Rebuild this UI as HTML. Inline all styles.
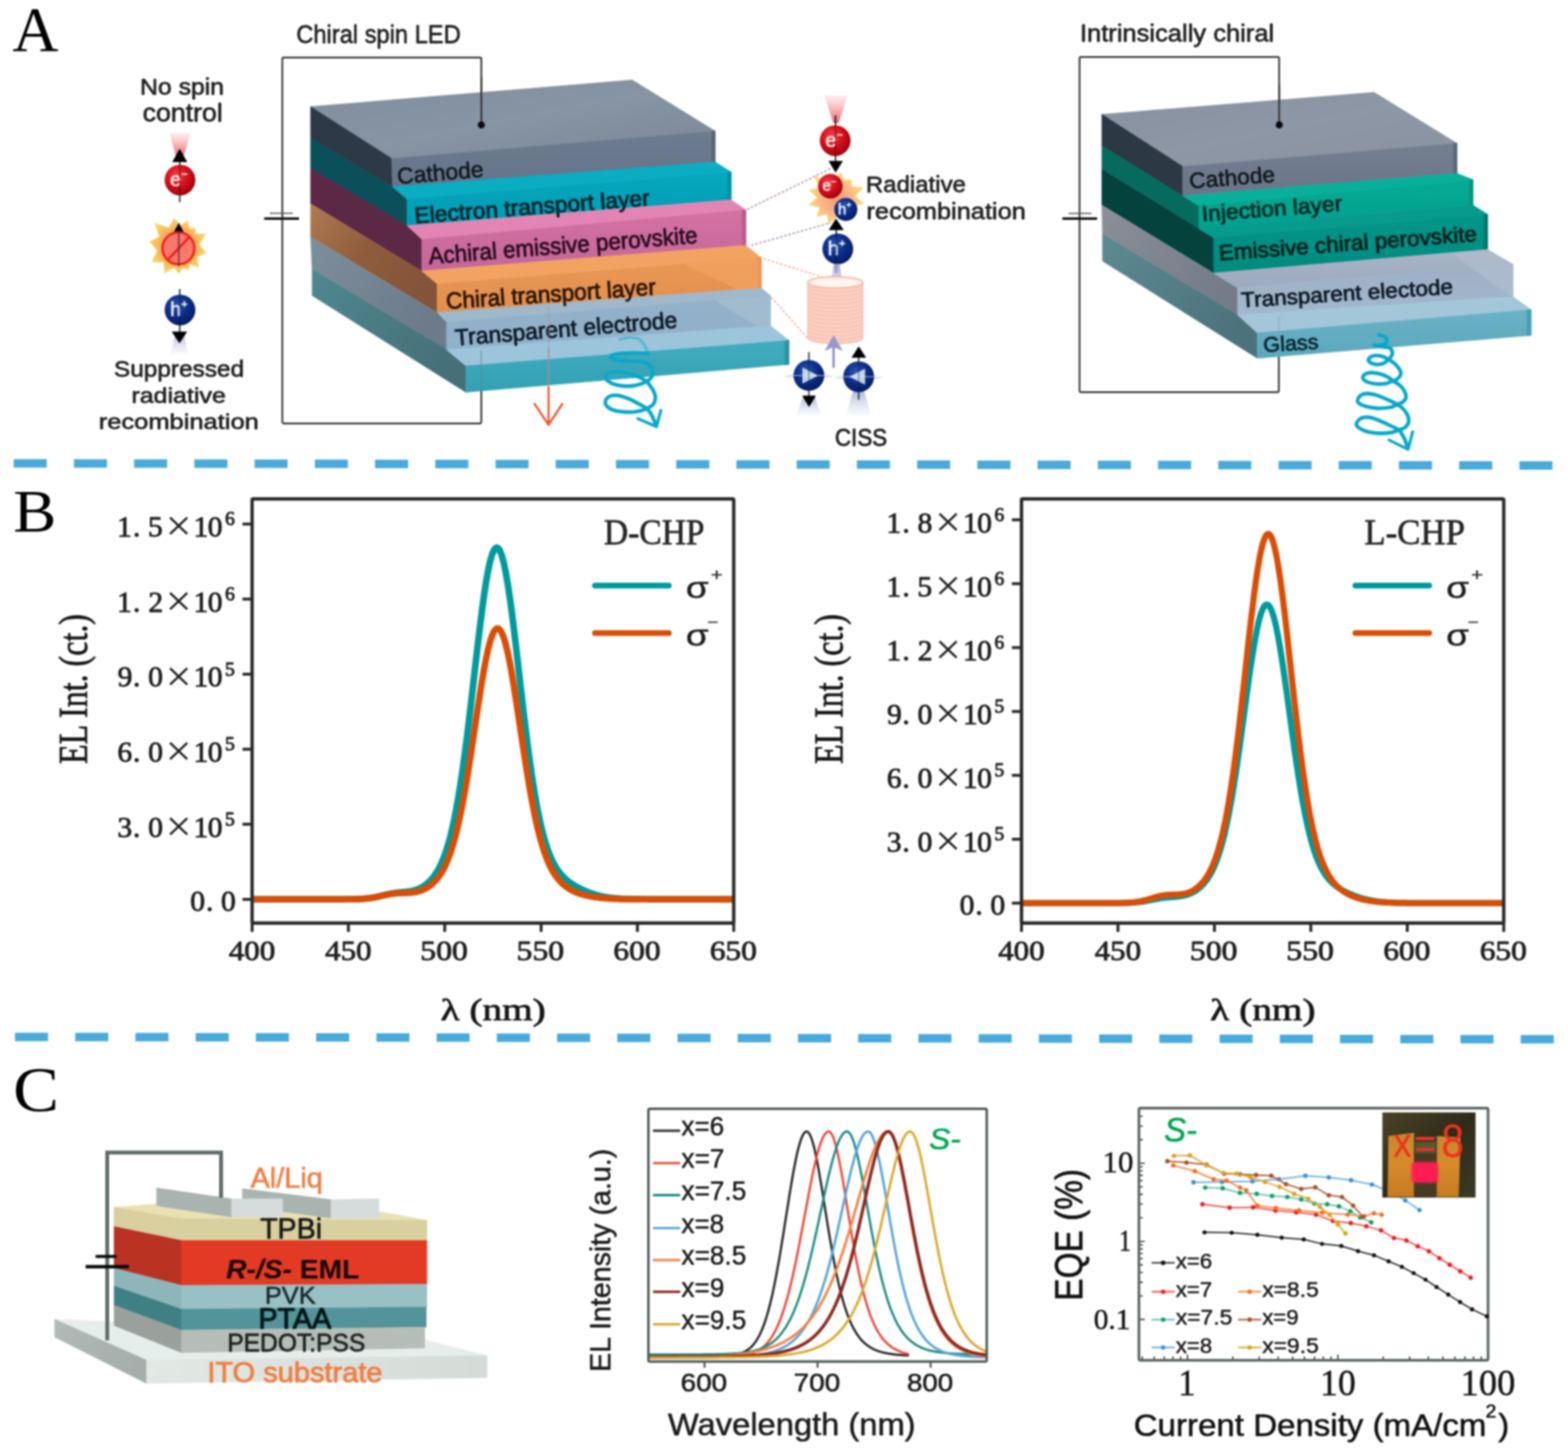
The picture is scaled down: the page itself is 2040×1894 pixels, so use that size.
<!DOCTYPE html>
<html lang="en"><head><meta charset="utf-8"><title>Chiral spin LED figure</title>
<style>
html,body{margin:0;padding:0;background:#fff;}
html,body{width:2040px;height:1894px;}
body{font-family:"Liberation Sans",sans-serif;}
svg{display:block;filter:blur(0.9px);}
text{white-space:pre;}
</style></head><body>
<svg width="2040" height="1894" viewBox="0 0 2040 1894">
<rect width="2040" height="1894" fill="#ffffff"/>
<defs>
<linearGradient id="gRedUp" x1="0" y1="0" x2="0" y2="1"><stop offset="0" stop-color="#ffd0d4" stop-opacity="0.4"/><stop offset="0.6" stop-color="#f59aa2" stop-opacity="0.9"/><stop offset="1" stop-color="#ee6a76" stop-opacity="1"/></linearGradient>
<linearGradient id="gBlueDn" x1="0" y1="0" x2="0" y2="1"><stop offset="0" stop-color="#b9b6de" stop-opacity="0.9"/><stop offset="1" stop-color="#e4e3f3" stop-opacity="0.2"/></linearGradient>
<linearGradient id="gBlueDn2" x1="0" y1="0" x2="0" y2="1"><stop offset="0" stop-color="#9fb3d8" stop-opacity="0.95"/><stop offset="1" stop-color="#e1e8f4" stop-opacity="0.25"/></linearGradient>
<linearGradient id="gBlueUp" x1="0" y1="1" x2="0" y2="0"><stop offset="0" stop-color="#c9c6e6" stop-opacity="0.5"/><stop offset="1" stop-color="#9a98cc" stop-opacity="0.95"/></linearGradient>
<radialGradient id="gBallR" cx="0.4" cy="0.35" r="0.75"><stop offset="0" stop-color="#f5434a"/><stop offset="0.45" stop-color="#d8101c"/><stop offset="1" stop-color="#8a0008"/></radialGradient>
<radialGradient id="gBallB" cx="0.4" cy="0.35" r="0.75"><stop offset="0" stop-color="#2b55b4"/><stop offset="0.45" stop-color="#0c2f8a"/><stop offset="1" stop-color="#031658"/></radialGradient>
<radialGradient id="gBurst" cx="0.5" cy="0.5" r="0.5"><stop offset="0" stop-color="#f58a5a"/><stop offset="0.62" stop-color="#f8ae5c"/><stop offset="1" stop-color="#fbd665"/></radialGradient>
<radialGradient id="gBurst2" cx="0.5" cy="0.5" r="0.5"><stop offset="0" stop-color="#f79a7c"/><stop offset="0.6" stop-color="#fab985"/><stop offset="1" stop-color="#fcdc80"/></radialGradient>
<linearGradient id="gCathTop" x1="0" y1="0" x2="1" y2="1"><stop offset="0" stop-color="#7f8e9d"/><stop offset="0.5" stop-color="#8794a3"/><stop offset="1" stop-color="#7b8797"/></linearGradient>
<linearGradient id="gCathFront" x1="0" y1="0" x2="0" y2="1"><stop offset="0" stop-color="#6d7c8e"/><stop offset="1" stop-color="#65748a"/></linearGradient>
<linearGradient id="gEtl" x1="0" y1="0" x2="0" y2="1"><stop offset="0" stop-color="#06a9bf"/><stop offset="1" stop-color="#019bb3"/></linearGradient>
<linearGradient id="gPink" x1="0" y1="0" x2="0" y2="1"><stop offset="0" stop-color="#d472a3"/><stop offset="1" stop-color="#c4669a"/></linearGradient>
<linearGradient id="gOrange" x1="0" y1="0" x2="0" y2="1"><stop offset="0" stop-color="#eb9855"/><stop offset="1" stop-color="#e28f4e"/></linearGradient>
<linearGradient id="gOrSide" x1="0" y1="0" x2="1" y2="0.6"><stop offset="0" stop-color="#b07a52"/><stop offset="0.5" stop-color="#8f5d3c"/><stop offset="1" stop-color="#84543a"/></linearGradient>
<linearGradient id="gTe" x1="0" y1="0" x2="0" y2="1"><stop offset="0" stop-color="#94b1c8"/><stop offset="1" stop-color="#8fb2cb"/></linearGradient>
<linearGradient id="gTeSide" x1="0" y1="0" x2="1" y2="0.6"><stop offset="0" stop-color="#7d8e9c"/><stop offset="1" stop-color="#6c7a8a"/></linearGradient>
<linearGradient id="gGlass" x1="0" y1="0" x2="0" y2="1"><stop offset="0" stop-color="#41acbe"/><stop offset="1" stop-color="#33a1b4"/></linearGradient>
<linearGradient id="gGlSide" x1="0" y1="0" x2="1" y2="0.6"><stop offset="0" stop-color="#4f8890"/><stop offset="1" stop-color="#466f78"/></linearGradient>
<linearGradient id="gCath2Top" x1="0" y1="0" x2="1" y2="1"><stop offset="0" stop-color="#87919f"/><stop offset="0.5" stop-color="#8e97a5"/><stop offset="1" stop-color="#8a92a0"/></linearGradient>
<linearGradient id="gCath2Front" x1="0" y1="0" x2="0" y2="1"><stop offset="0" stop-color="#747f90"/><stop offset="1" stop-color="#6a7688"/></linearGradient>
<linearGradient id="gInj" x1="0" y1="0" x2="0" y2="1"><stop offset="0" stop-color="#05ab96"/><stop offset="1" stop-color="#02a08c"/></linearGradient>
<linearGradient id="gEmi" x1="0" y1="0" x2="0" y2="1"><stop offset="0" stop-color="#03968a"/><stop offset="1" stop-color="#028a7e"/></linearGradient>
<linearGradient id="gTe2" x1="0" y1="0" x2="0" y2="1"><stop offset="0" stop-color="#9fb0c6"/><stop offset="1" stop-color="#a0b8cd"/></linearGradient>
<linearGradient id="gTe2Top" x1="0" y1="0" x2="0" y2="1"><stop offset="0" stop-color="#a9b4c6"/><stop offset="1" stop-color="#9caabf"/></linearGradient>
<linearGradient id="gTe2Side" x1="0" y1="0" x2="1" y2="0.6"><stop offset="0" stop-color="#8b8f98"/><stop offset="1" stop-color="#747c8a"/></linearGradient>
<linearGradient id="gGlass2" x1="0" y1="0" x2="0" y2="1"><stop offset="0" stop-color="#6cb2c6"/><stop offset="1" stop-color="#5aa8bd"/></linearGradient>
<linearGradient id="gGl2Side" x1="0" y1="0" x2="1" y2="0.6"><stop offset="0" stop-color="#5d8a92"/><stop offset="1" stop-color="#4c727c"/></linearGradient>

<linearGradient id="cItoSide" x1="0" y1="0" x2="1" y2="0.5"><stop offset="0" stop-color="#b0bab6"/><stop offset="1" stop-color="#a4aeaa"/></linearGradient>
<linearGradient id="cItoFront" x1="0" y1="0" x2="1" y2="0"><stop offset="0" stop-color="#e2e9e5"/><stop offset="1" stop-color="#d5dbd7"/></linearGradient>
<linearGradient id="cPhoto" x1="0" y1="0" x2="1" y2="1"><stop offset="0" stop-color="#4b4328"/><stop offset="0.5" stop-color="#2f2b18"/><stop offset="1" stop-color="#3a3a24"/></linearGradient>
<linearGradient id="cStripe" x1="0" y1="0" x2="0" y2="1"><stop offset="0" stop-color="#c98830"/><stop offset="0.5" stop-color="#d88a2c"/><stop offset="1" stop-color="#c67a22"/></linearGradient>
<filter id="fGlow" x="-30%" y="-30%" width="160%" height="160%"><feGaussianBlur stdDeviation="1.6"/></filter>
</defs>
<text transform="translate(17.00,66.30) scale(1.0085,1)" x="-0.82" y="0" font-family='"Liberation Serif", serif' font-size="82.14" fill="#000">A</text>
<text transform="translate(185.00,123.00) scale(1.1171,1)" x="-2.38" y="0" font-family='"Liberation Sans", sans-serif' font-size="28.80" fill="#222" stroke="#222" stroke-width="0.8" stroke-linejoin="round">No spin</text>
<text transform="translate(187.00,157.80) scale(1.0584,1)" x="-1.39" y="0" font-family='"Liberation Sans", sans-serif' font-size="32.80" fill="#222" stroke="#222" stroke-width="0.8" stroke-linejoin="round">control</text>
<polygon points="220.0,173.0 248.0,173.0 239.0,203.0 229.0,203.0" fill="url(#gRedUp)" />
<line x1="233.8" y1="205.0" x2="233.8" y2="263.0" stroke="#111" stroke-width="1.6" />
<circle cx="234.2" cy="234.2" r="20" fill="url(#gBallR)"/><text x="232.7" y="242.0" text-anchor="middle" font-family='"Liberation Sans", sans-serif' font-size="26" fill="#fff" fill-opacity="0.93" stroke="#fff" stroke-width="0.5">e<tspan font-size="14.3" dy="-10.9">−</tspan></text>
<line x1="233.8" y1="214.0" x2="233.8" y2="254.0" stroke="#300" stroke-width="1.4" opacity="0.55"/>
<polygon points="233.8,194.0 243.0,210.5 224.6,210.5" fill="#000" stroke="#000" stroke-width="0.7" stroke-linejoin="round"/>
<polygon points="226.8,284.2 234.9,293.7 244.2,287.5 246.2,297.4 253.7,296.8 254.1,304.6 267.1,304.6 259.3,318.1 267.7,329.2 256.1,334.3 258.4,347.4 247.4,343.8 244.7,350.9 238.0,347.8 233.2,355.6 226.0,347.8 214.7,355.0 213.1,340.9 197.8,340.8 204.9,325.8 194.7,314.4 207.6,308.3 201.6,290.6 219.7,296.4" fill="url(#gBurst)" stroke="#f9d46a" stroke-width="1.0" stroke-linejoin="round"/>
<polygon points="232.6,290.5 239.2,303.0 226.0,303.0" fill="#000" stroke="#000" stroke-width="0.7" stroke-linejoin="round"/>
<circle cx="232.2" cy="323" r="20.8" fill="#fb6f6f" fill-opacity="0.8" stroke="#f01d1d" stroke-width="3"/>
<line x1="218.5" y1="338.0" x2="246.5" y2="308.0" stroke="#f01d1d" stroke-width="3" />
<line x1="232.6" y1="301.0" x2="232.6" y2="346.5" stroke="#5e2a2a" stroke-width="2.3" opacity="0.75"/>
<polygon points="227.0,438.0 240.0,438.0 244.5,461.0 222.0,461.0" fill="url(#gBlueDn)" />
<line x1="233.8" y1="376.0" x2="233.8" y2="434.0" stroke="#111" stroke-width="1.6" />
<circle cx="234.2" cy="403.2" r="20" fill="url(#gBallB)"/><text x="232.7" y="411.0" text-anchor="middle" font-family='"Liberation Sans", sans-serif' font-size="26" fill="#fff" fill-opacity="0.93" stroke="#fff" stroke-width="0.5">h<tspan font-size="14.3" dy="-10.9">+</tspan></text>
<line x1="233.8" y1="386.0" x2="233.8" y2="424.0" stroke="#001" stroke-width="1.4" opacity="0.45"/>
<polygon points="224.0,431.7 243.0,431.7 233.5,446.0" fill="#000" stroke="#000" stroke-width="0.7" stroke-linejoin="round"/>
<text transform="translate(149.70,490.00) scale(1.0958,1)" x="-1.30" y="0" font-family='"Liberation Sans", sans-serif' font-size="28.96" fill="#222" stroke="#222" stroke-width="0.8" stroke-linejoin="round">Suppressed</text>
<text transform="translate(173.00,524.00) scale(1.1679,1)" x="-1.81" y="0" font-family='"Liberation Sans", sans-serif' font-size="27.86" fill="#222" stroke="#222" stroke-width="0.8" stroke-linejoin="round">radiative</text>
<text transform="translate(130.60,558.30) scale(1.1906,1)" x="-1.81" y="0" font-family='"Liberation Sans", sans-serif' font-size="27.86" fill="#222" stroke="#222" stroke-width="0.8" stroke-linejoin="round">recombination</text>
<text transform="translate(387.00,56.00) scale(0.9143,1)" x="-1.68" y="0" font-family='"Liberation Sans", sans-serif' font-size="33.69" fill="#222" stroke="#222" stroke-width="0.8" stroke-linejoin="round">Chiral spin LED</text>
<path d="M626.2,162.4 V76.5 Q626.2,74.8 624.5,74.8 H369 Q367.3,74.8 367.3,76.5 V548.5 Q367.3,550.8 369.6,550.8 H624 Q626.2,550.8 626.2,548.5 V505" stroke="#2e2e2e" stroke-width="2.2" fill="none" />
<line x1="351.0" y1="277.4" x2="381.0" y2="277.4" stroke="#555" stroke-width="1.6" />
<line x1="343.7" y1="284.4" x2="389.0" y2="284.4" stroke="#111" stroke-width="3.4" />
<polygon points="404.1,138.7 822.5,104.1 930.5,170.5 509.6,206.2" fill="url(#gCathTop)" stroke="url(#gCathTop)" stroke-width="0.7" stroke-linejoin="round"/>
<polygon points="404.1,138.7 509.6,206.2 510.7,243.2 404.1,179.5" fill="#2d3946" stroke="#2d3946" stroke-width="0.7" stroke-linejoin="round"/>
<polygon points="509.6,206.2 930.5,170.5 930.5,211.0 510.7,243.2" fill="url(#gCathFront)" stroke="url(#gCathFront)" stroke-width="0.7" stroke-linejoin="round"/>
<polygon points="926.0,171.0 930.5,170.5 930.5,211.0 926.0,211.4" fill="#566574" stroke="#566574" stroke-width="0.7" stroke-linejoin="round"/>
<polygon points="404.1,179.5 510.7,243.2 529.7,259.2 529.7,294.0 404.1,218.7" fill="#0a4f59" stroke="#0a4f59" stroke-width="0.7" stroke-linejoin="round"/>
<polygon points="510.7,242.8 930.5,210.7 951.2,223.7 529.7,258.9" fill="#0aadc2" stroke="#0aadc2" stroke-width="0.7" stroke-linejoin="round"/>
<polygon points="529.7,258.9 951.2,223.7 951.2,259.9 529.7,293.8" fill="url(#gEtl)" stroke="url(#gEtl)" stroke-width="0.7" stroke-linejoin="round"/>
<polygon points="946.5,224.1 951.2,223.7 951.2,259.9 946.5,260.3" fill="#0690a4" stroke="#0690a4" stroke-width="0.7" stroke-linejoin="round"/>
<polygon points="404.1,218.7 529.7,293.8 548.8,311.2 548.8,352.8 404.1,264.9" fill="#5b2946" stroke="#5b2946" stroke-width="0.7" stroke-linejoin="round"/>
<polygon points="529.7,293.5 951.2,259.9 970.3,273.0 548.8,311.2" fill="#e385b4" stroke="#e385b4" stroke-width="0.7" stroke-linejoin="round"/>
<polygon points="548.8,311.2 970.3,273.0 970.3,319.2 548.8,352.6" fill="url(#gPink)" stroke="url(#gPink)" stroke-width="0.7" stroke-linejoin="round"/>
<polygon points="965.5,273.4 970.3,273.0 970.3,319.2 965.5,319.6" fill="#b95d8b" stroke="#b95d8b" stroke-width="0.7" stroke-linejoin="round"/>
<polygon points="404.1,264.9 548.8,352.6 568.9,369.4 568.9,406.8 404.1,308.1" fill="url(#gOrSide)" stroke="url(#gOrSide)" stroke-width="0.7" stroke-linejoin="round"/>
<polygon points="548.8,352.4 970.3,319.2 990.4,335.3 568.9,369.4" fill="#f2a362" stroke="#f2a362" stroke-width="0.7" stroke-linejoin="round"/>
<polygon points="568.9,369.4 990.4,335.3 990.4,374.5 568.9,406.6" fill="url(#gOrange)" stroke="url(#gOrange)" stroke-width="0.7" stroke-linejoin="round"/>
<polygon points="985.5,335.7 990.4,335.3 990.4,374.5 985.5,374.9" fill="#d98845" stroke="#d98845" stroke-width="0.7" stroke-linejoin="round"/>
<polygon points="404.1,308.1 568.9,406.6 581.0,418.7 581.0,455.0 406.1,350.4" fill="url(#gTeSide)" stroke="url(#gTeSide)" stroke-width="0.7" stroke-linejoin="round"/>
<polygon points="568.9,406.6 990.4,374.5 1002.4,384.5 581.0,418.7" fill="#9fb8cb" stroke="#9fb8cb" stroke-width="0.7" stroke-linejoin="round"/>
<polygon points="581.0,418.7 1002.4,384.5 1002.4,423.7 581.0,454.9" fill="url(#gTe)" stroke="url(#gTe)" stroke-width="0.7" stroke-linejoin="round"/>
<polygon points="406.1,350.4 581.0,454.9 606.1,476.0 606.1,510.2 406.1,384.5" fill="url(#gGlSide)" stroke="url(#gGlSide)" stroke-width="0.7" stroke-linejoin="round"/>
<polygon points="581.0,454.9 1002.4,423.7 1026.5,442.8 606.1,476.0" fill="#9cc5db" stroke="#9cc5db" stroke-width="0.7" stroke-linejoin="round"/>
<polygon points="606.1,476.0 1026.5,442.8 1026.5,474.0 606.1,510.2" fill="url(#gGlass)" stroke="url(#gGlass)" stroke-width="0.7" stroke-linejoin="round"/>
<polygon points="1021.0,443.2 1026.5,442.8 1026.5,474.0 1021.0,474.5" fill="#2f93a3" stroke="#2f93a3" stroke-width="0.7" stroke-linejoin="round"/>
<polygon points="890.0,343.5 990.4,335.3 990.4,374.5 960.0,377.0" fill="#f6a865" opacity="0.55"/>
<polygon points="930.0,390.5 1002.4,384.5 1002.4,423.7 985.0,425.0" fill="#a8bfd2" opacity="0.7"/>
<line x1="626.2" y1="456.0" x2="626.2" y2="508.0" stroke="#5c7f90" stroke-width="1.6" opacity="0.6"/>
<line x1="626.2" y1="100.0" x2="626.2" y2="162.4" stroke="#2e2e2e" stroke-width="2.2" />
<circle cx="626.2" cy="162.6" r="4.6" fill="#0a0a0a"/>
<text transform="translate(519.00,239.30) rotate(-4.90) scale(1.0150,1)" x="-1.47" y="0" font-family='"Liberation Sans", sans-serif' font-size="29.39" fill="#10161c" stroke="#10161c" stroke-width="0.7" stroke-linejoin="round">Cathode</text>
<text transform="translate(542.50,290.30) rotate(-4.40) scale(1.0205,1)" x="-2.40" y="0" font-family='"Liberation Sans", sans-serif' font-size="29.09" fill="#04232b" stroke="#04232b" stroke-width="1.0" stroke-linejoin="round">Electron transport layer</text>
<text transform="translate(558.50,343.40) rotate(-4.50) scale(0.9525,1)" x="-0.08" y="0" font-family='"Liberation Sans", sans-serif' font-size="30.55" fill="#2a0d20" stroke="#2a0d20" stroke-width="1.0" stroke-linejoin="round">Achiral emissive perovskite</text>
<text transform="translate(582.50,401.80) rotate(-3.90) scale(0.9786,1)" x="-1.51" y="0" font-family='"Liberation Sans", sans-serif' font-size="30.11" fill="#2b1605" stroke="#2b1605" stroke-width="1.0" stroke-linejoin="round">Chiral transport layer</text>
<text transform="translate(593.50,449.40) rotate(-4.60) scale(0.9978,1)" x="-0.67" y="0" font-family='"Liberation Sans", sans-serif' font-size="29.82" fill="#0e1a26" stroke="#0e1a26" stroke-width="1.0" stroke-linejoin="round">Transparent electrode</text>
<line x1="713.7" y1="399.0" x2="713.7" y2="452.0" stroke="#b08a96" stroke-width="2.0" opacity="0.4"/>
<line x1="713.7" y1="452.0" x2="713.7" y2="503.0" stroke="#b08a96" stroke-width="2.2" opacity="0.75"/>
<line x1="713.7" y1="503.0" x2="713.7" y2="551.0" stroke="#f0532c" stroke-width="2.6" />
<path d="M694.8,524.5 L713.7,552.5 L732.2,524.5" stroke="#f0532c" stroke-width="2.8" fill="none" stroke-linejoin="miter"/>
<path d="M806.4,441.4 C808.4,441.0 814.4,439.2 818.5,439.1 C822.5,439.0 827.6,439.3 830.6,440.6 C833.6,441.9 835.0,444.6 836.7,446.7 C838.3,448.7 839.4,450.6 840.5,452.7 C841.5,454.8 842.7,458.1 843.1,459.2" stroke="#0aa7ca" stroke-width="3.84" fill="none" stroke-linecap="round" stroke-linejoin="round" opacity="0.45"/><path d="M843.1,459.9 C841.0,459.8 834.6,459.3 830.6,459.2 C826.6,459.0 823.3,459.0 819.2,459.2 C815.2,459.3 810.0,459.5 806.4,459.9 C802.7,460.4 799.3,461.1 797.3,461.8 C795.3,462.6 794.0,463.5 794.2,464.5 C794.5,465.4 796.5,466.7 798.8,467.5 C801.1,468.3 804.5,468.6 807.9,469.0 C811.3,469.4 815.5,469.6 819.2,469.8 C823.0,470.0 827.4,469.9 830.6,470.2 C833.8,470.4 835.8,470.5 838.2,471.3 C840.6,472.1 843.2,473.4 845.0,475.1 C846.8,476.8 848.2,479.3 848.8,481.5 C849.4,483.7 849.3,486.4 848.8,488.3 C848.3,490.2 847.1,491.6 845.8,492.9 C844.4,494.2 842.7,495.0 840.8,496.1 C838.9,497.1 837.4,498.3 834.4,499.3 C831.4,500.3 827.2,501.5 823.0,502.0 C818.9,502.4 813.8,502.5 809.4,502.0 C805.0,501.5 799.8,500.2 796.5,498.9 C793.2,497.7 791.1,495.8 789.7,494.4 C788.3,493.0 788.1,492.0 788.2,490.6 C788.3,489.2 788.9,487.2 790.5,486.1 C792.0,484.9 794.4,484.2 797.3,483.8 C800.2,483.4 804.2,483.4 807.9,483.8 C811.5,484.2 815.5,485.0 819.2,486.1 C823.0,487.1 827.0,488.6 830.6,490.2 C834.2,491.9 838.2,494.0 840.8,496.1 C843.5,498.1 844.7,500.2 846.5,502.7 C848.3,505.2 850.4,508.4 851.4,511.1 C852.4,513.7 852.8,516.2 852.6,518.6 C852.4,521.0 851.4,523.7 850.3,525.5 C849.2,527.2 847.3,528.3 845.8,529.2 C844.2,530.2 843.1,530.5 841.2,531.4 C839.3,532.2 837.4,533.4 834.4,534.2 C831.4,534.9 827.2,535.8 823.0,536.1 C818.9,536.3 813.8,536.2 809.4,535.7 C805.0,535.2 799.8,534.2 796.5,533.0 C793.2,531.8 791.2,530.0 789.7,528.5 C788.2,527.0 787.4,525.7 787.4,523.9 C787.4,522.2 788.2,519.5 789.7,517.9 C791.2,516.3 793.7,515.0 796.5,514.5 C799.3,514.0 803.0,514.2 806.4,514.8 C809.8,515.5 813.2,516.7 817.0,518.3 C820.8,519.8 825.1,522.1 829.1,524.3 C833.1,526.5 838.3,529.2 841.2,531.4 C844.1,533.6 845.0,535.3 846.5,537.6 C848.0,539.9 849.1,542.5 850.3,545.2 C851.5,547.8 853.1,552.1 853.7,553.5" stroke="#0aa7ca" stroke-width="4.8" fill="none" stroke-linecap="round" stroke-linejoin="round"/><path d="M829.8,544.4 L854.1,555.0 L859.8,533.8" stroke="#0aa7ca" stroke-width="3.84" fill="none" stroke-linecap="round" stroke-linejoin="round"/>
<line x1="972.0" y1="272.5" x2="1081.8" y2="218.7" stroke="#b294b4" stroke-width="1.8" stroke-dasharray="3.2 2.4"/>
<line x1="977.3" y1="319.2" x2="1079.8" y2="290.0" stroke="#b294b4" stroke-width="1.8" stroke-dasharray="3.2 2.4"/>
<line x1="993.4" y1="336.3" x2="1069.7" y2="360.4" stroke="#f0a58f" stroke-width="1.6" stroke-dasharray="3.2 2.4"/>
<line x1="1003.4" y1="387.0" x2="1051.7" y2="440.8" stroke="#f0a58f" stroke-width="1.6" stroke-dasharray="3.2 2.4"/>
<polygon points="1072.5,124.0 1102.8,124.0 1091.2,160.0 1084.0,160.0" fill="url(#gRedUp)" />
<line x1="1087.0" y1="150.0" x2="1087.0" y2="215.0" stroke="#111" stroke-width="1.7" />
<circle cx="1086.6" cy="182.9" r="20" fill="url(#gBallR)"/><text x="1085.1" y="190.7" text-anchor="middle" font-family='"Liberation Sans", sans-serif' font-size="26" fill="#fff" fill-opacity="0.93" stroke="#fff" stroke-width="0.5">e<tspan font-size="14.3" dy="-10.9">−</tspan></text>
<line x1="1087.0" y1="163.0" x2="1087.0" y2="203.0" stroke="#300" stroke-width="1.4" opacity="0.5"/>
<polygon points="1078.5,209.7 1096.0,209.7 1087.2,224.0" fill="#000" stroke="#000" stroke-width="0.7" stroke-linejoin="round"/>
<polygon points="1093.7,224.5 1098.4,234.8 1107.3,234.0 1108.1,242.9 1122.8,244.3 1112.4,255.3 1123.2,264.5 1110.0,267.7 1111.7,276.9 1102.1,277.1 1098.3,285.2 1089.1,281.5 1078.7,291.8 1075.8,278.2 1063.3,281.7 1066.8,269.2 1052.3,266.6 1063.5,257.0 1053.2,247.7 1066.8,244.8 1059.7,228.7 1075.8,235.8 1080.2,228.0 1086.9,232.5" fill="url(#gBurst2)" stroke="#f9d46a" stroke-width="1.0" stroke-linejoin="round"/>
<circle cx="1080.3" cy="242.3" r="16" fill="url(#gBallR)"/><text x="1078.8" y="248.3" text-anchor="middle" font-family='"Liberation Sans", sans-serif' font-size="20" fill="#fff" fill-opacity="0.93" stroke="#fff" stroke-width="0.5">e<tspan font-size="11.0" dy="-8.4">−</tspan></text>
<circle cx="1100.4" cy="272.5" r="15" fill="url(#gBallB)"/><text x="1098.9" y="278.5" text-anchor="middle" font-family='"Liberation Sans", sans-serif' font-size="20" fill="#fff" fill-opacity="0.93" stroke="#fff" stroke-width="0.5">h<tspan font-size="11.0" dy="-8.4">+</tspan></text>
<polygon points="1087.7,284.8 1097.2,299.0 1078.8,299.0" fill="#000" stroke="#000" stroke-width="0.7" stroke-linejoin="round"/>
<line x1="1088.0" y1="298.0" x2="1088.0" y2="355.0" stroke="#111" stroke-width="1.7" />
<circle cx="1090" cy="323.8" r="20" fill="url(#gBallB)"/><text x="1088.5" y="331.6" text-anchor="middle" font-family='"Liberation Sans", sans-serif' font-size="26" fill="#fff" fill-opacity="0.93" stroke="#fff" stroke-width="0.5">h<tspan font-size="14.3" dy="-10.9">+</tspan></text>
<line x1="1088.0" y1="304.0" x2="1088.0" y2="343.0" stroke="#001" stroke-width="1.4" opacity="0.45"/>
<polygon points="1081.0,366.0 1096.0,366.0 1092.0,343.0 1085.0,343.0" fill="url(#gBlueUp)" />
<path d="M1050.7,367.4 V439.6 A36.10000000000002,7.5 0 0 0 1122.9,439.6 V367.4 A36.10000000000002,7.5 0 0 0 1050.7,367.4 Z" fill="#fbcfc2" stroke="#f6b3a2" stroke-width="0.8"/><path d="M1050.7,372.6 A36.10000000000002,7.5 0 0 0 1122.9,372.6" fill="none" stroke="#f4a994" stroke-width="1" opacity="0.6"/><path d="M1050.7,377.7 A36.10000000000002,7.5 0 0 0 1122.9,377.7" fill="none" stroke="#f4a994" stroke-width="1" opacity="0.6"/><path d="M1050.7,382.9 A36.10000000000002,7.5 0 0 0 1122.9,382.9" fill="none" stroke="#f4a994" stroke-width="1" opacity="0.6"/><path d="M1050.7,388.0 A36.10000000000002,7.5 0 0 0 1122.9,388.0" fill="none" stroke="#f4a994" stroke-width="1" opacity="0.6"/><path d="M1050.7,393.2 A36.10000000000002,7.5 0 0 0 1122.9,393.2" fill="none" stroke="#f4a994" stroke-width="1" opacity="0.6"/><path d="M1050.7,398.3 A36.10000000000002,7.5 0 0 0 1122.9,398.3" fill="none" stroke="#f4a994" stroke-width="1" opacity="0.6"/><path d="M1050.7,403.5 A36.10000000000002,7.5 0 0 0 1122.9,403.5" fill="none" stroke="#f4a994" stroke-width="1" opacity="0.6"/><path d="M1050.7,408.7 A36.10000000000002,7.5 0 0 0 1122.9,408.7" fill="none" stroke="#f4a994" stroke-width="1" opacity="0.6"/><path d="M1050.7,413.8 A36.10000000000002,7.5 0 0 0 1122.9,413.8" fill="none" stroke="#f4a994" stroke-width="1" opacity="0.6"/><path d="M1050.7,419.0 A36.10000000000002,7.5 0 0 0 1122.9,419.0" fill="none" stroke="#f4a994" stroke-width="1" opacity="0.6"/><path d="M1050.7,424.1 A36.10000000000002,7.5 0 0 0 1122.9,424.1" fill="none" stroke="#f4a994" stroke-width="1" opacity="0.6"/><path d="M1050.7,429.3 A36.10000000000002,7.5 0 0 0 1122.9,429.3" fill="none" stroke="#f4a994" stroke-width="1" opacity="0.6"/><path d="M1050.7,434.4 A36.10000000000002,7.5 0 0 0 1122.9,434.4" fill="none" stroke="#f4a994" stroke-width="1" opacity="0.6"/><path d="M1050.7,439.6 A36.10000000000002,7.5 0 0 0 1122.9,439.6" fill="none" stroke="#f4a994" stroke-width="1" opacity="0.6"/><ellipse cx="1086.8000000000002" cy="367.4" rx="36.10000000000002" ry="7.5" fill="#fde9e1" stroke="#f3a893" stroke-width="1.2"/><ellipse cx="1086.8000000000002" cy="367.9" rx="30.100000000000023" ry="5.0" fill="#fff" opacity="0.55"/>
<line x1="1084.5" y1="446.0" x2="1084.5" y2="478.5" stroke="#8f95c9" stroke-width="3.2" />
<polygon points="1084.5,436.5 1096.0,456.0 1084.5,451.0 1073.5,456.0" fill="#9a98c8" stroke="#9a98c8" stroke-width="0.7" stroke-linejoin="round"/>
<ellipse cx="1052.4" cy="489.3" rx="31" ry="3" fill="#c9d6ea" opacity="0.6"/>
<ellipse cx="1117.2" cy="491" rx="31" ry="3" fill="#c9d6ea" opacity="0.6"/>
<polygon points="1036.0,540.0 1068.0,540.0 1060.0,516.0 1045.0,516.0" fill="url(#gBlueDn2)" />
<polygon points="1101.0,540.0 1133.0,540.0 1124.0,508.0 1110.0,508.0" fill="url(#gBlueDn2)" />
<line x1="1052.4" y1="458.0" x2="1052.4" y2="518.0" stroke="#222" stroke-width="1.7" />
<line x1="1117.2" y1="462.0" x2="1117.2" y2="520.0" stroke="#222" stroke-width="1.7" />
<circle cx="1052.4" cy="488.3" r="20" fill="url(#gBallB)"/>
<circle cx="1117.2" cy="490" r="20" fill="url(#gBallB)"/>
<polygon points="1044.0,478.0 1064.5,488.5 1044.0,499.0" fill="#d5e6f2" opacity="0.9"/>
<line x1="1033.0" y1="488.5" x2="1072.0" y2="488.5" stroke="#e8f0f8" stroke-width="1.2" opacity="0.8"/>
<polygon points="1125.5,479.5 1105.0,490.0 1125.5,500.5" fill="#d5e6f2" opacity="0.9"/>
<line x1="1098.0" y1="490.0" x2="1137.0" y2="490.0" stroke="#e8f0f8" stroke-width="1.2" opacity="0.8"/>
<line x1="1052.4" y1="470.0" x2="1052.4" y2="506.0" stroke="#122" stroke-width="1.4" opacity="0.5"/>
<line x1="1117.2" y1="472.0" x2="1117.2" y2="508.0" stroke="#122" stroke-width="1.4" opacity="0.5"/>
<polygon points="1044.2,515.0 1061.0,515.0 1052.6,529.0" fill="#000" stroke="#000" stroke-width="0.7" stroke-linejoin="round"/>
<polygon points="1117.2,451.0 1126.4,465.0 1108.4,465.0" fill="#000" stroke="#000" stroke-width="0.7" stroke-linejoin="round"/>
<text transform="translate(1087.70,580.00) scale(0.9546,1)" x="-1.53" y="0" font-family='"Liberation Sans", sans-serif' font-size="30.54" fill="#222" stroke="#222" stroke-width="0.9" stroke-linejoin="round">CISS</text>
<text transform="translate(1129.00,250.00) scale(1.0335,1)" x="-2.50" y="0" font-family='"Liberation Sans", sans-serif' font-size="30.25" fill="#222" stroke="#222" stroke-width="0.8" stroke-linejoin="round">Radiative</text>
<text transform="translate(1129.50,284.60) scale(1.1506,1)" x="-1.86" y="0" font-family='"Liberation Sans", sans-serif' font-size="28.69" fill="#222" stroke="#222" stroke-width="0.8" stroke-linejoin="round">recombination</text>
<text transform="translate(1408.00,54.00) scale(1.0620,1)" x="-2.89" y="0" font-family='"Liberation Sans", sans-serif' font-size="31.27" fill="#222" stroke="#222" stroke-width="0.8" stroke-linejoin="round">Intrinsically chiral</text>
<path d="M1664.2,162.3 V76 Q1664.2,74.2 1662.4,74.2 H1406.3 Q1404.5,74.2 1404.5,76 V508 Q1404.5,510.2 1406.7,510.2 H1661.6 Q1663.8,510.2 1663.8,508 V464" stroke="#2e2e2e" stroke-width="2.2" fill="none" />
<line x1="1390.5" y1="277.6" x2="1420.0" y2="277.6" stroke="#555" stroke-width="1.6" />
<line x1="1382.2" y1="284.4" x2="1427.3" y2="284.4" stroke="#111" stroke-width="3.4" />
<polygon points="1433.6,148.8 1787.7,120.1 1895.6,186.4 1538.8,216.6" fill="url(#gCath2Top)" stroke="url(#gCath2Top)" stroke-width="0.7" stroke-linejoin="round"/>
<polygon points="1433.6,148.8 1538.8,216.6 1538.8,255.0 1433.6,189.4" fill="#2c3844" stroke="#2c3844" stroke-width="0.7" stroke-linejoin="round"/>
<polygon points="1538.8,216.6 1895.6,186.4 1895.6,225.6 1538.8,254.8" fill="url(#gCath2Front)" stroke="url(#gCath2Front)" stroke-width="0.7" stroke-linejoin="round"/>
<polygon points="1891.0,186.8 1895.6,186.4 1895.6,225.6 1891.0,226.0" fill="#5c6878" stroke="#5c6878" stroke-width="0.7" stroke-linejoin="round"/>
<polygon points="1433.6,189.4 1538.8,254.8 1559.9,267.8 1559.9,298.2 1433.6,220.6" fill="#076a5e" stroke="#076a5e" stroke-width="0.7" stroke-linejoin="round"/>
<polygon points="1538.8,254.8 1895.6,225.6 1916.4,233.7 1559.9,267.8" fill="#08b099" stroke="#08b099" stroke-width="0.7" stroke-linejoin="round"/>
<polygon points="1559.9,267.8 1916.4,233.7 1916.4,266.8 1559.9,298.0" fill="url(#gInj)" stroke="url(#gInj)" stroke-width="0.7" stroke-linejoin="round"/>
<polygon points="1911.5,234.2 1916.4,233.7 1916.4,266.8 1911.5,267.2" fill="#089680" stroke="#089680" stroke-width="0.7" stroke-linejoin="round"/>
<polygon points="1433.6,220.6 1559.9,298.0 1579.0,309.0 1579.0,355.5 1433.6,266.8" fill="#03423d" stroke="#03423d" stroke-width="0.7" stroke-linejoin="round"/>
<polygon points="1559.9,298.0 1916.4,266.8 1935.5,278.9 1579.0,309.0" fill="#079b8d" stroke="#079b8d" stroke-width="0.7" stroke-linejoin="round"/>
<polygon points="1579.0,309.0 1935.5,278.9 1935.5,324.6 1579.0,355.3" fill="url(#gEmi)" stroke="url(#gEmi)" stroke-width="0.7" stroke-linejoin="round"/>
<polygon points="1930.5,279.3 1935.5,278.9 1935.5,324.6 1930.5,325.0" fill="#047a6e" stroke="#047a6e" stroke-width="0.7" stroke-linejoin="round"/>
<polygon points="1433.6,266.8 1579.0,355.3 1610.2,374.6 1610.2,409.8 1434.3,304.5" fill="url(#gTe2Side)" stroke="url(#gTe2Side)" stroke-width="0.7" stroke-linejoin="round"/>
<polygon points="1579.0,355.3 1935.5,324.6 1968.6,344.0 1610.2,374.6" fill="url(#gTe2Top)" stroke="url(#gTe2Top)" stroke-width="0.7" stroke-linejoin="round"/>
<polygon points="1610.2,374.6 1968.6,344.0 1968.6,386.0 1610.2,409.8" fill="url(#gTe2)" stroke="url(#gTe2)" stroke-width="0.7" stroke-linejoin="round"/>
<polygon points="1890.0,330.0 1935.5,325.0 1968.6,344.0 1968.6,386.0 1950.0,375.0" fill="#b5c1d2" opacity="0.55"/>
<polygon points="1434.3,304.5 1610.2,409.8 1635.8,433.0 1635.8,466.0 1434.3,339.6" fill="url(#gGl2Side)" stroke="url(#gGl2Side)" stroke-width="0.7" stroke-linejoin="round"/>
<polygon points="1610.2,409.8 1968.6,386.0 1992.0,402.8 1635.8,433.0" fill="#a3c7d9" stroke="#a3c7d9" stroke-width="0.7" stroke-linejoin="round"/>
<polygon points="1635.8,433.0 1992.0,402.8 1992.0,436.3 1635.8,466.0" fill="url(#gGlass2)" stroke="url(#gGlass2)" stroke-width="0.7" stroke-linejoin="round"/>
<polygon points="1986.5,403.3 1992.0,402.8 1992.0,436.3 1986.5,436.8" fill="#4a9fb4" stroke="#4a9fb4" stroke-width="0.7" stroke-linejoin="round"/>
<line x1="1663.8" y1="411.0" x2="1663.8" y2="464.0" stroke="#7e9fb5" stroke-width="1.6" opacity="0.6"/>
<line x1="1664.2" y1="110.0" x2="1664.2" y2="162.4" stroke="#2e2e2e" stroke-width="2.2" />
<circle cx="1664.3" cy="162.4" r="4.6" fill="#0a0a0a"/>
<text transform="translate(1549.50,245.20) rotate(-4.60) scale(1.0309,1)" x="-1.43" y="0" font-family='"Liberation Sans", sans-serif' font-size="28.67" fill="#10161c" stroke="#10161c" stroke-width="0.7" stroke-linejoin="round">Cathode</text>
<text transform="translate(1567.00,287.80) rotate(-4.40) scale(1.0468,1)" x="-2.62" y="0" font-family='"Liberation Sans", sans-serif' font-size="28.36" fill="#032a25" stroke="#032a25" stroke-width="1.0" stroke-linejoin="round">Injection layer</text>
<text transform="translate(1589.00,338.60) rotate(-4.30) scale(1.0319,1)" x="-2.34" y="0" font-family='"Liberation Sans", sans-serif' font-size="28.36" fill="#02201c" stroke="#02201c" stroke-width="1.0" stroke-linejoin="round">Emissive chiral perovskite</text>
<text transform="translate(1616.00,399.80) rotate(-3.70) scale(1.0607,1)" x="-0.62" y="0" font-family='"Liberation Sans", sans-serif' font-size="27.64" fill="#101a26" stroke="#101a26" stroke-width="1.0" stroke-linejoin="round">Transparent electode</text>
<text transform="translate(1645.50,458.00) rotate(-3.50) scale(1.0329,1)" x="-1.36" y="0" font-family='"Liberation Sans", sans-serif' font-size="27.24" fill="#0b2a34" stroke="#0b2a34" stroke-width="1.0" stroke-linejoin="round">Glass</text>
<path d="M1794.0,435.6 C1795.5,436.1 1801.3,437.2 1802.8,439.0 C1804.3,440.8 1804.7,444.6 1803.3,446.3 C1801.9,448.0 1797.1,448.7 1794.5,449.2 C1791.9,449.7 1787.1,448.9 1787.7,449.2 C1788.4,449.5 1795.0,450.6 1798.4,451.2 C1801.8,451.7 1806.0,451.3 1808.2,452.6 C1810.4,453.9 1811.3,457.0 1811.6,458.9 C1811.8,460.9 1810.5,462.8 1809.6,464.3 C1808.7,465.8 1807.8,466.3 1806.2,467.7 C1804.7,469.1 1803.0,471.5 1800.4,472.6 C1797.8,473.6 1793.6,474.2 1790.6,474.0 C1787.7,473.9 1784.5,472.6 1782.8,471.6 C1781.1,470.6 1780.2,469.5 1780.4,468.2 C1780.6,466.9 1782.0,464.8 1783.8,463.8 C1785.7,462.8 1788.8,462.3 1791.6,462.4 C1794.4,462.4 1797.9,463.4 1800.4,464.3 C1802.8,465.2 1803.9,466.3 1806.2,467.7 C1808.5,469.1 1811.6,470.5 1814.0,472.6 C1816.4,474.7 1819.4,477.9 1820.8,480.4 C1822.2,482.8 1822.8,485.1 1822.3,487.2 C1821.8,489.3 1819.6,491.6 1817.9,493.0 C1816.2,494.4 1814.5,494.5 1812.1,495.5 C1809.6,496.4 1806.9,498.2 1803.3,498.9 C1799.7,499.5 1794.7,499.7 1790.6,499.4 C1786.6,499.0 1781.9,498.2 1778.9,496.9 C1776.0,495.6 1773.4,493.4 1773.1,491.6 C1772.8,489.8 1774.7,487.3 1777.0,486.2 C1779.3,485.1 1783.2,484.6 1786.7,484.8 C1790.3,484.9 1794.9,486.0 1798.4,487.2 C1802.0,488.4 1805.9,490.7 1808.2,492.1 C1810.4,493.4 1809.9,494.0 1812.1,495.5 C1814.2,496.9 1818.2,498.5 1820.8,500.8 C1823.4,503.2 1826.3,506.8 1827.6,509.6 C1829.0,512.3 1829.6,515.1 1829.1,517.4 C1828.6,519.6 1826.6,521.8 1824.7,523.2 C1822.8,524.7 1820.7,525.0 1817.9,526.1 C1815.1,527.3 1812.7,529.2 1808.2,530.0 C1803.6,530.8 1796.2,531.3 1790.6,531.0 C1785.1,530.7 1779.1,529.5 1775.1,528.1 C1771.0,526.6 1767.1,524.5 1766.3,522.2 C1765.5,520.0 1768.1,516.2 1770.2,514.4 C1772.3,512.7 1775.5,512.1 1778.9,512.0 C1782.4,511.9 1786.1,512.6 1790.6,514.0 C1795.2,515.3 1801.7,518.3 1806.2,520.3 C1810.8,522.3 1814.7,524.2 1817.9,526.1 C1821.1,528.1 1823.4,529.5 1825.7,532.0 C1828.0,534.4 1830.4,537.8 1831.5,540.7 C1832.7,543.7 1833.2,546.9 1832.5,549.5 C1831.9,552.1 1829.7,554.7 1827.6,556.3 C1825.5,557.9 1822.8,558.2 1819.8,559.2 C1816.9,560.3 1814.7,561.9 1810.1,562.6 C1805.6,563.4 1798.4,564.0 1792.6,563.6 C1786.7,563.2 1779.7,562.0 1775.1,560.2 C1770.4,558.4 1765.8,555.4 1764.8,552.9 C1763.9,550.4 1766.9,546.8 1769.2,545.1 C1771.6,543.4 1775.4,542.6 1778.9,542.7 C1782.5,542.8 1785.8,543.8 1790.6,545.6 C1795.5,547.4 1803.3,551.1 1808.2,553.4 C1813.0,555.7 1817.1,557.1 1819.8,559.2 C1822.6,561.4 1823.3,563.6 1824.7,566.1 C1826.2,568.5 1827.5,570.9 1828.6,573.8 C1829.7,576.8 1831.0,582.0 1831.5,583.6" stroke="#0aa7ca" stroke-width="4.8" fill="none" stroke-linecap="round" stroke-linejoin="round"/><path d="M1807.2,572.4 L1832.0,584.6 L1837.9,561.7" stroke="#0aa7ca" stroke-width="3.84" fill="none" stroke-linecap="round" stroke-linejoin="round"/>
<rect x="17.8" y="597.3" width="43.0" height="11" fill="#49aadb"/><rect x="96.2" y="597.4" width="43.0" height="11" fill="#49aadb"/><rect x="174.5" y="597.5" width="43.0" height="11" fill="#49aadb"/><rect x="252.9" y="597.6" width="43.0" height="11" fill="#49aadb"/><rect x="331.2" y="597.7" width="43.0" height="11" fill="#49aadb"/><rect x="409.6" y="597.8" width="43.0" height="11" fill="#49aadb"/><rect x="488.0" y="598.0" width="43.0" height="11" fill="#49aadb"/><rect x="566.3" y="598.1" width="43.0" height="11" fill="#49aadb"/><rect x="644.7" y="598.2" width="43.0" height="11" fill="#49aadb"/><rect x="723.0" y="598.3" width="43.0" height="11" fill="#49aadb"/><rect x="801.4" y="598.4" width="43.0" height="11" fill="#49aadb"/><rect x="879.8" y="598.5" width="43.0" height="11" fill="#49aadb"/><rect x="958.1" y="598.6" width="43.0" height="11" fill="#49aadb"/><rect x="1036.5" y="598.7" width="43.0" height="11" fill="#49aadb"/><rect x="1114.8" y="598.8" width="43.0" height="11" fill="#49aadb"/><rect x="1193.2" y="598.9" width="43.0" height="11" fill="#49aadb"/><rect x="1271.6" y="599.1" width="43.0" height="11" fill="#49aadb"/><rect x="1349.9" y="599.2" width="43.0" height="11" fill="#49aadb"/><rect x="1428.3" y="599.3" width="43.0" height="11" fill="#49aadb"/><rect x="1506.6" y="599.4" width="43.0" height="11" fill="#49aadb"/><rect x="1585.0" y="599.5" width="43.0" height="11" fill="#49aadb"/><rect x="1663.4" y="599.6" width="43.0" height="11" fill="#49aadb"/><rect x="1741.7" y="599.7" width="43.0" height="11" fill="#49aadb"/><rect x="1820.1" y="599.8" width="43.0" height="11" fill="#49aadb"/><rect x="1898.4" y="599.9" width="43.0" height="11" fill="#49aadb"/><rect x="1976.8" y="600.0" width="43.0" height="11" fill="#49aadb"/>
<text transform="translate(19.60,690.60) scale(1.0797,1)" x="-2.14" y="0" font-family='"Liberation Serif", serif' font-size="77.86" fill="#000">B</text>
<clipPath id="clip328"><rect x="328.0" y="649.0" width="626.6" height="551.7"/></clipPath>
<g clip-path="url(#clip328)">
<path d="M328.0,1169.9 L329.3,1169.9 L330.5,1169.9 L331.8,1169.9 L333.0,1169.9 L334.3,1169.9 L335.5,1169.9 L336.8,1169.9 L338.0,1169.9 L339.3,1169.9 L340.5,1169.9 L341.8,1169.9 L343.0,1169.9 L344.3,1169.9 L345.5,1169.9 L346.8,1169.9 L348.1,1169.9 L349.3,1169.9 L350.6,1169.9 L351.8,1169.9 L353.1,1169.9 L354.3,1169.9 L355.6,1169.9 L356.8,1169.9 L358.1,1169.9 L359.3,1169.9 L360.6,1169.9 L361.8,1169.9 L363.1,1169.9 L364.3,1169.9 L365.6,1169.9 L366.8,1169.9 L368.1,1169.9 L369.4,1169.9 L370.6,1169.9 L371.9,1169.9 L373.1,1169.9 L374.4,1169.9 L375.6,1169.9 L376.9,1169.9 L378.1,1169.9 L379.4,1169.9 L380.6,1169.9 L381.9,1169.9 L383.1,1169.9 L384.4,1169.9 L385.6,1169.9 L386.9,1169.9 L388.2,1169.9 L389.4,1169.9 L390.7,1169.9 L391.9,1169.9 L393.2,1169.9 L394.4,1169.9 L395.7,1169.9 L396.9,1169.9 L398.2,1169.9 L399.4,1169.9 L400.7,1169.9 L401.9,1169.9 L403.2,1169.9 L404.4,1169.9 L405.7,1169.9 L407.0,1169.9 L408.2,1169.9 L409.5,1169.9 L410.7,1169.9 L412.0,1169.9 L413.2,1169.9 L414.5,1169.9 L415.7,1169.9 L417.0,1169.9 L418.2,1169.9 L419.5,1169.9 L420.7,1169.9 L422.0,1169.9 L423.2,1169.9 L424.5,1169.9 L425.7,1169.9 L427.0,1169.9 L428.3,1169.9 L429.5,1169.9 L430.8,1169.9 L432.0,1169.9 L433.3,1169.9 L434.5,1169.9 L435.8,1169.9 L437.0,1169.9 L438.3,1169.9 L439.5,1169.9 L440.8,1169.9 L442.0,1169.9 L443.3,1169.9 L444.5,1169.9 L445.8,1169.9 L447.1,1169.9 L448.3,1169.8 L449.6,1169.8 L450.8,1169.8 L452.1,1169.8 L453.3,1169.8 L454.6,1169.8 L455.8,1169.8 L457.1,1169.8 L458.3,1169.7 L459.6,1169.7 L460.8,1169.7 L462.1,1169.7 L463.3,1169.6 L464.6,1169.6 L465.9,1169.5 L467.1,1169.5 L468.4,1169.4 L469.6,1169.4 L470.9,1169.3 L472.1,1169.2 L473.4,1169.1 L474.6,1169.0 L475.9,1168.9 L477.1,1168.7 L478.4,1168.6 L479.6,1168.4 L480.9,1168.3 L482.1,1168.1 L483.4,1167.9 L484.6,1167.7 L485.9,1167.5 L487.2,1167.2 L488.4,1167.0 L489.7,1166.7 L490.9,1166.5 L492.2,1166.2 L493.4,1165.9 L494.7,1165.6 L495.9,1165.3 L497.2,1165.0 L498.4,1164.7 L499.7,1164.4 L500.9,1164.1 L502.2,1163.8 L503.4,1163.6 L504.7,1163.3 L506.0,1163.0 L507.2,1162.8 L508.5,1162.5 L509.7,1162.3 L511.0,1162.1 L512.2,1161.9 L513.5,1161.7 L514.7,1161.5 L516.0,1161.3 L517.2,1161.2 L518.5,1161.0 L519.7,1160.9 L521.0,1160.8 L522.2,1160.7 L523.5,1160.6 L524.8,1160.4 L526.0,1160.3 L527.3,1160.2 L528.5,1160.1 L529.8,1159.9 L531.0,1159.8 L532.3,1159.6 L533.5,1159.4 L534.8,1159.2 L536.0,1158.9 L537.3,1158.6 L538.5,1158.3 L539.8,1158.0 L541.0,1157.6 L542.3,1157.1 L543.6,1156.7 L544.8,1156.2 L546.1,1155.6 L547.3,1155.0 L548.6,1154.3 L549.8,1153.6 L551.1,1152.8 L552.3,1152.0 L553.6,1151.1 L554.8,1150.1 L556.1,1149.1 L557.3,1148.0 L558.6,1146.8 L559.8,1145.5 L561.1,1144.1 L562.3,1142.7 L563.6,1141.1 L564.9,1139.5 L566.1,1137.7 L567.4,1135.8 L568.6,1133.8 L569.9,1131.7 L571.1,1129.4 L572.4,1126.9 L573.6,1124.3 L574.9,1121.5 L576.1,1118.5 L577.4,1115.4 L578.6,1112.0 L579.9,1108.5 L581.1,1104.7 L582.4,1100.6 L583.7,1096.3 L584.9,1091.8 L586.2,1087.0 L587.4,1081.9 L588.7,1076.5 L589.9,1070.9 L591.2,1064.9 L592.4,1058.7 L593.7,1052.1 L594.9,1045.2 L596.2,1038.0 L597.4,1030.4 L598.7,1022.6 L599.9,1014.4 L601.2,1006.0 L602.5,997.2 L603.7,988.1 L605.0,978.8 L606.2,969.1 L607.5,959.3 L608.7,949.2 L610.0,938.9 L611.2,928.4 L612.5,917.8 L613.7,907.0 L615.0,896.1 L616.2,885.2 L617.5,874.3 L618.7,863.4 L620.0,852.5 L621.2,841.7 L622.5,831.1 L623.8,820.7 L625.0,810.5 L626.3,800.6 L627.5,791.0 L628.8,781.7 L630.0,772.9 L631.3,764.5 L632.5,756.7 L633.8,749.3 L635.0,742.6 L636.3,736.4 L637.5,730.9 L638.8,726.1 L640.0,722.0 L641.3,718.5 L642.6,715.9 L643.8,713.9 L645.1,712.8 L646.3,712.4 L647.6,712.8 L648.8,713.9 L650.1,715.8 L651.3,718.5 L652.6,721.9 L653.8,726.1 L655.1,730.9 L656.3,736.4 L657.6,742.5 L658.8,749.3 L660.1,756.6 L661.4,764.5 L662.6,772.8 L663.9,781.6 L665.1,790.8 L666.4,800.4 L667.6,810.3 L668.9,820.5 L670.1,830.9 L671.4,841.5 L672.6,852.3 L673.9,863.1 L675.1,874.0 L676.4,884.9 L677.6,895.8 L678.9,906.6 L680.1,917.3 L681.4,927.9 L682.7,938.3 L683.9,948.6 L685.2,958.6 L686.4,968.4 L687.7,977.9 L688.9,987.2 L690.2,996.2 L691.4,1004.9 L692.7,1013.3 L693.9,1021.4 L695.2,1029.1 L696.4,1036.5 L697.7,1043.6 L698.9,1050.4 L700.2,1056.9 L701.5,1063.0 L702.7,1068.9 L704.0,1074.4 L705.2,1079.6 L706.5,1084.6 L707.7,1089.2 L709.0,1093.6 L710.2,1097.7 L711.5,1101.6 L712.7,1105.3 L714.0,1108.7 L715.2,1111.9 L716.5,1114.9 L717.7,1117.8 L719.0,1120.4 L720.3,1122.9 L721.5,1125.2 L722.8,1127.4 L724.0,1129.4 L725.3,1131.3 L726.5,1133.1 L727.8,1134.8 L729.0,1136.3 L730.3,1137.8 L731.5,1139.2 L732.8,1140.6 L734.0,1141.8 L735.3,1143.0 L736.5,1144.1 L737.8,1145.2 L739.0,1146.2 L740.3,1147.2 L741.6,1148.1 L742.8,1149.0 L744.1,1149.8 L745.3,1150.6 L746.6,1151.4 L747.8,1152.2 L749.1,1152.9 L750.3,1153.6 L751.6,1154.3 L752.8,1155.0 L754.1,1155.6 L755.3,1156.2 L756.6,1156.8 L757.8,1157.4 L759.1,1158.0 L760.4,1158.6 L761.6,1159.1 L762.9,1159.6 L764.1,1160.1 L765.4,1160.6 L766.6,1161.1 L767.9,1161.5 L769.1,1162.0 L770.4,1162.4 L771.6,1162.8 L772.9,1163.2 L774.1,1163.6 L775.4,1164.0 L776.6,1164.3 L777.9,1164.7 L779.2,1165.0 L780.4,1165.3 L781.7,1165.6 L782.9,1165.9 L784.2,1166.1 L785.4,1166.4 L786.7,1166.6 L787.9,1166.9 L789.2,1167.1 L790.4,1167.3 L791.7,1167.5 L792.9,1167.7 L794.2,1167.8 L795.4,1168.0 L796.7,1168.1 L798.0,1168.3 L799.2,1168.4 L800.5,1168.5 L801.7,1168.6 L803.0,1168.7 L804.2,1168.8 L805.5,1168.9 L806.7,1169.0 L808.0,1169.1 L809.2,1169.2 L810.5,1169.2 L811.7,1169.3 L813.0,1169.3 L814.2,1169.4 L815.5,1169.4 L816.7,1169.5 L818.0,1169.5 L819.3,1169.6 L820.5,1169.6 L821.8,1169.6 L823.0,1169.6 L824.3,1169.7 L825.5,1169.7 L826.8,1169.7 L828.0,1169.7 L829.3,1169.7 L830.5,1169.8 L831.8,1169.8 L833.0,1169.8 L834.3,1169.8 L835.5,1169.8 L836.8,1169.8 L838.1,1169.8 L839.3,1169.8 L840.6,1169.8 L841.8,1169.8 L843.1,1169.9 L844.3,1169.9 L845.6,1169.9 L846.8,1169.9 L848.1,1169.9 L849.3,1169.9 L850.6,1169.9 L851.8,1169.9 L853.1,1169.9 L854.3,1169.9 L855.6,1169.9 L856.9,1169.9 L858.1,1169.9 L859.4,1169.9 L860.6,1169.9 L861.9,1169.9 L863.1,1169.9 L864.4,1169.9 L865.6,1169.9 L866.9,1169.9 L868.1,1169.9 L869.4,1169.9 L870.6,1169.9 L871.9,1169.9 L873.1,1169.9 L874.4,1169.9 L875.6,1169.9 L876.9,1169.9 L878.2,1169.9 L879.4,1169.9 L880.7,1169.9 L881.9,1169.9 L883.2,1169.9 L884.4,1169.9 L885.7,1169.9 L886.9,1169.9 L888.2,1169.9 L889.4,1169.9 L890.7,1169.9 L891.9,1169.9 L893.2,1169.9 L894.4,1169.9 L895.7,1169.9 L897.0,1169.9 L898.2,1169.9 L899.5,1169.9 L900.7,1169.9 L902.0,1169.9 L903.2,1169.9 L904.5,1169.9 L905.7,1169.9 L907.0,1169.9 L908.2,1169.9 L909.5,1169.9 L910.7,1169.9 L912.0,1169.9 L913.2,1169.9 L914.5,1169.9 L915.8,1169.9 L917.0,1169.9 L918.3,1169.9 L919.5,1169.9 L920.8,1169.9 L922.0,1169.9 L923.3,1169.9 L924.5,1169.9 L925.8,1169.9 L927.0,1169.9 L928.3,1169.9 L929.5,1169.9 L930.8,1169.9 L932.0,1169.9 L933.3,1169.9 L934.5,1169.9 L935.8,1169.9 L937.1,1169.9 L938.3,1169.9 L939.6,1169.9 L940.8,1169.9 L942.1,1169.9 L943.3,1169.9 L944.6,1169.9 L945.8,1169.9 L947.1,1169.9 L948.3,1169.9 L949.6,1169.9 L950.8,1169.9 L952.1,1169.9 L953.3,1169.9 L954.6,1169.9" stroke="#009a9c" stroke-width="8.6" fill="none" stroke-linejoin="round" stroke-linecap="butt"/>
<path d="M328.0,1169.9 L329.3,1169.9 L330.5,1169.9 L331.8,1169.9 L333.0,1169.9 L334.3,1169.9 L335.5,1169.9 L336.8,1169.9 L338.0,1169.9 L339.3,1169.9 L340.5,1169.9 L341.8,1169.9 L343.0,1169.9 L344.3,1169.9 L345.5,1169.9 L346.8,1169.9 L348.1,1169.9 L349.3,1169.9 L350.6,1169.9 L351.8,1169.9 L353.1,1169.9 L354.3,1169.9 L355.6,1169.9 L356.8,1169.9 L358.1,1169.9 L359.3,1169.9 L360.6,1169.9 L361.8,1169.9 L363.1,1169.9 L364.3,1169.9 L365.6,1169.9 L366.8,1169.9 L368.1,1169.9 L369.4,1169.9 L370.6,1169.9 L371.9,1169.9 L373.1,1169.9 L374.4,1169.9 L375.6,1169.9 L376.9,1169.9 L378.1,1169.9 L379.4,1169.9 L380.6,1169.9 L381.9,1169.9 L383.1,1169.9 L384.4,1169.9 L385.6,1169.9 L386.9,1169.9 L388.2,1169.9 L389.4,1169.9 L390.7,1169.9 L391.9,1169.9 L393.2,1169.9 L394.4,1169.9 L395.7,1169.9 L396.9,1169.9 L398.2,1169.9 L399.4,1169.9 L400.7,1169.9 L401.9,1169.9 L403.2,1169.9 L404.4,1169.9 L405.7,1169.9 L407.0,1169.9 L408.2,1169.9 L409.5,1169.9 L410.7,1169.9 L412.0,1169.9 L413.2,1169.9 L414.5,1169.9 L415.7,1169.9 L417.0,1169.9 L418.2,1169.9 L419.5,1169.9 L420.7,1169.9 L422.0,1169.9 L423.2,1169.9 L424.5,1169.9 L425.7,1169.9 L427.0,1169.9 L428.3,1169.9 L429.5,1169.9 L430.8,1169.9 L432.0,1169.9 L433.3,1169.9 L434.5,1169.9 L435.8,1169.9 L437.0,1169.9 L438.3,1169.9 L439.5,1169.9 L440.8,1169.9 L442.0,1169.9 L443.3,1169.9 L444.5,1169.9 L445.8,1169.9 L447.1,1169.9 L448.3,1169.9 L449.6,1169.9 L450.8,1169.8 L452.1,1169.8 L453.3,1169.8 L454.6,1169.8 L455.8,1169.8 L457.1,1169.8 L458.3,1169.8 L459.6,1169.7 L460.8,1169.7 L462.1,1169.7 L463.3,1169.7 L464.6,1169.6 L465.9,1169.6 L467.1,1169.5 L468.4,1169.5 L469.6,1169.4 L470.9,1169.3 L472.1,1169.2 L473.4,1169.1 L474.6,1169.0 L475.9,1168.9 L477.1,1168.8 L478.4,1168.7 L479.6,1168.5 L480.9,1168.4 L482.1,1168.2 L483.4,1168.0 L484.6,1167.8 L485.9,1167.6 L487.2,1167.4 L488.4,1167.1 L489.7,1166.9 L490.9,1166.6 L492.2,1166.3 L493.4,1166.1 L494.7,1165.8 L495.9,1165.5 L497.2,1165.2 L498.4,1164.9 L499.7,1164.7 L500.9,1164.4 L502.2,1164.1 L503.4,1163.9 L504.7,1163.6 L506.0,1163.4 L507.2,1163.1 L508.5,1162.9 L509.7,1162.7 L511.0,1162.6 L512.2,1162.4 L513.5,1162.3 L514.7,1162.1 L516.0,1162.0 L517.2,1161.9 L518.5,1161.9 L519.7,1161.8 L521.0,1161.7 L522.2,1161.7 L523.5,1161.7 L524.8,1161.6 L526.0,1161.6 L527.3,1161.5 L528.5,1161.5 L529.8,1161.5 L531.0,1161.4 L532.3,1161.3 L533.5,1161.3 L534.8,1161.2 L536.0,1161.0 L537.3,1160.9 L538.5,1160.7 L539.8,1160.5 L541.0,1160.3 L542.3,1160.0 L543.6,1159.7 L544.8,1159.4 L546.1,1159.0 L547.3,1158.6 L548.6,1158.1 L549.8,1157.6 L551.1,1157.1 L552.3,1156.5 L553.6,1155.9 L554.8,1155.2 L556.1,1154.4 L557.3,1153.6 L558.6,1152.8 L559.8,1151.9 L561.1,1150.9 L562.3,1149.8 L563.6,1148.7 L564.9,1147.5 L566.1,1146.2 L567.4,1144.8 L568.6,1143.3 L569.9,1141.8 L571.1,1140.1 L572.4,1138.3 L573.6,1136.4 L574.9,1134.3 L576.1,1132.2 L577.4,1129.9 L578.6,1127.4 L579.9,1124.8 L581.1,1122.0 L582.4,1119.0 L583.7,1115.9 L584.9,1112.5 L586.2,1109.0 L587.4,1105.3 L588.7,1101.3 L589.9,1097.1 L591.2,1092.7 L592.4,1088.1 L593.7,1083.2 L594.9,1078.1 L596.2,1072.7 L597.4,1067.1 L598.7,1061.3 L599.9,1055.2 L601.2,1048.8 L602.5,1042.2 L603.7,1035.4 L605.0,1028.4 L606.2,1021.2 L607.5,1013.7 L608.7,1006.1 L610.0,998.3 L611.2,990.3 L612.5,982.2 L613.7,974.0 L615.0,965.7 L616.2,957.3 L617.5,948.9 L618.7,940.4 L620.0,932.0 L621.2,923.7 L622.5,915.4 L623.8,907.3 L625.0,899.2 L626.3,891.4 L627.5,883.8 L628.8,876.5 L630.0,869.4 L631.3,862.7 L632.5,856.3 L633.8,850.4 L635.0,844.8 L636.3,839.7 L637.5,835.0 L638.8,830.9 L640.0,827.3 L641.3,824.2 L642.6,821.7 L643.8,819.7 L645.1,818.4 L646.3,817.6 L647.6,817.4 L648.8,817.8 L650.1,818.8 L651.3,820.4 L652.6,822.6 L653.8,825.4 L655.1,828.7 L656.3,832.5 L657.6,836.8 L658.8,841.7 L660.1,847.0 L661.4,852.7 L662.6,858.8 L663.9,865.4 L665.1,872.2 L666.4,879.4 L667.6,886.8 L668.9,894.5 L670.1,902.4 L671.4,910.5 L672.6,918.7 L673.9,927.0 L675.1,935.4 L676.4,943.8 L677.6,952.2 L678.9,960.6 L680.1,969.0 L681.4,977.3 L682.7,985.4 L683.9,993.5 L685.2,1001.4 L686.4,1009.1 L687.7,1016.7 L688.9,1024.1 L690.2,1031.2 L691.4,1038.2 L692.7,1044.9 L693.9,1051.4 L695.2,1057.6 L696.4,1063.6 L697.7,1069.4 L698.9,1074.9 L700.2,1080.2 L701.5,1085.2 L702.7,1090.0 L704.0,1094.5 L705.2,1098.8 L706.5,1102.9 L707.7,1106.8 L709.0,1110.4 L710.2,1113.9 L711.5,1117.2 L712.7,1120.2 L714.0,1123.1 L715.2,1125.9 L716.5,1128.4 L717.7,1130.8 L719.0,1133.1 L720.3,1135.2 L721.5,1137.2 L722.8,1139.1 L724.0,1140.8 L725.3,1142.5 L726.5,1144.0 L727.8,1145.5 L729.0,1146.8 L730.3,1148.1 L731.5,1149.3 L732.8,1150.5 L734.0,1151.5 L735.3,1152.5 L736.5,1153.5 L737.8,1154.4 L739.0,1155.2 L740.3,1156.0 L741.6,1156.7 L742.8,1157.5 L744.1,1158.1 L745.3,1158.8 L746.6,1159.4 L747.8,1159.9 L749.1,1160.5 L750.3,1161.0 L751.6,1161.5 L752.8,1161.9 L754.1,1162.4 L755.3,1162.8 L756.6,1163.2 L757.8,1163.6 L759.1,1163.9 L760.4,1164.3 L761.6,1164.6 L762.9,1164.9 L764.1,1165.2 L765.4,1165.4 L766.6,1165.7 L767.9,1166.0 L769.1,1166.2 L770.4,1166.4 L771.6,1166.6 L772.9,1166.8 L774.1,1167.0 L775.4,1167.2 L776.6,1167.4 L777.9,1167.5 L779.2,1167.7 L780.4,1167.8 L781.7,1168.0 L782.9,1168.1 L784.2,1168.2 L785.4,1168.3 L786.7,1168.4 L787.9,1168.5 L789.2,1168.6 L790.4,1168.7 L791.7,1168.8 L792.9,1168.9 L794.2,1168.9 L795.4,1169.0 L796.7,1169.1 L798.0,1169.1 L799.2,1169.2 L800.5,1169.2 L801.7,1169.3 L803.0,1169.3 L804.2,1169.4 L805.5,1169.4 L806.7,1169.5 L808.0,1169.5 L809.2,1169.5 L810.5,1169.5 L811.7,1169.6 L813.0,1169.6 L814.2,1169.6 L815.5,1169.6 L816.7,1169.7 L818.0,1169.7 L819.3,1169.7 L820.5,1169.7 L821.8,1169.7 L823.0,1169.7 L824.3,1169.8 L825.5,1169.8 L826.8,1169.8 L828.0,1169.8 L829.3,1169.8 L830.5,1169.8 L831.8,1169.8 L833.0,1169.8 L834.3,1169.8 L835.5,1169.8 L836.8,1169.8 L838.1,1169.8 L839.3,1169.9 L840.6,1169.9 L841.8,1169.9 L843.1,1169.9 L844.3,1169.9 L845.6,1169.9 L846.8,1169.9 L848.1,1169.9 L849.3,1169.9 L850.6,1169.9 L851.8,1169.9 L853.1,1169.9 L854.3,1169.9 L855.6,1169.9 L856.9,1169.9 L858.1,1169.9 L859.4,1169.9 L860.6,1169.9 L861.9,1169.9 L863.1,1169.9 L864.4,1169.9 L865.6,1169.9 L866.9,1169.9 L868.1,1169.9 L869.4,1169.9 L870.6,1169.9 L871.9,1169.9 L873.1,1169.9 L874.4,1169.9 L875.6,1169.9 L876.9,1169.9 L878.2,1169.9 L879.4,1169.9 L880.7,1169.9 L881.9,1169.9 L883.2,1169.9 L884.4,1169.9 L885.7,1169.9 L886.9,1169.9 L888.2,1169.9 L889.4,1169.9 L890.7,1169.9 L891.9,1169.9 L893.2,1169.9 L894.4,1169.9 L895.7,1169.9 L897.0,1169.9 L898.2,1169.9 L899.5,1169.9 L900.7,1169.9 L902.0,1169.9 L903.2,1169.9 L904.5,1169.9 L905.7,1169.9 L907.0,1169.9 L908.2,1169.9 L909.5,1169.9 L910.7,1169.9 L912.0,1169.9 L913.2,1169.9 L914.5,1169.9 L915.8,1169.9 L917.0,1169.9 L918.3,1169.9 L919.5,1169.9 L920.8,1169.9 L922.0,1169.9 L923.3,1169.9 L924.5,1169.9 L925.8,1169.9 L927.0,1169.9 L928.3,1169.9 L929.5,1169.9 L930.8,1169.9 L932.0,1169.9 L933.3,1169.9 L934.5,1169.9 L935.8,1169.9 L937.1,1169.9 L938.3,1169.9 L939.6,1169.9 L940.8,1169.9 L942.1,1169.9 L943.3,1169.9 L944.6,1169.9 L945.8,1169.9 L947.1,1169.9 L948.3,1169.9 L949.6,1169.9 L950.8,1169.9 L952.1,1169.9 L953.3,1169.9 L954.6,1169.9" stroke="#d94e07" stroke-width="8.4" fill="none" stroke-linejoin="round" stroke-linecap="butt"/>
</g>
<rect x="328.0" y="649.0" width="626.6" height="551.7" fill="none" stroke="#2a2a2a" stroke-width="4.4" rx="1.5"/>
<line x1="328.0" y1="1200.7" x2="328.0" y2="1212.2" stroke="#2a2a2a" stroke-width="3.8" />
<line x1="453.3" y1="1200.7" x2="453.3" y2="1212.2" stroke="#2a2a2a" stroke-width="3.8" />
<line x1="578.6" y1="1200.7" x2="578.6" y2="1212.2" stroke="#2a2a2a" stroke-width="3.8" />
<line x1="704.0" y1="1200.7" x2="704.0" y2="1212.2" stroke="#2a2a2a" stroke-width="3.8" />
<line x1="829.3" y1="1200.7" x2="829.3" y2="1212.2" stroke="#2a2a2a" stroke-width="3.8" />
<line x1="954.6" y1="1200.7" x2="954.6" y2="1212.2" stroke="#2a2a2a" stroke-width="3.8" />
<line x1="315.5" y1="1169.9" x2="328.0" y2="1169.9" stroke="#2a2a2a" stroke-width="3.8" />
<line x1="315.5" y1="1072.2" x2="328.0" y2="1072.2" stroke="#2a2a2a" stroke-width="3.8" />
<line x1="315.5" y1="974.6" x2="328.0" y2="974.6" stroke="#2a2a2a" stroke-width="3.8" />
<line x1="315.5" y1="877.0" x2="328.0" y2="877.0" stroke="#2a2a2a" stroke-width="3.8" />
<line x1="315.5" y1="779.3" x2="328.0" y2="779.3" stroke="#2a2a2a" stroke-width="3.8" />
<line x1="315.5" y1="681.7" x2="328.0" y2="681.7" stroke="#2a2a2a" stroke-width="3.8" />
<text transform="translate(298.50,1248.50) scale(1.1141,1)" x="-0.72" y="0" font-family='"Liberation Serif", serif' font-size="36.09" fill="#202020" stroke="#202020" stroke-width="1.0" stroke-linejoin="round">400</text>
<text transform="translate(423.82,1248.50) scale(1.1141,1)" x="-0.72" y="0" font-family='"Liberation Serif", serif' font-size="36.09" fill="#202020" stroke="#202020" stroke-width="1.0" stroke-linejoin="round">450</text>
<text transform="translate(549.14,1248.50) scale(1.1438,1)" x="-2.08" y="0" font-family='"Liberation Serif", serif' font-size="36.09" fill="#202020" stroke="#202020" stroke-width="1.0" stroke-linejoin="round">500</text>
<text transform="translate(674.46,1248.50) scale(1.1438,1)" x="-2.08" y="0" font-family='"Liberation Serif", serif' font-size="36.09" fill="#202020" stroke="#202020" stroke-width="1.0" stroke-linejoin="round">550</text>
<text transform="translate(799.78,1248.50) scale(1.1317,1)" x="-1.53" y="0" font-family='"Liberation Serif", serif' font-size="36.09" fill="#202020" stroke="#202020" stroke-width="1.0" stroke-linejoin="round">600</text>
<text transform="translate(925.10,1248.50) scale(1.1317,1)" x="-1.53" y="0" font-family='"Liberation Serif", serif' font-size="36.09" fill="#202020" stroke="#202020" stroke-width="1.0" stroke-linejoin="round">650</text>
<text font-family='"Liberation Serif", serif' fill="#202020" transform="scale(1.0400,1)" stroke="#202020" stroke-width="1.0" stroke-linejoin="round"><tspan x="237.87" y="1184.90" font-size="36.99">0</tspan><tspan x="257.59" y="1184.90" font-size="36.99">.</tspan><tspan x="276.33" y="1184.90" font-size="36.99">0</tspan></text>
<text font-family='"Liberation Serif", serif' fill="#202020" transform="scale(1.0400,1)" stroke="#202020" stroke-width="1.0" stroke-linejoin="round"><tspan x="146.86" y="1088.65" font-size="36.99">3</tspan><tspan x="166.24" y="1088.65" font-size="36.99">.</tspan><tspan x="185.37" y="1088.65" font-size="36.99">0</tspan><tspan x="207.17" y="1093.95" font-size="57.67" stroke-width="0">×</tspan><tspan x="242.17" y="1088.65" font-size="36.99">1</tspan><tspan x="259.89" y="1088.65" font-size="36.99">0</tspan><tspan x="281.50" y="1073.85" font-size="24.66">5</tspan></text>
<text font-family='"Liberation Serif", serif' fill="#202020" transform="scale(1.0400,1)" stroke="#202020" stroke-width="1.0" stroke-linejoin="round"><tspan x="146.77" y="991.00" font-size="36.99">6</tspan><tspan x="166.24" y="991.00" font-size="36.99">.</tspan><tspan x="185.37" y="991.00" font-size="36.99">0</tspan><tspan x="207.17" y="996.30" font-size="57.67" stroke-width="0">×</tspan><tspan x="242.17" y="991.00" font-size="36.99">1</tspan><tspan x="259.89" y="991.00" font-size="36.99">0</tspan><tspan x="281.50" y="976.20" font-size="24.66">5</tspan></text>
<text font-family='"Liberation Serif", serif' fill="#202020" transform="scale(1.0400,1)" stroke="#202020" stroke-width="1.0" stroke-linejoin="round"><tspan x="147.14" y="893.35" font-size="36.99">9</tspan><tspan x="166.24" y="893.35" font-size="36.99">.</tspan><tspan x="185.37" y="893.35" font-size="36.99">0</tspan><tspan x="207.17" y="898.65" font-size="57.67" stroke-width="0">×</tspan><tspan x="242.17" y="893.35" font-size="36.99">1</tspan><tspan x="259.89" y="893.35" font-size="36.99">0</tspan><tspan x="281.50" y="878.55" font-size="24.66">5</tspan></text>
<text font-family='"Liberation Serif", serif' fill="#202020" transform="scale(1.0400,1)" stroke="#202020" stroke-width="1.0" stroke-linejoin="round"><tspan x="146.49" y="795.70" font-size="36.99">1</tspan><tspan x="166.24" y="795.70" font-size="36.99">.</tspan><tspan x="185.60" y="795.70" font-size="36.99">2</tspan><tspan x="207.17" y="801.00" font-size="57.67" stroke-width="0">×</tspan><tspan x="242.17" y="795.70" font-size="36.99">1</tspan><tspan x="259.89" y="795.70" font-size="36.99">0</tspan><tspan x="281.57" y="780.90" font-size="24.66">6</tspan></text>
<text font-family='"Liberation Serif", serif' fill="#202020" transform="scale(1.0400,1)" stroke="#202020" stroke-width="1.0" stroke-linejoin="round"><tspan x="146.49" y="698.05" font-size="36.99">1</tspan><tspan x="166.24" y="698.05" font-size="36.99">.</tspan><tspan x="185.04" y="698.05" font-size="36.99">5</tspan><tspan x="207.17" y="703.35" font-size="57.67" stroke-width="0">×</tspan><tspan x="242.17" y="698.05" font-size="36.99">1</tspan><tspan x="259.89" y="698.05" font-size="36.99">0</tspan><tspan x="281.57" y="683.25" font-size="24.66">6</tspan></text>
<text transform="translate(112.60,992.50) rotate(-90.00) scale(0.7903,1)" x="-1.45" y="0" font-family='"Liberation Serif", serif' font-size="52.67" fill="#151515" stroke="#151515" stroke-width="0.9" stroke-linejoin="round">EL Int. (ct.)</text>
<text transform="translate(574.50,1327.20) scale(1.2905,1)" x="-0.99" y="0" font-family='"Liberation Serif", serif' font-size="39.57" fill="#151515" stroke="#151515" stroke-width="0.9" stroke-linejoin="round">λ (nm)</text>
<text transform="translate(787.00,708.40) scale(0.9442,1)" x="-1.27" y="0" font-family='"Liberation Serif", serif' font-size="46.19" fill="#262626" stroke="#262626" stroke-width="0.8" stroke-linejoin="round">D-CHP</text>
<line x1="774.1" y1="761.7" x2="870.1" y2="761.7" stroke="#009a9c" stroke-width="7.5" stroke-linecap="round"/>
<line x1="774.1" y1="823.6" x2="870.1" y2="823.6" stroke="#d94e07" stroke-width="7.5" stroke-linecap="round"/>
<text font-family='"Liberation Sans", sans-serif' fill="#1c1c1c" transform="scale(1.2406,1)" stroke="#1c1c1c" stroke-width="0.4" stroke-linejoin="round"><tspan x="719.11" y="778.50" font-size="38.86">σ</tspan><tspan x="745.37" y="755.20" font-size="21.43" fill="#333">+</tspan></text>
<text font-family='"Liberation Sans", sans-serif' fill="#1c1c1c" transform="scale(1.2406,1)" stroke="#1c1c1c" stroke-width="0.4" stroke-linejoin="round"><tspan x="719.11" y="840.00" font-size="38.86">σ</tspan><tspan x="741.84" y="816.50" font-size="20.00" fill="#444">−</tspan></text>
<clipPath id="clip1329"><rect x="1329.0" y="649.0" width="627.4000000000001" height="551.7"/></clipPath>
<g clip-path="url(#clip1329)">
<path d="M1329.0,1174.8 L1330.3,1174.8 L1331.5,1174.8 L1332.8,1174.8 L1334.0,1174.8 L1335.3,1174.8 L1336.5,1174.8 L1337.8,1174.8 L1339.0,1174.8 L1340.3,1174.8 L1341.5,1174.8 L1342.8,1174.8 L1344.1,1174.8 L1345.3,1174.8 L1346.6,1174.8 L1347.8,1174.8 L1349.1,1174.8 L1350.3,1174.8 L1351.6,1174.8 L1352.8,1174.8 L1354.1,1174.8 L1355.4,1174.8 L1356.6,1174.8 L1357.9,1174.8 L1359.1,1174.8 L1360.4,1174.8 L1361.6,1174.8 L1362.9,1174.8 L1364.1,1174.8 L1365.4,1174.8 L1366.6,1174.8 L1367.9,1174.8 L1369.2,1174.8 L1370.4,1174.8 L1371.7,1174.8 L1372.9,1174.8 L1374.2,1174.8 L1375.4,1174.8 L1376.7,1174.8 L1377.9,1174.8 L1379.2,1174.8 L1380.4,1174.8 L1381.7,1174.8 L1383.0,1174.8 L1384.2,1174.8 L1385.5,1174.8 L1386.7,1174.8 L1388.0,1174.8 L1389.2,1174.8 L1390.5,1174.8 L1391.7,1174.8 L1393.0,1174.8 L1394.2,1174.8 L1395.5,1174.8 L1396.8,1174.8 L1398.0,1174.8 L1399.3,1174.8 L1400.5,1174.8 L1401.8,1174.8 L1403.0,1174.8 L1404.3,1174.8 L1405.5,1174.8 L1406.8,1174.8 L1408.1,1174.8 L1409.3,1174.8 L1410.6,1174.8 L1411.8,1174.8 L1413.1,1174.8 L1414.3,1174.8 L1415.6,1174.8 L1416.8,1174.8 L1418.1,1174.8 L1419.3,1174.8 L1420.6,1174.8 L1421.9,1174.8 L1423.1,1174.8 L1424.4,1174.8 L1425.6,1174.8 L1426.9,1174.8 L1428.1,1174.8 L1429.4,1174.8 L1430.6,1174.8 L1431.9,1174.8 L1433.1,1174.8 L1434.4,1174.8 L1435.7,1174.8 L1436.9,1174.8 L1438.2,1174.8 L1439.4,1174.8 L1440.7,1174.8 L1441.9,1174.8 L1443.2,1174.8 L1444.4,1174.8 L1445.7,1174.8 L1447.0,1174.8 L1448.2,1174.8 L1449.5,1174.8 L1450.7,1174.8 L1452.0,1174.7 L1453.2,1174.7 L1454.5,1174.7 L1455.7,1174.7 L1457.0,1174.7 L1458.2,1174.7 L1459.5,1174.7 L1460.8,1174.7 L1462.0,1174.6 L1463.3,1174.6 L1464.5,1174.6 L1465.8,1174.5 L1467.0,1174.5 L1468.3,1174.5 L1469.5,1174.4 L1470.8,1174.3 L1472.0,1174.3 L1473.3,1174.2 L1474.6,1174.1 L1475.8,1174.0 L1477.1,1173.9 L1478.3,1173.8 L1479.6,1173.7 L1480.8,1173.6 L1482.1,1173.4 L1483.3,1173.3 L1484.6,1173.1 L1485.8,1172.9 L1487.1,1172.8 L1488.4,1172.6 L1489.6,1172.4 L1490.9,1172.1 L1492.1,1171.9 L1493.4,1171.7 L1494.6,1171.4 L1495.9,1171.2 L1497.1,1170.9 L1498.4,1170.7 L1499.7,1170.4 L1500.9,1170.2 L1502.2,1169.9 L1503.4,1169.7 L1504.7,1169.5 L1505.9,1169.2 L1507.2,1169.0 L1508.4,1168.8 L1509.7,1168.6 L1510.9,1168.4 L1512.2,1168.2 L1513.5,1168.0 L1514.7,1167.9 L1516.0,1167.7 L1517.2,1167.6 L1518.5,1167.5 L1519.7,1167.4 L1521.0,1167.3 L1522.2,1167.2 L1523.5,1167.1 L1524.7,1167.0 L1526.0,1166.9 L1527.3,1166.8 L1528.5,1166.7 L1529.8,1166.6 L1531.0,1166.4 L1532.3,1166.3 L1533.5,1166.2 L1534.8,1166.0 L1536.0,1165.8 L1537.3,1165.6 L1538.6,1165.4 L1539.8,1165.1 L1541.1,1164.8 L1542.3,1164.5 L1543.6,1164.2 L1544.8,1163.8 L1546.1,1163.4 L1547.3,1162.9 L1548.6,1162.4 L1549.8,1161.8 L1551.1,1161.2 L1552.4,1160.6 L1553.6,1159.9 L1554.9,1159.2 L1556.1,1158.4 L1557.4,1157.5 L1558.6,1156.6 L1559.9,1155.6 L1561.1,1154.5 L1562.4,1153.4 L1563.6,1152.2 L1564.9,1150.9 L1566.2,1149.6 L1567.4,1148.1 L1568.7,1146.5 L1569.9,1144.9 L1571.2,1143.1 L1572.4,1141.2 L1573.7,1139.1 L1574.9,1137.0 L1576.2,1134.7 L1577.5,1132.2 L1578.7,1129.6 L1580.0,1126.8 L1581.2,1123.9 L1582.5,1120.7 L1583.7,1117.4 L1585.0,1113.8 L1586.2,1110.0 L1587.5,1106.1 L1588.7,1101.8 L1590.0,1097.4 L1591.3,1092.7 L1592.5,1087.7 L1593.8,1082.5 L1595.0,1077.0 L1596.3,1071.3 L1597.5,1065.3 L1598.8,1059.0 L1600.0,1052.4 L1601.3,1045.6 L1602.5,1038.5 L1603.8,1031.1 L1605.1,1023.5 L1606.3,1015.7 L1607.6,1007.6 L1608.8,999.3 L1610.1,990.8 L1611.3,982.1 L1612.6,973.3 L1613.8,964.3 L1615.1,955.2 L1616.3,946.0 L1617.6,936.8 L1618.9,927.5 L1620.1,918.2 L1621.4,909.0 L1622.6,899.8 L1623.9,890.7 L1625.1,881.8 L1626.4,873.0 L1627.6,864.5 L1628.9,856.2 L1630.2,848.3 L1631.4,840.6 L1632.7,833.4 L1633.9,826.5 L1635.2,820.1 L1636.4,814.2 L1637.7,808.7 L1638.9,803.8 L1640.2,799.5 L1641.4,795.8 L1642.7,792.6 L1644.0,790.1 L1645.2,788.2 L1646.5,786.9 L1647.7,786.4 L1649.0,786.4 L1650.2,787.1 L1651.5,788.5 L1652.7,790.5 L1654.0,793.2 L1655.2,796.4 L1656.5,800.3 L1657.8,804.7 L1659.0,809.7 L1660.3,815.3 L1661.5,821.3 L1662.8,827.8 L1664.0,834.7 L1665.3,842.0 L1666.5,849.7 L1667.8,857.8 L1669.1,866.1 L1670.3,874.6 L1671.6,883.4 L1672.8,892.3 L1674.1,901.4 L1675.3,910.6 L1676.6,919.8 L1677.8,929.1 L1679.1,938.3 L1680.3,947.5 L1681.6,956.6 L1682.9,965.7 L1684.1,974.6 L1685.4,983.4 L1686.6,992.0 L1687.9,1000.4 L1689.1,1008.6 L1690.4,1016.5 L1691.6,1024.3 L1692.9,1031.7 L1694.1,1039.0 L1695.4,1045.9 L1696.7,1052.6 L1697.9,1059.0 L1699.2,1065.2 L1700.4,1071.0 L1701.7,1076.6 L1702.9,1081.9 L1704.2,1087.0 L1705.4,1091.8 L1706.7,1096.3 L1707.9,1100.6 L1709.2,1104.7 L1710.5,1108.5 L1711.7,1112.1 L1713.0,1115.5 L1714.2,1118.7 L1715.5,1121.6 L1716.7,1124.4 L1718.0,1127.1 L1719.2,1129.5 L1720.5,1131.8 L1721.8,1134.0 L1723.0,1136.0 L1724.3,1137.9 L1725.5,1139.7 L1726.8,1141.3 L1728.0,1142.9 L1729.3,1144.4 L1730.5,1145.7 L1731.8,1147.0 L1733.0,1148.3 L1734.3,1149.4 L1735.6,1150.5 L1736.8,1151.5 L1738.1,1152.5 L1739.3,1153.4 L1740.6,1154.3 L1741.8,1155.2 L1743.1,1156.0 L1744.3,1156.7 L1745.6,1157.5 L1746.8,1158.2 L1748.1,1158.9 L1749.4,1159.5 L1750.6,1160.2 L1751.9,1160.8 L1753.1,1161.4 L1754.4,1161.9 L1755.6,1162.5 L1756.9,1163.0 L1758.1,1163.6 L1759.4,1164.1 L1760.7,1164.6 L1761.9,1165.0 L1763.2,1165.5 L1764.4,1165.9 L1765.7,1166.4 L1766.9,1166.8 L1768.2,1167.2 L1769.4,1167.6 L1770.7,1168.0 L1771.9,1168.4 L1773.2,1168.7 L1774.5,1169.1 L1775.7,1169.4 L1777.0,1169.7 L1778.2,1170.0 L1779.5,1170.3 L1780.7,1170.6 L1782.0,1170.8 L1783.2,1171.1 L1784.5,1171.3 L1785.7,1171.6 L1787.0,1171.8 L1788.3,1172.0 L1789.5,1172.2 L1790.8,1172.4 L1792.0,1172.5 L1793.3,1172.7 L1794.5,1172.9 L1795.8,1173.0 L1797.0,1173.2 L1798.3,1173.3 L1799.6,1173.4 L1800.8,1173.5 L1802.1,1173.6 L1803.3,1173.7 L1804.6,1173.8 L1805.8,1173.9 L1807.1,1174.0 L1808.3,1174.0 L1809.6,1174.1 L1810.8,1174.2 L1812.1,1174.2 L1813.4,1174.3 L1814.6,1174.3 L1815.9,1174.4 L1817.1,1174.4 L1818.4,1174.4 L1819.6,1174.5 L1820.9,1174.5 L1822.1,1174.5 L1823.4,1174.6 L1824.6,1174.6 L1825.9,1174.6 L1827.2,1174.6 L1828.4,1174.6 L1829.7,1174.7 L1830.9,1174.7 L1832.2,1174.7 L1833.4,1174.7 L1834.7,1174.7 L1835.9,1174.7 L1837.2,1174.7 L1838.4,1174.7 L1839.7,1174.7 L1841.0,1174.7 L1842.2,1174.7 L1843.5,1174.8 L1844.7,1174.8 L1846.0,1174.8 L1847.2,1174.8 L1848.5,1174.8 L1849.7,1174.8 L1851.0,1174.8 L1852.3,1174.8 L1853.5,1174.8 L1854.8,1174.8 L1856.0,1174.8 L1857.3,1174.8 L1858.5,1174.8 L1859.8,1174.8 L1861.0,1174.8 L1862.3,1174.8 L1863.5,1174.8 L1864.8,1174.8 L1866.1,1174.8 L1867.3,1174.8 L1868.6,1174.8 L1869.8,1174.8 L1871.1,1174.8 L1872.3,1174.8 L1873.6,1174.8 L1874.8,1174.8 L1876.1,1174.8 L1877.3,1174.8 L1878.6,1174.8 L1879.9,1174.8 L1881.1,1174.8 L1882.4,1174.8 L1883.6,1174.8 L1884.9,1174.8 L1886.1,1174.8 L1887.4,1174.8 L1888.6,1174.8 L1889.9,1174.8 L1891.2,1174.8 L1892.4,1174.8 L1893.7,1174.8 L1894.9,1174.8 L1896.2,1174.8 L1897.4,1174.8 L1898.7,1174.8 L1899.9,1174.8 L1901.2,1174.8 L1902.4,1174.8 L1903.7,1174.8 L1905.0,1174.8 L1906.2,1174.8 L1907.5,1174.8 L1908.7,1174.8 L1910.0,1174.8 L1911.2,1174.8 L1912.5,1174.8 L1913.7,1174.8 L1915.0,1174.8 L1916.2,1174.8 L1917.5,1174.8 L1918.8,1174.8 L1920.0,1174.8 L1921.3,1174.8 L1922.5,1174.8 L1923.8,1174.8 L1925.0,1174.8 L1926.3,1174.8 L1927.5,1174.8 L1928.8,1174.8 L1930.0,1174.8 L1931.3,1174.8 L1932.6,1174.8 L1933.8,1174.8 L1935.1,1174.8 L1936.3,1174.8 L1937.6,1174.8 L1938.8,1174.8 L1940.1,1174.8 L1941.3,1174.8 L1942.6,1174.8 L1943.9,1174.8 L1945.1,1174.8 L1946.4,1174.8 L1947.6,1174.8 L1948.9,1174.8 L1950.1,1174.8 L1951.4,1174.8 L1952.6,1174.8 L1953.9,1174.8 L1955.1,1174.8 L1956.4,1174.8" stroke="#009a9c" stroke-width="8.0" fill="none" stroke-linejoin="round" stroke-linecap="butt"/>
<path d="M1329.0,1174.8 L1330.3,1174.8 L1331.5,1174.8 L1332.8,1174.8 L1334.0,1174.8 L1335.3,1174.8 L1336.5,1174.8 L1337.8,1174.8 L1339.0,1174.8 L1340.3,1174.8 L1341.5,1174.8 L1342.8,1174.8 L1344.1,1174.8 L1345.3,1174.8 L1346.6,1174.8 L1347.8,1174.8 L1349.1,1174.8 L1350.3,1174.8 L1351.6,1174.8 L1352.8,1174.8 L1354.1,1174.8 L1355.4,1174.8 L1356.6,1174.8 L1357.9,1174.8 L1359.1,1174.8 L1360.4,1174.8 L1361.6,1174.8 L1362.9,1174.8 L1364.1,1174.8 L1365.4,1174.8 L1366.6,1174.8 L1367.9,1174.8 L1369.2,1174.8 L1370.4,1174.8 L1371.7,1174.8 L1372.9,1174.8 L1374.2,1174.8 L1375.4,1174.8 L1376.7,1174.8 L1377.9,1174.8 L1379.2,1174.8 L1380.4,1174.8 L1381.7,1174.8 L1383.0,1174.8 L1384.2,1174.8 L1385.5,1174.8 L1386.7,1174.8 L1388.0,1174.8 L1389.2,1174.8 L1390.5,1174.8 L1391.7,1174.8 L1393.0,1174.8 L1394.2,1174.8 L1395.5,1174.8 L1396.8,1174.8 L1398.0,1174.8 L1399.3,1174.8 L1400.5,1174.8 L1401.8,1174.8 L1403.0,1174.8 L1404.3,1174.8 L1405.5,1174.8 L1406.8,1174.8 L1408.1,1174.8 L1409.3,1174.8 L1410.6,1174.8 L1411.8,1174.8 L1413.1,1174.8 L1414.3,1174.8 L1415.6,1174.8 L1416.8,1174.8 L1418.1,1174.8 L1419.3,1174.8 L1420.6,1174.8 L1421.9,1174.8 L1423.1,1174.8 L1424.4,1174.8 L1425.6,1174.8 L1426.9,1174.8 L1428.1,1174.8 L1429.4,1174.8 L1430.6,1174.8 L1431.9,1174.8 L1433.1,1174.8 L1434.4,1174.8 L1435.7,1174.8 L1436.9,1174.8 L1438.2,1174.8 L1439.4,1174.8 L1440.7,1174.8 L1441.9,1174.8 L1443.2,1174.8 L1444.4,1174.8 L1445.7,1174.8 L1447.0,1174.8 L1448.2,1174.8 L1449.5,1174.7 L1450.7,1174.7 L1452.0,1174.7 L1453.2,1174.7 L1454.5,1174.7 L1455.7,1174.7 L1457.0,1174.7 L1458.2,1174.6 L1459.5,1174.6 L1460.8,1174.6 L1462.0,1174.6 L1463.3,1174.5 L1464.5,1174.5 L1465.8,1174.4 L1467.0,1174.4 L1468.3,1174.3 L1469.5,1174.2 L1470.8,1174.1 L1472.0,1174.0 L1473.3,1173.9 L1474.6,1173.8 L1475.8,1173.7 L1477.1,1173.5 L1478.3,1173.3 L1479.6,1173.2 L1480.8,1173.0 L1482.1,1172.7 L1483.3,1172.5 L1484.6,1172.2 L1485.8,1172.0 L1487.1,1171.7 L1488.4,1171.4 L1489.6,1171.1 L1490.9,1170.7 L1492.1,1170.4 L1493.4,1170.0 L1494.6,1169.7 L1495.9,1169.3 L1497.1,1168.9 L1498.4,1168.5 L1499.7,1168.1 L1500.9,1167.8 L1502.2,1167.4 L1503.4,1167.0 L1504.7,1166.7 L1505.9,1166.3 L1507.2,1166.0 L1508.4,1165.7 L1509.7,1165.4 L1510.9,1165.2 L1512.2,1165.0 L1513.5,1164.8 L1514.7,1164.6 L1516.0,1164.4 L1517.2,1164.3 L1518.5,1164.2 L1519.7,1164.1 L1521.0,1164.0 L1522.2,1163.9 L1523.5,1163.9 L1524.7,1163.8 L1526.0,1163.8 L1527.3,1163.8 L1528.5,1163.7 L1529.8,1163.7 L1531.0,1163.7 L1532.3,1163.6 L1533.5,1163.5 L1534.8,1163.4 L1536.0,1163.3 L1537.3,1163.2 L1538.6,1163.0 L1539.8,1162.8 L1541.1,1162.6 L1542.3,1162.3 L1543.6,1161.9 L1544.8,1161.6 L1546.1,1161.1 L1547.3,1160.7 L1548.6,1160.1 L1549.8,1159.6 L1551.1,1158.9 L1552.4,1158.2 L1553.6,1157.5 L1554.9,1156.7 L1556.1,1155.8 L1557.4,1154.8 L1558.6,1153.8 L1559.9,1152.7 L1561.1,1151.5 L1562.4,1150.3 L1563.6,1148.9 L1564.9,1147.5 L1566.2,1145.9 L1567.4,1144.3 L1568.7,1142.5 L1569.9,1140.6 L1571.2,1138.6 L1572.4,1136.5 L1573.7,1134.2 L1574.9,1131.7 L1576.2,1129.1 L1577.5,1126.4 L1578.7,1123.4 L1580.0,1120.2 L1581.2,1116.9 L1582.5,1113.3 L1583.7,1109.5 L1585.0,1105.5 L1586.2,1101.2 L1587.5,1096.6 L1588.7,1091.8 L1590.0,1086.7 L1591.3,1081.3 L1592.5,1075.6 L1593.8,1069.6 L1595.0,1063.3 L1596.3,1056.7 L1597.5,1049.7 L1598.8,1042.4 L1600.0,1034.7 L1601.3,1026.8 L1602.5,1018.5 L1603.8,1009.8 L1605.1,1000.9 L1606.3,991.6 L1607.6,982.0 L1608.8,972.1 L1610.1,962.0 L1611.3,951.6 L1612.6,940.9 L1613.8,930.1 L1615.1,919.0 L1616.3,907.8 L1617.6,896.5 L1618.9,885.1 L1620.1,873.6 L1621.4,862.2 L1622.6,850.7 L1623.9,839.3 L1625.1,828.0 L1626.4,816.9 L1627.6,806.0 L1628.9,795.4 L1630.2,785.0 L1631.4,775.0 L1632.7,765.4 L1633.9,756.2 L1635.2,747.6 L1636.4,739.4 L1637.7,731.8 L1638.9,724.8 L1640.2,718.5 L1641.4,712.9 L1642.7,708.0 L1644.0,703.8 L1645.2,700.3 L1646.5,697.7 L1647.7,695.8 L1649.0,694.8 L1650.2,694.5 L1651.5,695.1 L1652.7,696.5 L1654.0,698.6 L1655.2,701.6 L1656.5,705.3 L1657.8,709.8 L1659.0,715.1 L1660.3,721.0 L1661.5,727.6 L1662.8,734.8 L1664.0,742.6 L1665.3,751.0 L1666.5,759.8 L1667.8,769.2 L1669.1,779.0 L1670.3,789.1 L1671.6,799.6 L1672.8,810.4 L1674.1,821.4 L1675.3,832.5 L1676.6,843.9 L1677.8,855.3 L1679.1,866.7 L1680.3,878.2 L1681.6,889.7 L1682.9,901.1 L1684.1,912.3 L1685.4,923.5 L1686.6,934.4 L1687.9,945.2 L1689.1,955.8 L1690.4,966.1 L1691.6,976.1 L1692.9,985.9 L1694.1,995.3 L1695.4,1004.5 L1696.7,1013.3 L1697.9,1021.8 L1699.2,1030.0 L1700.4,1037.8 L1701.7,1045.3 L1702.9,1052.5 L1704.2,1059.4 L1705.4,1065.9 L1706.7,1072.1 L1707.9,1077.9 L1709.2,1083.5 L1710.5,1088.8 L1711.7,1093.8 L1713.0,1098.5 L1714.2,1102.9 L1715.5,1107.1 L1716.7,1111.1 L1718.0,1114.8 L1719.2,1118.3 L1720.5,1121.5 L1721.8,1124.6 L1723.0,1127.5 L1724.3,1130.2 L1725.5,1132.8 L1726.8,1135.2 L1728.0,1137.4 L1729.3,1139.5 L1730.5,1141.5 L1731.8,1143.4 L1733.0,1145.1 L1734.3,1146.8 L1735.6,1148.3 L1736.8,1149.8 L1738.1,1151.1 L1739.3,1152.4 L1740.6,1153.6 L1741.8,1154.8 L1743.1,1155.9 L1744.3,1156.9 L1745.6,1157.8 L1746.8,1158.8 L1748.1,1159.6 L1749.4,1160.4 L1750.6,1161.2 L1751.9,1162.0 L1753.1,1162.7 L1754.4,1163.3 L1755.6,1163.9 L1756.9,1164.5 L1758.1,1165.1 L1759.4,1165.7 L1760.7,1166.2 L1761.9,1166.6 L1763.2,1167.1 L1764.4,1167.5 L1765.7,1168.0 L1766.9,1168.4 L1768.2,1168.7 L1769.4,1169.1 L1770.7,1169.4 L1771.9,1169.7 L1773.2,1170.1 L1774.5,1170.3 L1775.7,1170.6 L1777.0,1170.9 L1778.2,1171.1 L1779.5,1171.3 L1780.7,1171.6 L1782.0,1171.8 L1783.2,1172.0 L1784.5,1172.1 L1785.7,1172.3 L1787.0,1172.5 L1788.3,1172.6 L1789.5,1172.8 L1790.8,1172.9 L1792.0,1173.0 L1793.3,1173.2 L1794.5,1173.3 L1795.8,1173.4 L1797.0,1173.5 L1798.3,1173.6 L1799.6,1173.7 L1800.8,1173.7 L1802.1,1173.8 L1803.3,1173.9 L1804.6,1174.0 L1805.8,1174.0 L1807.1,1174.1 L1808.3,1174.1 L1809.6,1174.2 L1810.8,1174.2 L1812.1,1174.3 L1813.4,1174.3 L1814.6,1174.4 L1815.9,1174.4 L1817.1,1174.4 L1818.4,1174.5 L1819.6,1174.5 L1820.9,1174.5 L1822.1,1174.5 L1823.4,1174.6 L1824.6,1174.6 L1825.9,1174.6 L1827.2,1174.6 L1828.4,1174.6 L1829.7,1174.6 L1830.9,1174.7 L1832.2,1174.7 L1833.4,1174.7 L1834.7,1174.7 L1835.9,1174.7 L1837.2,1174.7 L1838.4,1174.7 L1839.7,1174.7 L1841.0,1174.7 L1842.2,1174.7 L1843.5,1174.7 L1844.7,1174.7 L1846.0,1174.8 L1847.2,1174.8 L1848.5,1174.8 L1849.7,1174.8 L1851.0,1174.8 L1852.3,1174.8 L1853.5,1174.8 L1854.8,1174.8 L1856.0,1174.8 L1857.3,1174.8 L1858.5,1174.8 L1859.8,1174.8 L1861.0,1174.8 L1862.3,1174.8 L1863.5,1174.8 L1864.8,1174.8 L1866.1,1174.8 L1867.3,1174.8 L1868.6,1174.8 L1869.8,1174.8 L1871.1,1174.8 L1872.3,1174.8 L1873.6,1174.8 L1874.8,1174.8 L1876.1,1174.8 L1877.3,1174.8 L1878.6,1174.8 L1879.9,1174.8 L1881.1,1174.8 L1882.4,1174.8 L1883.6,1174.8 L1884.9,1174.8 L1886.1,1174.8 L1887.4,1174.8 L1888.6,1174.8 L1889.9,1174.8 L1891.2,1174.8 L1892.4,1174.8 L1893.7,1174.8 L1894.9,1174.8 L1896.2,1174.8 L1897.4,1174.8 L1898.7,1174.8 L1899.9,1174.8 L1901.2,1174.8 L1902.4,1174.8 L1903.7,1174.8 L1905.0,1174.8 L1906.2,1174.8 L1907.5,1174.8 L1908.7,1174.8 L1910.0,1174.8 L1911.2,1174.8 L1912.5,1174.8 L1913.7,1174.8 L1915.0,1174.8 L1916.2,1174.8 L1917.5,1174.8 L1918.8,1174.8 L1920.0,1174.8 L1921.3,1174.8 L1922.5,1174.8 L1923.8,1174.8 L1925.0,1174.8 L1926.3,1174.8 L1927.5,1174.8 L1928.8,1174.8 L1930.0,1174.8 L1931.3,1174.8 L1932.6,1174.8 L1933.8,1174.8 L1935.1,1174.8 L1936.3,1174.8 L1937.6,1174.8 L1938.8,1174.8 L1940.1,1174.8 L1941.3,1174.8 L1942.6,1174.8 L1943.9,1174.8 L1945.1,1174.8 L1946.4,1174.8 L1947.6,1174.8 L1948.9,1174.8 L1950.1,1174.8 L1951.4,1174.8 L1952.6,1174.8 L1953.9,1174.8 L1955.1,1174.8 L1956.4,1174.8" stroke="#d94e07" stroke-width="8.0" fill="none" stroke-linejoin="round" stroke-linecap="butt"/>
</g>
<rect x="1329.0" y="649.0" width="627.4000000000001" height="551.7" fill="none" stroke="#2a2a2a" stroke-width="4.4" rx="1.5"/>
<line x1="1329.0" y1="1200.7" x2="1329.0" y2="1212.2" stroke="#2a2a2a" stroke-width="3.8" />
<line x1="1454.5" y1="1200.7" x2="1454.5" y2="1212.2" stroke="#2a2a2a" stroke-width="3.8" />
<line x1="1580.0" y1="1200.7" x2="1580.0" y2="1212.2" stroke="#2a2a2a" stroke-width="3.8" />
<line x1="1705.4" y1="1200.7" x2="1705.4" y2="1212.2" stroke="#2a2a2a" stroke-width="3.8" />
<line x1="1830.9" y1="1200.7" x2="1830.9" y2="1212.2" stroke="#2a2a2a" stroke-width="3.8" />
<line x1="1956.4" y1="1200.7" x2="1956.4" y2="1212.2" stroke="#2a2a2a" stroke-width="3.8" />
<line x1="1316.5" y1="1174.8" x2="1329.0" y2="1174.8" stroke="#2a2a2a" stroke-width="3.8" />
<line x1="1316.5" y1="1091.7" x2="1329.0" y2="1091.7" stroke="#2a2a2a" stroke-width="3.8" />
<line x1="1316.5" y1="1008.6" x2="1329.0" y2="1008.6" stroke="#2a2a2a" stroke-width="3.8" />
<line x1="1316.5" y1="925.5" x2="1329.0" y2="925.5" stroke="#2a2a2a" stroke-width="3.8" />
<line x1="1316.5" y1="842.4" x2="1329.0" y2="842.4" stroke="#2a2a2a" stroke-width="3.8" />
<line x1="1316.5" y1="759.3" x2="1329.0" y2="759.3" stroke="#2a2a2a" stroke-width="3.8" />
<line x1="1316.5" y1="676.2" x2="1329.0" y2="676.2" stroke="#2a2a2a" stroke-width="3.8" />
<text transform="translate(1299.50,1248.50) scale(1.1141,1)" x="-0.72" y="0" font-family='"Liberation Serif", serif' font-size="36.09" fill="#202020" stroke="#202020" stroke-width="1.0" stroke-linejoin="round">400</text>
<text transform="translate(1424.98,1248.50) scale(1.1141,1)" x="-0.72" y="0" font-family='"Liberation Serif", serif' font-size="36.09" fill="#202020" stroke="#202020" stroke-width="1.0" stroke-linejoin="round">450</text>
<text transform="translate(1550.46,1248.50) scale(1.1438,1)" x="-2.08" y="0" font-family='"Liberation Serif", serif' font-size="36.09" fill="#202020" stroke="#202020" stroke-width="1.0" stroke-linejoin="round">500</text>
<text transform="translate(1675.94,1248.50) scale(1.1438,1)" x="-2.08" y="0" font-family='"Liberation Serif", serif' font-size="36.09" fill="#202020" stroke="#202020" stroke-width="1.0" stroke-linejoin="round">550</text>
<text transform="translate(1801.42,1248.50) scale(1.1317,1)" x="-1.53" y="0" font-family='"Liberation Serif", serif' font-size="36.09" fill="#202020" stroke="#202020" stroke-width="1.0" stroke-linejoin="round">600</text>
<text transform="translate(1926.90,1248.50) scale(1.1317,1)" x="-1.53" y="0" font-family='"Liberation Serif", serif' font-size="36.09" fill="#202020" stroke="#202020" stroke-width="1.0" stroke-linejoin="round">650</text>
<text font-family='"Liberation Serif", serif' fill="#202020" transform="scale(1.0400,1)" stroke="#202020" stroke-width="1.0" stroke-linejoin="round"><tspan x="1200.37" y="1189.80" font-size="36.99">0</tspan><tspan x="1220.09" y="1189.80" font-size="36.99">.</tspan><tspan x="1238.83" y="1189.80" font-size="36.99">0</tspan></text>
<text font-family='"Liberation Serif", serif' fill="#202020" transform="scale(1.0400,1)" stroke="#202020" stroke-width="1.0" stroke-linejoin="round"><tspan x="1109.36" y="1108.10" font-size="36.99">3</tspan><tspan x="1128.74" y="1108.10" font-size="36.99">.</tspan><tspan x="1147.87" y="1108.10" font-size="36.99">0</tspan><tspan x="1169.67" y="1113.40" font-size="57.67" stroke-width="0">×</tspan><tspan x="1204.67" y="1108.10" font-size="36.99">1</tspan><tspan x="1222.39" y="1108.10" font-size="36.99">0</tspan><tspan x="1244.00" y="1093.30" font-size="24.66">5</tspan></text>
<text font-family='"Liberation Serif", serif' fill="#202020" transform="scale(1.0400,1)" stroke="#202020" stroke-width="1.0" stroke-linejoin="round"><tspan x="1109.27" y="1025.00" font-size="36.99">6</tspan><tspan x="1128.74" y="1025.00" font-size="36.99">.</tspan><tspan x="1147.87" y="1025.00" font-size="36.99">0</tspan><tspan x="1169.67" y="1030.30" font-size="57.67" stroke-width="0">×</tspan><tspan x="1204.67" y="1025.00" font-size="36.99">1</tspan><tspan x="1222.39" y="1025.00" font-size="36.99">0</tspan><tspan x="1244.00" y="1010.20" font-size="24.66">5</tspan></text>
<text font-family='"Liberation Serif", serif' fill="#202020" transform="scale(1.0400,1)" stroke="#202020" stroke-width="1.0" stroke-linejoin="round"><tspan x="1109.64" y="941.90" font-size="36.99">9</tspan><tspan x="1128.74" y="941.90" font-size="36.99">.</tspan><tspan x="1147.87" y="941.90" font-size="36.99">0</tspan><tspan x="1169.67" y="947.20" font-size="57.67" stroke-width="0">×</tspan><tspan x="1204.67" y="941.90" font-size="36.99">1</tspan><tspan x="1222.39" y="941.90" font-size="36.99">0</tspan><tspan x="1244.00" y="927.10" font-size="24.66">5</tspan></text>
<text font-family='"Liberation Serif", serif' fill="#202020" transform="scale(1.0400,1)" stroke="#202020" stroke-width="1.0" stroke-linejoin="round"><tspan x="1108.99" y="858.80" font-size="36.99">1</tspan><tspan x="1128.74" y="858.80" font-size="36.99">.</tspan><tspan x="1148.10" y="858.80" font-size="36.99">2</tspan><tspan x="1169.67" y="864.10" font-size="57.67" stroke-width="0">×</tspan><tspan x="1204.67" y="858.80" font-size="36.99">1</tspan><tspan x="1222.39" y="858.80" font-size="36.99">0</tspan><tspan x="1244.07" y="844.00" font-size="24.66">6</tspan></text>
<text font-family='"Liberation Serif", serif' fill="#202020" transform="scale(1.0400,1)" stroke="#202020" stroke-width="1.0" stroke-linejoin="round"><tspan x="1108.99" y="775.70" font-size="36.99">1</tspan><tspan x="1128.74" y="775.70" font-size="36.99">.</tspan><tspan x="1147.54" y="775.70" font-size="36.99">5</tspan><tspan x="1169.67" y="781.00" font-size="57.67" stroke-width="0">×</tspan><tspan x="1204.67" y="775.70" font-size="36.99">1</tspan><tspan x="1222.39" y="775.70" font-size="36.99">0</tspan><tspan x="1244.07" y="760.90" font-size="24.66">6</tspan></text>
<text font-family='"Liberation Serif", serif' fill="#202020" transform="scale(1.0400,1)" stroke="#202020" stroke-width="1.0" stroke-linejoin="round"><tspan x="1108.99" y="692.60" font-size="36.99">1</tspan><tspan x="1128.74" y="692.60" font-size="36.99">.</tspan><tspan x="1147.87" y="692.60" font-size="36.99">8</tspan><tspan x="1169.67" y="697.90" font-size="57.67" stroke-width="0">×</tspan><tspan x="1204.67" y="692.60" font-size="36.99">1</tspan><tspan x="1222.39" y="692.60" font-size="36.99">0</tspan><tspan x="1244.07" y="677.80" font-size="24.66">6</tspan></text>
<text transform="translate(1096.00,992.50) rotate(-90.00) scale(0.7903,1)" x="-1.45" y="0" font-family='"Liberation Serif", serif' font-size="52.67" fill="#151515" stroke="#151515" stroke-width="0.9" stroke-linejoin="round">EL Int. (ct.)</text>
<text transform="translate(1575.90,1327.20) scale(1.2905,1)" x="-0.99" y="0" font-family='"Liberation Serif", serif' font-size="39.57" fill="#151515" stroke="#151515" stroke-width="0.9" stroke-linejoin="round">λ (nm)</text>
<text transform="translate(1776.30,708.40) scale(0.9818,1)" x="-1.27" y="0" font-family='"Liberation Serif", serif' font-size="46.19" fill="#262626" stroke="#262626" stroke-width="0.8" stroke-linejoin="round">L-CHP</text>
<line x1="1763.4" y1="761.7" x2="1859.4" y2="761.7" stroke="#009a9c" stroke-width="7.5" stroke-linecap="round"/>
<line x1="1763.4" y1="823.6" x2="1859.4" y2="823.6" stroke="#d94e07" stroke-width="7.5" stroke-linecap="round"/>
<text font-family='"Liberation Sans", sans-serif' fill="#1c1c1c" transform="scale(1.2406,1)" stroke="#1c1c1c" stroke-width="0.4" stroke-linejoin="round"><tspan x="1516.52" y="778.50" font-size="38.86">σ</tspan><tspan x="1542.79" y="755.20" font-size="21.43" fill="#333">+</tspan></text>
<text font-family='"Liberation Sans", sans-serif' fill="#1c1c1c" transform="scale(1.2406,1)" stroke="#1c1c1c" stroke-width="0.4" stroke-linejoin="round"><tspan x="1516.52" y="840.00" font-size="38.86">σ</tspan><tspan x="1539.26" y="816.50" font-size="20.00" fill="#444">−</tspan></text>
<rect x="19.5" y="1343.4" width="43.0" height="11" fill="#49aadb"/><rect x="97.9" y="1343.5" width="43.0" height="11" fill="#49aadb"/><rect x="176.2" y="1343.6" width="43.0" height="11" fill="#49aadb"/><rect x="254.6" y="1343.8" width="43.0" height="11" fill="#49aadb"/><rect x="332.9" y="1343.9" width="43.0" height="11" fill="#49aadb"/><rect x="411.3" y="1344.0" width="43.0" height="11" fill="#49aadb"/><rect x="489.7" y="1344.1" width="43.0" height="11" fill="#49aadb"/><rect x="568.0" y="1344.2" width="43.0" height="11" fill="#49aadb"/><rect x="646.4" y="1344.4" width="43.0" height="11" fill="#49aadb"/><rect x="724.7" y="1344.5" width="43.0" height="11" fill="#49aadb"/><rect x="803.1" y="1344.6" width="43.0" height="11" fill="#49aadb"/><rect x="881.5" y="1344.7" width="43.0" height="11" fill="#49aadb"/><rect x="959.8" y="1344.9" width="43.0" height="11" fill="#49aadb"/><rect x="1038.2" y="1345.0" width="43.0" height="11" fill="#49aadb"/><rect x="1116.5" y="1345.1" width="43.0" height="11" fill="#49aadb"/><rect x="1194.9" y="1345.2" width="43.0" height="11" fill="#49aadb"/><rect x="1273.3" y="1345.3" width="43.0" height="11" fill="#49aadb"/><rect x="1351.6" y="1345.5" width="43.0" height="11" fill="#49aadb"/><rect x="1430.0" y="1345.6" width="43.0" height="11" fill="#49aadb"/><rect x="1508.3" y="1345.7" width="43.0" height="11" fill="#49aadb"/><rect x="1586.7" y="1345.8" width="43.0" height="11" fill="#49aadb"/><rect x="1665.1" y="1345.9" width="43.0" height="11" fill="#49aadb"/><rect x="1743.4" y="1346.1" width="43.0" height="11" fill="#49aadb"/><rect x="1821.8" y="1346.2" width="43.0" height="11" fill="#49aadb"/><rect x="1900.1" y="1346.3" width="43.0" height="11" fill="#49aadb"/><rect x="1978.5" y="1346.4" width="43.0" height="11" fill="#49aadb"/>
<text transform="translate(20.50,1444.80) scale(1.0893,1)" x="-3.29" y="0" font-family='"Liberation Serif", serif' font-size="82.26" fill="#000">C</text>
<polygon points="71.2,1716.2 520.0,1734.6 633.7,1763.4 190.8,1769.4" fill="#e5eeeb" stroke="#e5eeeb" stroke-width="0.7" stroke-linejoin="round"/>
<polygon points="71.2,1716.2 190.8,1769.4 190.8,1799.6 71.2,1739.3" fill="url(#cItoSide)" stroke="url(#cItoSide)" stroke-width="0.7" stroke-linejoin="round"/>
<polygon points="190.8,1769.4 633.7,1763.4 633.7,1792.0 190.8,1799.6" fill="url(#cItoFront)" stroke="url(#cItoFront)" stroke-width="0.7" stroke-linejoin="round"/>
<path d="M139.5,1743.5 V1499.2 H287.6 V1560" stroke="#5f6b6a" stroke-width="5" fill="none" stroke-linejoin="miter"/>
<polygon points="148.5,1570.5 203.8,1566.0 499.0,1577.0 555.3,1587.5 236.0,1585.5" fill="#e9e0b4" stroke="#e9e0b4" stroke-width="0.7" stroke-linejoin="round"/>
<polygon points="148.5,1570.5 236.0,1585.5 236.0,1613.7 148.5,1595.6" fill="#d9cf9f" stroke="#d9cf9f" stroke-width="0.7" stroke-linejoin="round"/>
<polygon points="236.0,1585.5 555.3,1587.5 555.3,1613.7 236.0,1613.7" fill="#d8d09e" stroke="#d8d09e" stroke-width="0.7" stroke-linejoin="round"/>
<polygon points="315.4,1546.3 430.7,1560.4 430.7,1584.5 315.4,1569.0" fill="#a9b4b0" stroke="#a9b4b0" stroke-width="0.7" stroke-linejoin="round"/>
<polygon points="430.7,1560.4 493.0,1559.4 493.0,1584.5 430.7,1584.5" fill="#d6dcdc" stroke="#d6dcdc" stroke-width="0.7" stroke-linejoin="round"/>
<polygon points="203.8,1545.3 301.3,1559.4 301.3,1583.0 203.8,1568.4" fill="#a9b4b0" stroke="#a9b4b0" stroke-width="0.7" stroke-linejoin="round"/>
<polygon points="301.3,1559.4 367.6,1559.4 367.6,1583.0 301.3,1583.0" fill="#d6dcdc" stroke="#d6dcdc" stroke-width="0.7" stroke-linejoin="round"/>
<line x1="287.6" y1="1510.0" x2="287.6" y2="1558.0" stroke="#5f6b6a" stroke-width="5" />
<polygon points="148.5,1595.6 236.0,1613.7 236.0,1672.0 148.5,1649.8" fill="#b93222" stroke="#b93222" stroke-width="0.7" stroke-linejoin="round"/>
<polygon points="236.0,1613.7 555.3,1613.7 555.3,1670.5 236.0,1672.0" fill="#e23a24" stroke="#e23a24" stroke-width="0.7" stroke-linejoin="round"/>
<polygon points="148.5,1649.8 236.0,1672.0 236.0,1703.1 148.5,1673.0" fill="#8eb6ba" stroke="#8eb6ba" stroke-width="0.7" stroke-linejoin="round"/>
<polygon points="236.0,1672.0 555.3,1670.5 555.3,1700.3 236.0,1703.1" fill="#99c0c4" stroke="#99c0c4" stroke-width="0.7" stroke-linejoin="round"/>
<polygon points="148.5,1673.0 236.0,1703.1 236.0,1730.3 148.5,1698.1" fill="#3f8085" stroke="#3f8085" stroke-width="0.7" stroke-linejoin="round"/>
<polygon points="236.0,1703.1 554.5,1700.3 554.5,1726.5 236.0,1730.3" fill="#529499" stroke="#529499" stroke-width="0.7" stroke-linejoin="round"/>
<polygon points="148.5,1698.1 236.0,1730.3 236.0,1759.4 148.5,1724.2" fill="#9aa19d" stroke="#9aa19d" stroke-width="0.7" stroke-linejoin="round"/>
<polygon points="236.0,1730.3 552.5,1726.5 552.5,1753.6 236.0,1759.4" fill="#b6bdb8" stroke="#b6bdb8" stroke-width="0.7" stroke-linejoin="round"/>
<line x1="124.4" y1="1634.4" x2="151.6" y2="1634.4" stroke="#0a0a0a" stroke-width="4" />
<line x1="111.4" y1="1647.8" x2="167.6" y2="1647.8" stroke="#0a0a0a" stroke-width="4.6" />
<text transform="translate(326.10,1545.30) scale(0.9936,1)" x="-0.09" y="0" font-family='"Liberation Sans", sans-serif' font-size="37.82" fill="#ee7e42" stroke="#ee7e42" stroke-width="0.7" stroke-linejoin="round">Al/Liq</text>
<text transform="translate(339.20,1610.70) scale(0.9851,1)" x="-0.85" y="0" font-family='"Liberation Sans", sans-serif' font-size="37.82" fill="#181818" stroke="#181818" stroke-width="0.9" stroke-linejoin="round">TPBi</text>
<text font-family='"Liberation Sans", sans-serif' font-weight="bold" fill="#160503" font-size="35.64" transform="translate(294.2,1663.3) scale(1.03,1)"><tspan font-style="italic">R-/S-</tspan> EML</text>
<text transform="translate(347.20,1696.00) scale(1.0387,1)" x="-2.64" y="0" font-family='"Liberation Sans", sans-serif' font-size="32.00" fill="#15282b" stroke="#15282b" stroke-width="0.6" stroke-linejoin="round">PVK</text>
<text transform="translate(339.20,1728.20) scale(0.9865,1)" x="-3.12" y="0" font-family='"Liberation Sans", sans-serif' font-size="37.82" fill="#06181a" stroke="#06181a" stroke-width="1.4" stroke-linejoin="round">PTAA</text>
<text transform="translate(298.30,1758.40) scale(0.9570,1)" x="-2.76" y="0" font-family='"Liberation Sans", sans-serif' font-size="33.45" fill="#1d2421" stroke="#1d2421" stroke-width="0.9" stroke-linejoin="round">PEDOT:PSS</text>
<text transform="translate(273.20,1797.60) scale(1.0380,1)" x="-3.36" y="0" font-family='"Liberation Sans", sans-serif' font-size="36.36" fill="#ee7e42" stroke="#ee7e42" stroke-width="1.0" stroke-linejoin="round">ITO substrate</text>
<clipPath id="clipC1"><rect x="843.6" y="1442.4" width="440.19999999999993" height="328.79999999999995"/></clipPath>
<g clip-path="url(#clipC1)">
<path d="M841.6,1764.0 L843.1,1764.0 L844.5,1764.0 L846.0,1764.0 L847.5,1764.0 L848.9,1764.0 L850.4,1764.0 L851.9,1764.0 L853.3,1764.0 L854.8,1764.0 L856.3,1764.0 L857.8,1764.0 L859.2,1764.0 L860.7,1764.0 L862.2,1764.0 L863.6,1764.0 L865.1,1764.0 L866.6,1764.0 L868.1,1764.0 L869.5,1764.0 L871.0,1764.0 L872.5,1764.0 L873.9,1764.0 L875.4,1764.0 L876.9,1764.0 L878.4,1764.0 L879.8,1764.0 L881.3,1764.0 L882.8,1764.0 L884.2,1764.0 L885.7,1764.0 L887.2,1764.0 L888.7,1764.0 L890.1,1764.0 L891.6,1764.0 L893.1,1764.0 L894.5,1764.0 L896.0,1764.0 L897.5,1764.0 L898.9,1764.0 L900.4,1764.0 L901.9,1764.0 L903.4,1764.0 L904.8,1764.0 L906.3,1764.0 L907.8,1764.0 L909.2,1764.0 L910.7,1764.0 L912.2,1764.0 L913.7,1764.0 L915.1,1764.0 L916.6,1764.0 L918.1,1764.0 L919.5,1764.0 L921.0,1764.0 L922.5,1763.9 L924.0,1763.9 L925.4,1763.9 L926.9,1763.9 L928.4,1763.9 L929.8,1763.9 L931.3,1763.9 L932.8,1763.8 L934.3,1763.8 L935.7,1763.8 L937.2,1763.7 L938.7,1763.7 L940.1,1763.6 L941.6,1763.6 L943.1,1763.5 L944.5,1763.4 L946.0,1763.3 L947.5,1763.2 L949.0,1763.1 L950.4,1763.0 L951.9,1762.8 L953.4,1762.6 L954.8,1762.4 L956.3,1762.2 L957.8,1761.9 L959.3,1761.6 L960.7,1761.2 L962.2,1760.8 L963.7,1760.4 L965.1,1759.8 L966.6,1759.3 L968.1,1758.6 L969.6,1757.9 L971.0,1757.0 L972.5,1756.1 L974.0,1755.0 L975.4,1753.9 L976.9,1752.6 L978.4,1751.1 L979.9,1749.5 L981.3,1747.7 L982.8,1745.7 L984.3,1743.5 L985.7,1741.1 L987.2,1738.5 L988.7,1735.6 L990.2,1732.5 L991.6,1729.1 L993.1,1725.4 L994.6,1721.4 L996.0,1717.0 L997.5,1712.4 L999.0,1707.4 L1000.4,1702.0 L1001.9,1696.3 L1003.4,1690.2 L1004.9,1683.8 L1006.3,1677.0 L1007.8,1669.9 L1009.3,1662.4 L1010.7,1654.6 L1012.2,1646.5 L1013.7,1638.2 L1015.2,1629.5 L1016.6,1620.6 L1018.1,1611.6 L1019.6,1602.4 L1021.0,1593.1 L1022.5,1583.7 L1024.0,1574.3 L1025.5,1565.0 L1026.9,1555.8 L1028.4,1546.8 L1029.9,1538.0 L1031.3,1529.5 L1032.8,1521.4 L1034.3,1513.7 L1035.8,1506.4 L1037.2,1499.8 L1038.7,1493.7 L1040.2,1488.3 L1041.6,1483.6 L1043.1,1479.7 L1044.6,1476.5 L1046.0,1474.1 L1047.5,1472.6 L1049.0,1471.9 L1050.5,1472.1 L1051.9,1473.3 L1053.4,1475.5 L1054.9,1478.6 L1056.3,1482.6 L1057.8,1487.4 L1059.3,1493.0 L1060.8,1499.4 L1062.2,1506.4 L1063.7,1513.9 L1065.2,1522.0 L1066.6,1530.4 L1068.1,1539.1 L1069.6,1548.1 L1071.1,1557.3 L1072.5,1566.5 L1074.0,1575.8 L1075.5,1585.0 L1076.9,1594.2 L1078.4,1603.1 L1079.9,1611.9 L1081.4,1620.5 L1082.8,1628.8 L1084.3,1636.8 L1085.8,1644.5 L1087.2,1652.0 L1088.7,1659.0 L1090.2,1665.8 L1091.6,1672.2 L1093.1,1678.3 L1094.6,1684.1 L1096.1,1689.5 L1097.5,1694.6 L1099.0,1699.5 L1100.5,1704.0 L1101.9,1708.2 L1103.4,1712.2 L1104.9,1715.9 L1106.4,1719.4 L1107.8,1722.7 L1109.3,1725.7 L1110.8,1728.5 L1112.2,1731.1 L1113.7,1733.6 L1115.2,1735.8 L1116.7,1737.9 L1118.1,1739.9 L1119.6,1741.7 L1121.1,1743.4 L1122.5,1744.9 L1124.0,1746.3 L1125.5,1747.7 L1127.0,1748.9 L1128.4,1750.0 L1129.9,1751.1 L1131.4,1752.1 L1132.8,1753.0 L1134.3,1753.8 L1135.8,1754.6 L1137.2,1755.3 L1138.7,1756.0 L1140.2,1756.6 L1141.7,1757.1 L1143.1,1757.7 L1144.6,1758.1 L1146.1,1758.6 L1147.5,1759.0 L1149.0,1759.4 L1150.5,1759.7 L1152.0,1760.0 L1153.4,1760.3 L1154.9,1760.6 L1156.4,1760.9 L1157.8,1761.1 L1159.3,1761.3 L1160.8,1761.5 L1162.3,1761.7 L1163.7,1761.9 L1165.2,1762.0 L1166.7,1762.2 L1168.1,1762.3 L1169.6,1762.5 L1171.1,1762.6 L1172.6,1762.7 L1174.0,1762.8 L1175.5,1762.9 L1177.0,1763.0 L1178.4,1763.0 L1179.9,1763.1 L1181.4,1763.2" stroke="#2b2b2b" stroke-width="3.0" fill="none" stroke-linejoin="round" stroke-linecap="round"/>
<path d="M841.6,1765.5 L843.1,1765.5 L844.5,1765.5 L846.0,1765.5 L847.5,1765.5 L848.9,1765.5 L850.4,1765.5 L851.9,1765.5 L853.3,1765.5 L854.8,1765.5 L856.3,1765.5 L857.8,1765.5 L859.2,1765.5 L860.7,1765.5 L862.2,1765.5 L863.6,1765.5 L865.1,1765.5 L866.6,1765.5 L868.1,1765.5 L869.5,1765.5 L871.0,1765.5 L872.5,1765.5 L873.9,1765.5 L875.4,1765.5 L876.9,1765.5 L878.4,1765.5 L879.8,1765.5 L881.3,1765.5 L882.8,1765.5 L884.2,1765.5 L885.7,1765.5 L887.2,1765.5 L888.7,1765.5 L890.1,1765.5 L891.6,1765.5 L893.1,1765.5 L894.5,1765.5 L896.0,1765.5 L897.5,1765.5 L898.9,1765.5 L900.4,1765.5 L901.9,1765.5 L903.4,1765.5 L904.8,1765.5 L906.3,1765.5 L907.8,1765.5 L909.2,1765.5 L910.7,1765.5 L912.2,1765.5 L913.7,1765.5 L915.1,1765.5 L916.6,1765.5 L918.1,1765.4 L919.5,1765.4 L921.0,1765.4 L922.5,1765.4 L924.0,1765.4 L925.4,1765.4 L926.9,1765.4 L928.4,1765.4 L929.8,1765.4 L931.3,1765.4 L932.8,1765.3 L934.3,1765.3 L935.7,1765.3 L937.2,1765.3 L938.7,1765.2 L940.1,1765.2 L941.6,1765.2 L943.1,1765.1 L944.5,1765.1 L946.0,1765.0 L947.5,1765.0 L949.0,1764.9 L950.4,1764.9 L951.9,1764.8 L953.4,1764.7 L954.8,1764.6 L956.3,1764.5 L957.8,1764.4 L959.3,1764.2 L960.7,1764.1 L962.2,1763.9 L963.7,1763.8 L965.1,1763.6 L966.6,1763.3 L968.1,1763.1 L969.6,1762.8 L971.0,1762.5 L972.5,1762.2 L974.0,1761.8 L975.4,1761.4 L976.9,1761.0 L978.4,1760.5 L979.9,1759.9 L981.3,1759.4 L982.8,1758.7 L984.3,1758.0 L985.7,1757.2 L987.2,1756.4 L988.7,1755.4 L990.2,1754.4 L991.6,1753.3 L993.1,1752.1 L994.6,1750.8 L996.0,1749.3 L997.5,1747.8 L999.0,1746.1 L1000.4,1744.3 L1001.9,1742.3 L1003.4,1740.2 L1004.9,1737.9 L1006.3,1735.4 L1007.8,1732.8 L1009.3,1729.9 L1010.7,1726.9 L1012.2,1723.7 L1013.7,1720.2 L1015.2,1716.5 L1016.6,1712.6 L1018.1,1708.4 L1019.6,1704.0 L1021.0,1699.4 L1022.5,1694.5 L1024.0,1689.3 L1025.5,1683.9 L1026.9,1678.3 L1028.4,1672.4 L1029.9,1666.2 L1031.3,1659.9 L1032.8,1653.2 L1034.3,1646.4 L1035.8,1639.4 L1037.2,1632.1 L1038.7,1624.7 L1040.2,1617.2 L1041.6,1609.5 L1043.1,1601.7 L1044.6,1593.8 L1046.0,1585.9 L1047.5,1578.0 L1049.0,1570.1 L1050.5,1562.2 L1051.9,1554.4 L1053.4,1546.8 L1054.9,1539.3 L1056.3,1532.0 L1057.8,1525.0 L1059.3,1518.3 L1060.8,1511.8 L1062.2,1505.8 L1063.7,1500.1 L1065.2,1494.9 L1066.6,1490.1 L1068.1,1485.9 L1069.6,1482.1 L1071.1,1479.0 L1072.5,1476.3 L1074.0,1474.3 L1075.5,1472.9 L1076.9,1472.1 L1078.4,1471.9 L1079.9,1472.6 L1081.4,1474.2 L1082.8,1476.7 L1084.3,1480.1 L1085.8,1484.4 L1087.2,1489.4 L1088.7,1495.2 L1090.2,1501.6 L1091.6,1508.7 L1093.1,1516.2 L1094.6,1524.2 L1096.1,1532.6 L1097.5,1541.3 L1099.0,1550.1 L1100.5,1559.2 L1101.9,1568.2 L1103.4,1577.3 L1104.9,1586.4 L1106.4,1595.4 L1107.8,1604.2 L1109.3,1612.8 L1110.8,1621.2 L1112.2,1629.4 L1113.7,1637.3 L1115.2,1644.9 L1116.7,1652.2 L1118.1,1659.2 L1119.6,1665.8 L1121.1,1672.2 L1122.5,1678.2 L1124.0,1684.0 L1125.5,1689.4 L1127.0,1694.5 L1128.4,1699.3 L1129.9,1703.8 L1131.4,1708.1 L1132.8,1712.1 L1134.3,1715.8 L1135.8,1719.3 L1137.2,1722.6 L1138.7,1725.7 L1140.2,1728.5 L1141.7,1731.2 L1143.1,1733.7 L1144.6,1736.0 L1146.1,1738.1 L1147.5,1740.1 L1149.0,1742.0 L1150.5,1743.7 L1152.0,1745.3 L1153.4,1746.8 L1154.9,1748.2 L1156.4,1749.5 L1157.8,1750.6 L1159.3,1751.7 L1160.8,1752.8 L1162.3,1753.7 L1163.7,1754.6 L1165.2,1755.4 L1166.7,1756.1 L1168.1,1756.8 L1169.6,1757.5 L1171.1,1758.1 L1172.6,1758.6 L1174.0,1759.1 L1175.5,1759.6 L1177.0,1760.0 L1178.4,1760.4 L1179.9,1760.8 L1181.4,1761.2" stroke="#ea4b3c" stroke-width="3.0" fill="none" stroke-linejoin="round" stroke-linecap="round"/>
<path d="M841.6,1762.0 L843.1,1762.0 L844.5,1762.0 L846.0,1762.0 L847.5,1762.0 L848.9,1762.0 L850.4,1762.0 L851.9,1762.0 L853.3,1762.0 L854.8,1762.0 L856.3,1762.0 L857.8,1762.0 L859.2,1762.0 L860.7,1762.0 L862.2,1762.0 L863.6,1762.0 L865.1,1762.0 L866.6,1762.0 L868.1,1762.0 L869.5,1762.0 L871.0,1762.0 L872.5,1762.0 L873.9,1762.0 L875.4,1762.0 L876.9,1762.0 L878.4,1762.0 L879.8,1762.0 L881.3,1762.0 L882.8,1762.0 L884.2,1762.0 L885.7,1762.0 L887.2,1762.0 L888.7,1762.0 L890.1,1762.0 L891.6,1762.0 L893.1,1761.9 L894.5,1761.9 L896.0,1761.9 L897.5,1761.9 L898.9,1761.9 L900.4,1761.9 L901.9,1761.9 L903.4,1761.9 L904.8,1761.9 L906.3,1761.9 L907.8,1761.9 L909.2,1761.9 L910.7,1761.9 L912.2,1761.9 L913.7,1761.9 L915.1,1761.8 L916.6,1761.8 L918.1,1761.8 L919.5,1761.8 L921.0,1761.8 L922.5,1761.8 L924.0,1761.7 L925.4,1761.7 L926.9,1761.7 L928.4,1761.7 L929.8,1761.7 L931.3,1761.6 L932.8,1761.6 L934.3,1761.6 L935.7,1761.5 L937.2,1761.5 L938.7,1761.5 L940.1,1761.4 L941.6,1761.4 L943.1,1761.3 L944.5,1761.3 L946.0,1761.2 L947.5,1761.1 L949.0,1761.1 L950.4,1761.0 L951.9,1760.9 L953.4,1760.8 L954.8,1760.7 L956.3,1760.6 L957.8,1760.5 L959.3,1760.4 L960.7,1760.3 L962.2,1760.2 L963.7,1760.0 L965.1,1759.9 L966.6,1759.7 L968.1,1759.5 L969.6,1759.3 L971.0,1759.1 L972.5,1758.9 L974.0,1758.6 L975.4,1758.4 L976.9,1758.1 L978.4,1757.8 L979.9,1757.4 L981.3,1757.1 L982.8,1756.7 L984.3,1756.3 L985.7,1755.9 L987.2,1755.4 L988.7,1754.9 L990.2,1754.3 L991.6,1753.7 L993.1,1753.1 L994.6,1752.4 L996.0,1751.7 L997.5,1751.0 L999.0,1750.1 L1000.4,1749.2 L1001.9,1748.3 L1003.4,1747.3 L1004.9,1746.2 L1006.3,1745.0 L1007.8,1743.8 L1009.3,1742.5 L1010.7,1741.1 L1012.2,1739.6 L1013.7,1738.0 L1015.2,1736.3 L1016.6,1734.5 L1018.1,1732.6 L1019.6,1730.5 L1021.0,1728.3 L1022.5,1726.1 L1024.0,1723.6 L1025.5,1721.1 L1026.9,1718.3 L1028.4,1715.5 L1029.9,1712.5 L1031.3,1709.3 L1032.8,1705.9 L1034.3,1702.4 L1035.8,1698.7 L1037.2,1694.8 L1038.7,1690.8 L1040.2,1686.5 L1041.6,1682.1 L1043.1,1677.5 L1044.6,1672.7 L1046.0,1667.7 L1047.5,1662.5 L1049.0,1657.1 L1050.5,1651.6 L1051.9,1645.9 L1053.4,1640.0 L1054.9,1634.0 L1056.3,1627.8 L1057.8,1621.5 L1059.3,1615.0 L1060.8,1608.4 L1062.2,1601.8 L1063.7,1595.0 L1065.2,1588.2 L1066.6,1581.4 L1068.1,1574.5 L1069.6,1567.7 L1071.1,1560.9 L1072.5,1554.1 L1074.0,1547.4 L1075.5,1540.8 L1076.9,1534.4 L1078.4,1528.1 L1079.9,1522.0 L1081.4,1516.2 L1082.8,1510.6 L1084.3,1505.3 L1085.8,1500.2 L1087.2,1495.6 L1088.7,1491.3 L1090.2,1487.3 L1091.6,1483.8 L1093.1,1480.7 L1094.6,1478.0 L1096.1,1475.8 L1097.5,1474.1 L1099.0,1472.9 L1100.5,1472.1 L1101.9,1471.9 L1103.4,1472.3 L1104.9,1473.5 L1106.4,1475.4 L1107.8,1478.2 L1109.3,1481.6 L1110.8,1485.7 L1112.2,1490.5 L1113.7,1495.9 L1115.2,1501.8 L1116.7,1508.3 L1118.1,1515.1 L1119.6,1522.3 L1121.1,1529.9 L1122.5,1537.7 L1124.0,1545.7 L1125.5,1553.9 L1127.0,1562.1 L1128.4,1570.4 L1129.9,1578.6 L1131.4,1586.8 L1132.8,1595.0 L1134.3,1603.0 L1135.8,1610.8 L1137.2,1618.5 L1138.7,1625.9 L1140.2,1633.2 L1141.7,1640.2 L1143.1,1646.9 L1144.6,1653.4 L1146.1,1659.6 L1147.5,1665.6 L1149.0,1671.3 L1150.5,1676.7 L1152.0,1681.9 L1153.4,1686.8 L1154.9,1691.5 L1156.4,1695.9 L1157.8,1700.1 L1159.3,1704.0 L1160.8,1707.7 L1162.3,1711.2 L1163.7,1714.5 L1165.2,1717.6 L1166.7,1720.5 L1168.1,1723.3 L1169.6,1725.8 L1171.1,1728.2 L1172.6,1730.5 L1174.0,1732.6 L1175.5,1734.6 L1177.0,1736.4 L1178.4,1738.1 L1179.9,1739.8 L1181.4,1741.3 L1182.9,1742.7 L1184.3,1744.0 L1185.8,1745.2 L1187.3,1746.3 L1188.7,1747.4 L1190.2,1748.4 L1191.7,1749.3 L1193.1,1750.2 L1194.6,1751.0 L1196.1,1751.8 L1197.6,1752.5 L1199.0,1753.1 L1200.5,1753.7 L1202.0,1754.3 L1203.4,1754.8 L1204.9,1755.3 L1206.4,1755.8 L1207.9,1756.2 L1209.3,1756.6 L1210.8,1757.0 L1212.3,1757.3 L1213.7,1757.6 L1215.2,1757.9 L1216.7,1758.2 L1218.2,1758.5 L1219.6,1758.7 L1221.1,1758.9 L1222.6,1759.1 L1224.0,1759.3 L1225.5,1759.5 L1227.0,1759.7 L1228.5,1759.8 L1229.9,1760.0 L1231.4,1760.1 L1232.9,1760.3 L1234.3,1760.4 L1235.8,1760.5 L1237.3,1760.6 L1238.7,1760.7 L1240.2,1760.8 L1241.7,1760.9 L1243.2,1760.9 L1244.6,1761.0 L1246.1,1761.1 L1247.6,1761.1 L1249.0,1761.2 L1250.5,1761.2 L1252.0,1761.3 L1253.5,1761.3 L1254.9,1761.4 L1256.4,1761.4 L1257.9,1761.5 L1259.3,1761.5 L1260.8,1761.5 L1262.3,1761.6 L1263.8,1761.6 L1265.2,1761.6 L1266.7,1761.6 L1268.2,1761.7 L1269.6,1761.7 L1271.1,1761.7 L1272.6,1761.7 L1274.1,1761.8 L1275.5,1761.8 L1277.0,1761.8 L1278.5,1761.8 L1279.9,1761.8 L1281.4,1761.8 L1282.9,1761.8 L1284.4,1761.8 L1285.8,1761.9" stroke="#1c8c84" stroke-width="3.0" fill="none" stroke-linejoin="round" stroke-linecap="round"/>
<path d="M841.6,1766.0 L843.1,1766.0 L844.5,1766.0 L846.0,1766.0 L847.5,1766.0 L848.9,1766.0 L850.4,1766.0 L851.9,1766.0 L853.3,1766.0 L854.8,1766.0 L856.3,1766.0 L857.8,1766.0 L859.2,1766.0 L860.7,1766.0 L862.2,1766.0 L863.6,1766.0 L865.1,1766.0 L866.6,1766.0 L868.1,1766.0 L869.5,1766.0 L871.0,1766.0 L872.5,1766.0 L873.9,1766.0 L875.4,1766.0 L876.9,1766.0 L878.4,1765.9 L879.8,1765.9 L881.3,1765.9 L882.8,1765.9 L884.2,1765.9 L885.7,1765.9 L887.2,1765.9 L888.7,1765.9 L890.1,1765.9 L891.6,1765.9 L893.1,1765.9 L894.5,1765.9 L896.0,1765.9 L897.5,1765.9 L898.9,1765.9 L900.4,1765.9 L901.9,1765.9 L903.4,1765.9 L904.8,1765.9 L906.3,1765.8 L907.8,1765.8 L909.2,1765.8 L910.7,1765.8 L912.2,1765.8 L913.7,1765.8 L915.1,1765.8 L916.6,1765.8 L918.1,1765.8 L919.5,1765.7 L921.0,1765.7 L922.5,1765.7 L924.0,1765.7 L925.4,1765.7 L926.9,1765.7 L928.4,1765.6 L929.8,1765.6 L931.3,1765.6 L932.8,1765.6 L934.3,1765.5 L935.7,1765.5 L937.2,1765.5 L938.7,1765.5 L940.1,1765.4 L941.6,1765.4 L943.1,1765.4 L944.5,1765.3 L946.0,1765.3 L947.5,1765.2 L949.0,1765.2 L950.4,1765.1 L951.9,1765.1 L953.4,1765.0 L954.8,1765.0 L956.3,1764.9 L957.8,1764.8 L959.3,1764.8 L960.7,1764.7 L962.2,1764.6 L963.7,1764.5 L965.1,1764.5 L966.6,1764.4 L968.1,1764.3 L969.6,1764.2 L971.0,1764.1 L972.5,1763.9 L974.0,1763.8 L975.4,1763.7 L976.9,1763.5 L978.4,1763.4 L979.9,1763.2 L981.3,1763.1 L982.8,1762.9 L984.3,1762.7 L985.7,1762.5 L987.2,1762.3 L988.7,1762.1 L990.2,1761.8 L991.6,1761.6 L993.1,1761.3 L994.6,1761.0 L996.0,1760.7 L997.5,1760.4 L999.0,1760.1 L1000.4,1759.7 L1001.9,1759.3 L1003.4,1758.9 L1004.9,1758.5 L1006.3,1758.0 L1007.8,1757.6 L1009.3,1757.1 L1010.7,1756.5 L1012.2,1755.9 L1013.7,1755.3 L1015.2,1754.7 L1016.6,1754.0 L1018.1,1753.3 L1019.6,1752.5 L1021.0,1751.7 L1022.5,1750.9 L1024.0,1750.0 L1025.5,1749.0 L1026.9,1748.0 L1028.4,1746.9 L1029.9,1745.8 L1031.3,1744.6 L1032.8,1743.3 L1034.3,1741.9 L1035.8,1740.5 L1037.2,1739.0 L1038.7,1737.4 L1040.2,1735.8 L1041.6,1734.0 L1043.1,1732.1 L1044.6,1730.2 L1046.0,1728.1 L1047.5,1725.9 L1049.0,1723.6 L1050.5,1721.2 L1051.9,1718.7 L1053.4,1716.0 L1054.9,1713.2 L1056.3,1710.3 L1057.8,1707.2 L1059.3,1703.9 L1060.8,1700.6 L1062.2,1697.0 L1063.7,1693.3 L1065.2,1689.5 L1066.6,1685.4 L1068.1,1681.2 L1069.6,1676.9 L1071.1,1672.3 L1072.5,1667.6 L1074.0,1662.7 L1075.5,1657.7 L1076.9,1652.4 L1078.4,1647.0 L1079.9,1641.5 L1081.4,1635.7 L1082.8,1629.9 L1084.3,1623.9 L1085.8,1617.7 L1087.2,1611.4 L1088.7,1605.1 L1090.2,1598.6 L1091.6,1592.0 L1093.1,1585.4 L1094.6,1578.7 L1096.1,1572.0 L1097.5,1565.3 L1099.0,1558.6 L1100.5,1552.0 L1101.9,1545.5 L1103.4,1539.0 L1104.9,1532.7 L1106.4,1526.5 L1107.8,1520.5 L1109.3,1514.8 L1110.8,1509.2 L1112.2,1504.0 L1113.7,1499.1 L1115.2,1494.5 L1116.7,1490.2 L1118.1,1486.4 L1119.6,1483.0 L1121.1,1480.0 L1122.5,1477.4 L1124.0,1475.3 L1125.5,1473.7 L1127.0,1472.6 L1128.4,1472.0 L1129.9,1471.9 L1131.4,1472.6 L1132.8,1474.1 L1134.3,1476.5 L1135.8,1479.7 L1137.2,1483.6 L1138.7,1488.2 L1140.2,1493.5 L1141.7,1499.5 L1143.1,1506.0 L1144.6,1513.0 L1146.1,1520.4 L1147.5,1528.2 L1149.0,1536.2 L1150.5,1544.5 L1152.0,1553.0 L1153.4,1561.6 L1154.9,1570.2 L1156.4,1578.9 L1157.8,1587.5 L1159.3,1596.0 L1160.8,1604.3 L1162.3,1612.5 L1163.7,1620.5 L1165.2,1628.3 L1166.7,1635.9 L1168.1,1643.2 L1169.6,1650.2 L1171.1,1656.9 L1172.6,1663.4 L1174.0,1669.6 L1175.5,1675.4 L1177.0,1681.0 L1178.4,1686.4 L1179.9,1691.4 L1181.4,1696.2 L1182.9,1700.7 L1184.3,1704.9 L1185.8,1709.0 L1187.3,1712.7 L1188.7,1716.3 L1190.2,1719.6 L1191.7,1722.7 L1193.1,1725.7 L1194.6,1728.4 L1196.1,1731.0 L1197.6,1733.4 L1199.0,1735.6 L1200.5,1737.7 L1202.0,1739.7 L1203.4,1741.5 L1204.9,1743.2 L1206.4,1744.8 L1207.9,1746.3 L1209.3,1747.7 L1210.8,1748.9 L1212.3,1750.1 L1213.7,1751.3 L1215.2,1752.3 L1216.7,1753.3 L1218.2,1754.2 L1219.6,1755.0 L1221.1,1755.8 L1222.6,1756.5 L1224.0,1757.2 L1225.5,1757.8 L1227.0,1758.4 L1228.5,1758.9 L1229.9,1759.4 L1231.4,1759.9 L1232.9,1760.3 L1234.3,1760.7 L1235.8,1761.1 L1237.3,1761.4 L1238.7,1761.7 L1240.2,1762.0 L1241.7,1762.3 L1243.2,1762.6 L1244.6,1762.8 L1246.1,1763.0 L1247.6,1763.2 L1249.0,1763.4 L1250.5,1763.6 L1252.0,1763.8 L1253.5,1763.9 L1254.9,1764.1 L1256.4,1764.2 L1257.9,1764.3 L1259.3,1764.5 L1260.8,1764.6 L1262.3,1764.7 L1263.8,1764.8 L1265.2,1764.8 L1266.7,1764.9 L1268.2,1765.0 L1269.6,1765.1 L1271.1,1765.1 L1272.6,1765.2 L1274.1,1765.2 L1275.5,1765.3 L1277.0,1765.3 L1278.5,1765.4 L1279.9,1765.4 L1281.4,1765.5 L1282.9,1765.5 L1284.4,1765.5 L1285.8,1765.6" stroke="#5aa5dc" stroke-width="3.2" fill="none" stroke-linejoin="round" stroke-linecap="round"/>
<path d="M841.6,1766.2 L843.1,1766.2 L844.5,1766.2 L846.0,1766.2 L847.5,1766.2 L848.9,1766.2 L850.4,1766.2 L851.9,1766.2 L853.3,1766.2 L854.8,1766.2 L856.3,1766.1 L857.8,1766.1 L859.2,1766.1 L860.7,1766.1 L862.2,1766.1 L863.6,1766.1 L865.1,1766.1 L866.6,1766.0 L868.1,1766.0 L869.5,1766.0 L871.0,1766.0 L872.5,1766.0 L873.9,1765.9 L875.4,1765.9 L876.9,1765.9 L878.4,1765.9 L879.8,1765.9 L881.3,1765.8 L882.8,1765.8 L884.2,1765.8 L885.7,1765.8 L887.2,1765.7 L888.7,1765.7 L890.1,1765.7 L891.6,1765.6 L893.1,1765.6 L894.5,1765.6 L896.0,1765.5 L897.5,1765.5 L898.9,1765.5 L900.4,1765.4 L901.9,1765.4 L903.4,1765.4 L904.8,1765.3 L906.3,1765.3 L907.8,1765.2 L909.2,1765.2 L910.7,1765.1 L912.2,1765.1 L913.7,1765.0 L915.1,1765.0 L916.6,1764.9 L918.1,1764.9 L919.5,1764.8 L921.0,1764.7 L922.5,1764.7 L924.0,1764.6 L925.4,1764.5 L926.9,1764.5 L928.4,1764.4 L929.8,1764.3 L931.3,1764.2 L932.8,1764.2 L934.3,1764.1 L935.7,1764.0 L937.2,1763.9 L938.7,1763.8 L940.1,1763.7 L941.6,1763.6 L943.1,1763.5 L944.5,1763.4 L946.0,1763.2 L947.5,1763.1 L949.0,1763.0 L950.4,1762.9 L951.9,1762.7 L953.4,1762.6 L954.8,1762.4 L956.3,1762.3 L957.8,1762.1 L959.3,1762.0 L960.7,1761.8 L962.2,1761.6 L963.7,1761.4 L965.1,1761.2 L966.6,1761.1 L968.1,1760.8 L969.6,1760.6 L971.0,1760.4 L972.5,1760.2 L974.0,1759.9 L975.4,1759.7 L976.9,1759.4 L978.4,1759.2 L979.9,1758.9 L981.3,1758.6 L982.8,1758.3 L984.3,1758.0 L985.7,1757.7 L987.2,1757.4 L988.7,1757.0 L990.2,1756.7 L991.6,1756.3 L993.1,1755.9 L994.6,1755.5 L996.0,1755.1 L997.5,1754.6 L999.0,1754.2 L1000.4,1753.7 L1001.9,1753.2 L1003.4,1752.7 L1004.9,1752.2 L1006.3,1751.7 L1007.8,1751.1 L1009.3,1750.5 L1010.7,1749.9 L1012.2,1749.3 L1013.7,1748.6 L1015.2,1747.9 L1016.6,1747.2 L1018.1,1746.5 L1019.6,1745.7 L1021.0,1745.0 L1022.5,1744.1 L1024.0,1743.3 L1025.5,1742.4 L1026.9,1741.5 L1028.4,1740.5 L1029.9,1739.5 L1031.3,1738.5 L1032.8,1737.4 L1034.3,1736.3 L1035.8,1735.2 L1037.2,1734.0 L1038.7,1732.7 L1040.2,1731.4 L1041.6,1730.1 L1043.1,1728.7 L1044.6,1727.3 L1046.0,1725.8 L1047.5,1724.2 L1049.0,1722.6 L1050.5,1721.0 L1051.9,1719.2 L1053.4,1717.5 L1054.9,1715.6 L1056.3,1713.7 L1057.8,1711.7 L1059.3,1709.6 L1060.8,1707.5 L1062.2,1705.3 L1063.7,1703.0 L1065.2,1700.6 L1066.6,1698.2 L1068.1,1695.6 L1069.6,1693.0 L1071.1,1690.3 L1072.5,1687.5 L1074.0,1684.6 L1075.5,1681.7 L1076.9,1678.6 L1078.4,1675.4 L1079.9,1672.1 L1081.4,1668.8 L1082.8,1665.3 L1084.3,1661.7 L1085.8,1658.1 L1087.2,1654.3 L1088.7,1650.4 L1090.2,1646.5 L1091.6,1642.4 L1093.1,1638.2 L1094.6,1634.0 L1096.1,1629.6 L1097.5,1625.1 L1099.0,1620.6 L1100.5,1615.9 L1101.9,1611.2 L1103.4,1606.4 L1104.9,1601.6 L1106.4,1596.6 L1107.8,1591.6 L1109.3,1586.6 L1110.8,1581.5 L1112.2,1576.3 L1113.7,1571.2 L1115.2,1566.0 L1116.7,1560.8 L1118.1,1555.7 L1119.6,1550.5 L1121.1,1545.4 L1122.5,1540.3 L1124.0,1535.3 L1125.5,1530.4 L1127.0,1525.5 L1128.4,1520.8 L1129.9,1516.2 L1131.4,1511.7 L1132.8,1507.4 L1134.3,1503.3 L1135.8,1499.4 L1137.2,1495.6 L1138.7,1492.1 L1140.2,1488.8 L1141.7,1485.8 L1143.1,1483.1 L1144.6,1480.6 L1146.1,1478.4 L1147.5,1476.5 L1149.0,1475.0 L1150.5,1473.7 L1152.0,1472.8 L1153.4,1472.2 L1154.9,1471.9 L1156.4,1472.1 L1157.8,1473.0 L1159.3,1474.7 L1160.8,1477.1 L1162.3,1480.3 L1163.7,1484.1 L1165.2,1488.6 L1166.7,1493.7 L1168.1,1499.3 L1169.6,1505.5 L1171.1,1512.1 L1172.6,1519.1 L1174.0,1526.5 L1175.5,1534.1 L1177.0,1541.9 L1178.4,1550.0 L1179.9,1558.1 L1181.4,1566.3 L1182.9,1574.5 L1184.3,1582.7 L1185.8,1590.9 L1187.3,1598.9 L1188.7,1606.9 L1190.2,1614.6 L1191.7,1622.2 L1193.1,1629.6 L1194.6,1636.7 L1196.1,1643.7 L1197.6,1650.4 L1199.0,1656.8 L1200.5,1663.0 L1202.0,1668.9 L1203.4,1674.5 L1204.9,1679.9 L1206.4,1685.1 L1207.9,1690.0 L1209.3,1694.6 L1210.8,1699.0 L1212.3,1703.2 L1213.7,1707.1 L1215.2,1710.9 L1216.7,1714.4 L1218.2,1717.7 L1219.6,1720.8 L1221.1,1723.7 L1222.6,1726.5 L1224.0,1729.1 L1225.5,1731.5 L1227.0,1733.8 L1228.5,1736.0 L1229.9,1738.0 L1231.4,1739.8 L1232.9,1741.6 L1234.3,1743.3 L1235.8,1744.8 L1237.3,1746.2 L1238.7,1747.6 L1240.2,1748.8 L1241.7,1750.0 L1243.2,1751.1 L1244.6,1752.2 L1246.1,1753.1 L1247.6,1754.0 L1249.0,1754.8 L1250.5,1755.6 L1252.0,1756.4 L1253.5,1757.0 L1254.9,1757.7 L1256.4,1758.3 L1257.9,1758.8 L1259.3,1759.3 L1260.8,1759.8 L1262.3,1760.3 L1263.8,1760.7 L1265.2,1761.1 L1266.7,1761.4 L1268.2,1761.8 L1269.6,1762.1 L1271.1,1762.4 L1272.6,1762.7 L1274.1,1762.9 L1275.5,1763.2 L1277.0,1763.4 L1278.5,1763.6 L1279.9,1763.8 L1281.4,1764.0 L1282.9,1764.1 L1284.4,1764.3 L1285.8,1764.4" stroke="#f0854c" stroke-width="3.4" fill="none" stroke-linejoin="round" stroke-linecap="round"/>
<path d="M841.6,1765.0 L843.1,1765.0 L844.5,1765.0 L846.0,1765.0 L847.5,1765.0 L848.9,1765.0 L850.4,1765.0 L851.9,1765.0 L853.3,1765.0 L854.8,1765.0 L856.3,1765.0 L857.8,1765.0 L859.2,1765.0 L860.7,1765.0 L862.2,1765.0 L863.6,1765.0 L865.1,1765.0 L866.6,1765.0 L868.1,1765.0 L869.5,1765.0 L871.0,1764.9 L872.5,1764.9 L873.9,1764.9 L875.4,1764.9 L876.9,1764.9 L878.4,1764.9 L879.8,1764.9 L881.3,1764.9 L882.8,1764.9 L884.2,1764.9 L885.7,1764.9 L887.2,1764.9 L888.7,1764.9 L890.1,1764.9 L891.6,1764.9 L893.1,1764.9 L894.5,1764.9 L896.0,1764.9 L897.5,1764.9 L898.9,1764.9 L900.4,1764.9 L901.9,1764.9 L903.4,1764.9 L904.8,1764.8 L906.3,1764.8 L907.8,1764.8 L909.2,1764.8 L910.7,1764.8 L912.2,1764.8 L913.7,1764.8 L915.1,1764.8 L916.6,1764.8 L918.1,1764.8 L919.5,1764.8 L921.0,1764.7 L922.5,1764.7 L924.0,1764.7 L925.4,1764.7 L926.9,1764.7 L928.4,1764.7 L929.8,1764.7 L931.3,1764.6 L932.8,1764.6 L934.3,1764.6 L935.7,1764.6 L937.2,1764.6 L938.7,1764.5 L940.1,1764.5 L941.6,1764.5 L943.1,1764.5 L944.5,1764.4 L946.0,1764.4 L947.5,1764.4 L949.0,1764.3 L950.4,1764.3 L951.9,1764.3 L953.4,1764.2 L954.8,1764.2 L956.3,1764.2 L957.8,1764.1 L959.3,1764.1 L960.7,1764.0 L962.2,1764.0 L963.7,1763.9 L965.1,1763.9 L966.6,1763.8 L968.1,1763.8 L969.6,1763.7 L971.0,1763.6 L972.5,1763.6 L974.0,1763.5 L975.4,1763.4 L976.9,1763.4 L978.4,1763.3 L979.9,1763.2 L981.3,1763.1 L982.8,1763.0 L984.3,1762.9 L985.7,1762.8 L987.2,1762.7 L988.7,1762.6 L990.2,1762.4 L991.6,1762.3 L993.1,1762.2 L994.6,1762.0 L996.0,1761.9 L997.5,1761.7 L999.0,1761.6 L1000.4,1761.4 L1001.9,1761.2 L1003.4,1761.0 L1004.9,1760.8 L1006.3,1760.6 L1007.8,1760.4 L1009.3,1760.1 L1010.7,1759.9 L1012.2,1759.6 L1013.7,1759.4 L1015.2,1759.1 L1016.6,1758.8 L1018.1,1758.5 L1019.6,1758.1 L1021.0,1757.8 L1022.5,1757.4 L1024.0,1757.0 L1025.5,1756.6 L1026.9,1756.2 L1028.4,1755.7 L1029.9,1755.2 L1031.3,1754.7 L1032.8,1754.2 L1034.3,1753.7 L1035.8,1753.1 L1037.2,1752.5 L1038.7,1751.8 L1040.2,1751.2 L1041.6,1750.4 L1043.1,1749.7 L1044.6,1748.9 L1046.0,1748.1 L1047.5,1747.2 L1049.0,1746.3 L1050.5,1745.3 L1051.9,1744.3 L1053.4,1743.2 L1054.9,1742.1 L1056.3,1740.9 L1057.8,1739.7 L1059.3,1738.4 L1060.8,1737.0 L1062.2,1735.6 L1063.7,1734.1 L1065.2,1732.5 L1066.6,1730.8 L1068.1,1729.0 L1069.6,1727.2 L1071.1,1725.3 L1072.5,1723.2 L1074.0,1721.1 L1075.5,1718.9 L1076.9,1716.5 L1078.4,1714.1 L1079.9,1711.5 L1081.4,1708.8 L1082.8,1706.0 L1084.3,1703.1 L1085.8,1700.0 L1087.2,1696.8 L1088.7,1693.4 L1090.2,1689.9 L1091.6,1686.2 L1093.1,1682.4 L1094.6,1678.4 L1096.1,1674.3 L1097.5,1670.0 L1099.0,1665.5 L1100.5,1660.9 L1101.9,1656.1 L1103.4,1651.1 L1104.9,1646.0 L1106.4,1640.7 L1107.8,1635.2 L1109.3,1629.6 L1110.8,1623.8 L1112.2,1617.9 L1113.7,1611.8 L1115.2,1605.6 L1116.7,1599.3 L1118.1,1592.9 L1119.6,1586.4 L1121.1,1579.8 L1122.5,1573.2 L1124.0,1566.6 L1125.5,1559.9 L1127.0,1553.3 L1128.4,1546.7 L1129.9,1540.2 L1131.4,1533.8 L1132.8,1527.6 L1134.3,1521.5 L1135.8,1515.6 L1137.2,1510.0 L1138.7,1504.6 L1140.2,1499.5 L1141.7,1494.8 L1143.1,1490.5 L1144.6,1486.5 L1146.1,1483.0 L1147.5,1479.9 L1149.0,1477.3 L1150.5,1475.2 L1152.0,1473.6 L1153.4,1472.5 L1154.9,1472.0 L1156.4,1472.0 L1157.8,1472.7 L1159.3,1474.3 L1160.8,1476.5 L1162.3,1479.4 L1163.7,1483.1 L1165.2,1487.3 L1166.7,1492.2 L1168.1,1497.6 L1169.6,1503.6 L1171.1,1510.0 L1172.6,1516.8 L1174.0,1523.9 L1175.5,1531.4 L1177.0,1539.1 L1178.4,1546.9 L1179.9,1554.9 L1181.4,1563.0 L1182.9,1571.1 L1184.3,1579.3 L1185.8,1587.3 L1187.3,1595.3 L1188.7,1603.2 L1190.2,1610.9 L1191.7,1618.5 L1193.1,1625.8 L1194.6,1633.0 L1196.1,1639.9 L1197.6,1646.6 L1199.0,1653.1 L1200.5,1659.3 L1202.0,1665.2 L1203.4,1670.9 L1204.9,1676.4 L1206.4,1681.6 L1207.9,1686.5 L1209.3,1691.2 L1210.8,1695.7 L1212.3,1699.9 L1213.7,1703.9 L1215.2,1707.7 L1216.7,1711.3 L1218.2,1714.7 L1219.6,1717.8 L1221.1,1720.8 L1222.6,1723.7 L1224.0,1726.3 L1225.5,1728.8 L1227.0,1731.1 L1228.5,1733.3 L1229.9,1735.4 L1231.4,1737.3 L1232.9,1739.1 L1234.3,1740.8 L1235.8,1742.4 L1237.3,1743.9 L1238.7,1745.3 L1240.2,1746.6 L1241.7,1747.8 L1243.2,1749.0 L1244.6,1750.0 L1246.1,1751.0 L1247.6,1751.9 L1249.0,1752.8 L1250.5,1753.6 L1252.0,1754.4 L1253.5,1755.1 L1254.9,1755.7 L1256.4,1756.4 L1257.9,1756.9 L1259.3,1757.5 L1260.8,1758.0 L1262.3,1758.4 L1263.8,1758.9 L1265.2,1759.3 L1266.7,1759.7 L1268.2,1760.0 L1269.6,1760.4 L1271.1,1760.7 L1272.6,1760.9 L1274.1,1761.2 L1275.5,1761.5 L1277.0,1761.7 L1278.5,1761.9 L1279.9,1762.1 L1281.4,1762.3 L1282.9,1762.5 L1284.4,1762.7 L1285.8,1762.8" stroke="#8d2a20" stroke-width="4.2" fill="none" stroke-linejoin="round" stroke-linecap="round"/>
<path d="M841.6,1766.0 L843.1,1766.0 L844.5,1766.0 L846.0,1766.0 L847.5,1766.0 L848.9,1766.0 L850.4,1766.0 L851.9,1766.0 L853.3,1766.0 L854.8,1766.0 L856.3,1766.0 L857.8,1766.0 L859.2,1766.0 L860.7,1766.0 L862.2,1766.0 L863.6,1766.0 L865.1,1766.0 L866.6,1766.0 L868.1,1766.0 L869.5,1766.0 L871.0,1766.0 L872.5,1766.0 L873.9,1766.0 L875.4,1766.0 L876.9,1766.0 L878.4,1766.0 L879.8,1766.0 L881.3,1766.0 L882.8,1766.0 L884.2,1765.9 L885.7,1765.9 L887.2,1765.9 L888.7,1765.9 L890.1,1765.9 L891.6,1765.9 L893.1,1765.9 L894.5,1765.9 L896.0,1765.9 L897.5,1765.9 L898.9,1765.9 L900.4,1765.9 L901.9,1765.9 L903.4,1765.9 L904.8,1765.9 L906.3,1765.9 L907.8,1765.9 L909.2,1765.9 L910.7,1765.9 L912.2,1765.9 L913.7,1765.9 L915.1,1765.9 L916.6,1765.9 L918.1,1765.9 L919.5,1765.9 L921.0,1765.8 L922.5,1765.8 L924.0,1765.8 L925.4,1765.8 L926.9,1765.8 L928.4,1765.8 L929.8,1765.8 L931.3,1765.8 L932.8,1765.8 L934.3,1765.8 L935.7,1765.8 L937.2,1765.7 L938.7,1765.7 L940.1,1765.7 L941.6,1765.7 L943.1,1765.7 L944.5,1765.7 L946.0,1765.7 L947.5,1765.7 L949.0,1765.6 L950.4,1765.6 L951.9,1765.6 L953.4,1765.6 L954.8,1765.6 L956.3,1765.5 L957.8,1765.5 L959.3,1765.5 L960.7,1765.5 L962.2,1765.5 L963.7,1765.4 L965.1,1765.4 L966.6,1765.4 L968.1,1765.3 L969.6,1765.3 L971.0,1765.3 L972.5,1765.2 L974.0,1765.2 L975.4,1765.2 L976.9,1765.1 L978.4,1765.1 L979.9,1765.1 L981.3,1765.0 L982.8,1765.0 L984.3,1764.9 L985.7,1764.9 L987.2,1764.8 L988.7,1764.8 L990.2,1764.7 L991.6,1764.6 L993.1,1764.6 L994.6,1764.5 L996.0,1764.4 L997.5,1764.4 L999.0,1764.3 L1000.4,1764.2 L1001.9,1764.1 L1003.4,1764.0 L1004.9,1763.9 L1006.3,1763.8 L1007.8,1763.7 L1009.3,1763.6 L1010.7,1763.5 L1012.2,1763.4 L1013.7,1763.3 L1015.2,1763.1 L1016.6,1763.0 L1018.1,1762.9 L1019.6,1762.7 L1021.0,1762.6 L1022.5,1762.4 L1024.0,1762.2 L1025.5,1762.0 L1026.9,1761.9 L1028.4,1761.7 L1029.9,1761.5 L1031.3,1761.2 L1032.8,1761.0 L1034.3,1760.8 L1035.8,1760.5 L1037.2,1760.3 L1038.7,1760.0 L1040.2,1759.7 L1041.6,1759.4 L1043.1,1759.1 L1044.6,1758.7 L1046.0,1758.4 L1047.5,1758.0 L1049.0,1757.6 L1050.5,1757.2 L1051.9,1756.8 L1053.4,1756.4 L1054.9,1755.9 L1056.3,1755.4 L1057.8,1754.9 L1059.3,1754.4 L1060.8,1753.8 L1062.2,1753.2 L1063.7,1752.6 L1065.2,1751.9 L1066.6,1751.3 L1068.1,1750.5 L1069.6,1749.8 L1071.1,1749.0 L1072.5,1748.2 L1074.0,1747.3 L1075.5,1746.4 L1076.9,1745.5 L1078.4,1744.4 L1079.9,1743.4 L1081.4,1742.3 L1082.8,1741.1 L1084.3,1739.9 L1085.8,1738.7 L1087.2,1737.3 L1088.7,1735.9 L1090.2,1734.5 L1091.6,1732.9 L1093.1,1731.3 L1094.6,1729.6 L1096.1,1727.9 L1097.5,1726.0 L1099.0,1724.1 L1100.5,1722.0 L1101.9,1719.9 L1103.4,1717.7 L1104.9,1715.3 L1106.4,1712.9 L1107.8,1710.3 L1109.3,1707.7 L1110.8,1704.9 L1112.2,1701.9 L1113.7,1698.9 L1115.2,1695.7 L1116.7,1692.4 L1118.1,1688.9 L1119.6,1685.3 L1121.1,1681.6 L1122.5,1677.7 L1124.0,1673.6 L1125.5,1669.4 L1127.0,1665.0 L1128.4,1660.5 L1129.9,1655.8 L1131.4,1650.9 L1132.8,1645.9 L1134.3,1640.7 L1135.8,1635.3 L1137.2,1629.8 L1138.7,1624.2 L1140.2,1618.4 L1141.7,1612.4 L1143.1,1606.4 L1144.6,1600.2 L1146.1,1593.9 L1147.5,1587.5 L1149.0,1581.0 L1150.5,1574.5 L1152.0,1567.9 L1153.4,1561.4 L1154.9,1554.8 L1156.4,1548.3 L1157.8,1541.8 L1159.3,1535.5 L1160.8,1529.2 L1162.3,1523.1 L1163.7,1517.2 L1165.2,1511.5 L1166.7,1506.1 L1168.1,1501.0 L1169.6,1496.1 L1171.1,1491.7 L1172.6,1487.6 L1174.0,1484.0 L1175.5,1480.7 L1177.0,1478.0 L1178.4,1475.7 L1179.9,1474.0 L1181.4,1472.8 L1182.9,1472.1 L1184.3,1471.9 L1185.8,1472.5 L1187.3,1473.9 L1188.7,1476.0 L1190.2,1478.9 L1191.7,1482.6 L1193.1,1487.0 L1194.6,1492.0 L1196.1,1497.6 L1197.6,1503.8 L1199.0,1510.4 L1200.5,1517.5 L1202.0,1524.9 L1203.4,1532.7 L1204.9,1540.7 L1206.4,1548.9 L1207.9,1557.2 L1209.3,1565.6 L1210.8,1574.0 L1212.3,1582.4 L1213.7,1590.8 L1215.2,1599.0 L1216.7,1607.1 L1218.2,1615.1 L1219.6,1622.8 L1221.1,1630.3 L1222.6,1637.6 L1224.0,1644.7 L1225.5,1651.5 L1227.0,1658.0 L1228.5,1664.2 L1229.9,1670.2 L1231.4,1675.9 L1232.9,1681.4 L1234.3,1686.5 L1235.8,1691.4 L1237.3,1696.1 L1238.7,1700.5 L1240.2,1704.7 L1241.7,1708.6 L1243.2,1712.3 L1244.6,1715.8 L1246.1,1719.1 L1247.6,1722.1 L1249.0,1725.0 L1250.5,1727.8 L1252.0,1730.3 L1253.5,1732.7 L1254.9,1734.9 L1256.4,1737.0 L1257.9,1739.0 L1259.3,1740.8 L1260.8,1742.5 L1262.3,1744.1 L1263.8,1745.6 L1265.2,1747.0 L1266.7,1748.3 L1268.2,1749.5 L1269.6,1750.6 L1271.1,1751.7 L1272.6,1752.7 L1274.1,1753.6 L1275.5,1754.4 L1277.0,1755.2 L1278.5,1756.0 L1279.9,1756.7 L1281.4,1757.3 L1282.9,1757.9 L1284.4,1758.5 L1285.8,1759.0" stroke="#dba832" stroke-width="3.2" fill="none" stroke-linejoin="round" stroke-linecap="round"/>
</g>
<rect x="843.6" y="1442.4" width="440.19999999999993" height="328.79999999999995" fill="none" stroke="#4d5a55" stroke-width="3.2" rx="2"/>
<line x1="916.6" y1="1771.2" x2="916.6" y2="1779.2" stroke="#4d5a55" stroke-width="2.6" />
<text transform="translate(887.30,1810.00) scale(1.1094,1)" x="-1.63" y="0" font-family='"Liberation Sans", sans-serif' font-size="32.69" fill="#1b1b1b" stroke="#1b1b1b" stroke-width="0.7" stroke-linejoin="round">600</text>
<line x1="1063.7" y1="1771.2" x2="1063.7" y2="1779.2" stroke="#4d5a55" stroke-width="2.6" />
<text transform="translate(1034.40,1810.00) scale(1.1094,1)" x="-1.63" y="0" font-family='"Liberation Sans", sans-serif' font-size="32.69" fill="#1b1b1b" stroke="#1b1b1b" stroke-width="0.7" stroke-linejoin="round">700</text>
<line x1="1210.8" y1="1771.2" x2="1210.8" y2="1779.2" stroke="#4d5a55" stroke-width="2.6" />
<text transform="translate(1181.50,1810.00) scale(1.1042,1)" x="-1.39" y="0" font-family='"Liberation Sans", sans-serif' font-size="32.69" fill="#1b1b1b" stroke="#1b1b1b" stroke-width="0.7" stroke-linejoin="round">800</text>
<text transform="translate(869.20,1867.30) scale(1.0227,1)" x="-0.21" y="0" font-family='"Liberation Sans", sans-serif' font-size="41.60" fill="#1b1b1b" stroke="#1b1b1b" stroke-width="0.7" stroke-linejoin="round">Wavelength (nm)</text>
<text transform="translate(793.90,1781.40) rotate(-90.00) scale(0.9956,1)" x="-3.08" y="0" font-family='"Liberation Sans", sans-serif' font-size="37.38" fill="#1b1b1b" stroke="#1b1b1b" stroke-width="0.7" stroke-linejoin="round">EL Intensity (a.u.)</text>
<line x1="849.6" y1="1470.8" x2="885.0" y2="1470.8" stroke="#3a3a3a" stroke-width="3.2" />
<text transform="translate(887.00,1477.00) scale(0.9865,1)" x="-0.43" y="0" font-family='"Liberation Sans", sans-serif' font-size="34.41" fill="#1b1b1b" stroke="#1b1b1b" stroke-width="0.6" stroke-linejoin="round">x=6</text>
<line x1="849.6" y1="1513.0" x2="885.0" y2="1513.0" stroke="#ea4b3c" stroke-width="3.2" />
<text transform="translate(887.00,1519.20) scale(0.9912,1)" x="-0.43" y="0" font-family='"Liberation Sans", sans-serif' font-size="34.41" fill="#1b1b1b" stroke="#1b1b1b" stroke-width="0.6" stroke-linejoin="round">x=7</text>
<line x1="849.6" y1="1554.7" x2="885.0" y2="1554.7" stroke="#1c8c84" stroke-width="3.2" />
<text transform="translate(887.00,1560.90) scale(0.9908,1)" x="-0.43" y="0" font-family='"Liberation Sans", sans-serif' font-size="34.41" fill="#1b1b1b" stroke="#1b1b1b" stroke-width="0.6" stroke-linejoin="round">x=7.5</text>
<line x1="849.6" y1="1597.5" x2="885.0" y2="1597.5" stroke="#5aa5dc" stroke-width="3.2" />
<text transform="translate(887.00,1603.70) scale(0.9865,1)" x="-0.43" y="0" font-family='"Liberation Sans", sans-serif' font-size="34.41" fill="#1b1b1b" stroke="#1b1b1b" stroke-width="0.6" stroke-linejoin="round">x=8</text>
<line x1="849.6" y1="1639.1" x2="885.0" y2="1639.1" stroke="#f0854c" stroke-width="3.2" />
<text transform="translate(887.00,1645.30) scale(0.9908,1)" x="-0.43" y="0" font-family='"Liberation Sans", sans-serif' font-size="34.41" fill="#1b1b1b" stroke="#1b1b1b" stroke-width="0.6" stroke-linejoin="round">x=8.5</text>
<line x1="849.6" y1="1680.4" x2="885.0" y2="1680.4" stroke="#8d2a20" stroke-width="3.2" />
<text transform="translate(887.00,1686.60) scale(0.9880,1)" x="-0.43" y="0" font-family='"Liberation Sans", sans-serif' font-size="34.41" fill="#1b1b1b" stroke="#1b1b1b" stroke-width="0.6" stroke-linejoin="round">x=9</text>
<line x1="849.6" y1="1722.6" x2="885.0" y2="1722.6" stroke="#dba832" stroke-width="3.2" />
<text transform="translate(887.00,1728.80) scale(0.9908,1)" x="-0.43" y="0" font-family='"Liberation Sans", sans-serif' font-size="34.41" fill="#1b1b1b" stroke="#1b1b1b" stroke-width="0.6" stroke-linejoin="round">x=9.5</text>
<text transform="translate(1209.90,1495.00) scale(1.0581,1)" x="-1.07" y="0" font-family='"Liberation Sans", sans-serif' font-size="39.00" fill="#00a651" font-style="italic" stroke="#00a651" stroke-width="0.7" stroke-linejoin="round">S-</text>
<rect x="1481.8" y="1441.5" width="454.20000000000005" height="328.0" fill="none" stroke="#59645f" stroke-width="3.4" rx="2"/>
<path d="M1483.3,1716.4 h6 M1483.3,1685.8 h3.5 M1483.3,1667.9 h3.5 M1483.3,1655.2 h3.5 M1486.1,1768.0 v-3.5 M1483.3,1645.4 h3.5 M1501.6,1768.0 v-3.5 M1483.3,1637.3 h3.5 M1514.7,1768.0 v-3.5 M1483.3,1630.5 h3.5 M1526.0,1768.0 v-3.5 M1483.3,1624.6 h3.5 M1536.0,1768.0 v-3.5 M1483.3,1619.4 h3.5 M1483.3,1614.8 h6 M1603.9,1768.0 v-3.5 M1483.3,1584.2 h3.5 M1638.3,1768.0 v-3.5 M1483.3,1566.3 h3.5 M1662.8,1768.0 v-3.5 M1483.3,1553.6 h3.5 M1681.7,1768.0 v-3.5 M1483.3,1543.8 h3.5 M1697.2,1768.0 v-3.5 M1483.3,1535.7 h3.5 M1710.3,1768.0 v-3.5 M1483.3,1528.9 h3.5 M1721.6,1768.0 v-3.5 M1483.3,1523.0 h3.5 M1731.6,1768.0 v-3.5 M1483.3,1517.8 h3.5 M1483.3,1513.2 h6 M1799.5,1768.0 v-3.5 M1483.3,1482.6 h3.5 M1833.9,1768.0 v-3.5 M1483.3,1464.7 h3.5 M1858.4,1768.0 v-3.5 M1483.3,1452.0 h3.5 M1877.3,1768.0 v-3.5 M1892.8,1768.0 v-3.5 M1905.9,1768.0 v-3.5 M1917.2,1768.0 v-3.5 M1927.2,1768.0 v-3.5 M1545.0,1768.0 v-6 M1740.6,1768.0 v-6" stroke="#2d2d2d" stroke-width="1.6" fill="none" />
<path d="M1552.7,1537.9 L1590.0,1537.5 L1629.5,1536.7 L1663.9,1534.0 L1698.3,1529.4 L1728.8,1531.6 L1757.8,1535.2 L1784.9,1540.8 L1810.0,1551.0 L1828.3,1561.5 L1846.8,1574.1" stroke="#6fb0e2" stroke-width="2.0" fill="none" stroke-linejoin="round"/>
<g fill="#3f8fd2"><circle cx="1552.7" cy="1537.9" r="2.9"/><circle cx="1590" cy="1537.5" r="2.9"/><circle cx="1629.5" cy="1536.7" r="2.9"/><circle cx="1663.9" cy="1534" r="2.9"/><circle cx="1698.3" cy="1529.4" r="2.9"/><circle cx="1728.8" cy="1531.6" r="2.9"/><circle cx="1757.8" cy="1535.2" r="2.9"/><circle cx="1784.9" cy="1540.8" r="2.9"/><circle cx="1810" cy="1551" r="2.9"/><circle cx="1828.3" cy="1561.5" r="2.9"/><circle cx="1846.8" cy="1574.1" r="2.9"/></g>
<path d="M1568.0,1544.8 L1590.7,1545.7 L1613.3,1551.7 L1635.0,1553.0 L1654.9,1555.7 L1674.8,1557.1 L1692.9,1560.2 L1710.0,1565.6 L1726.7,1566.5 L1742.0,1569.2 L1756.9,1575.6 L1769.5,1583.7 L1784.0,1590.0" stroke="#6cc3c0" stroke-width="2.0" fill="none" stroke-linejoin="round"/>
<g fill="#0fa15a"><circle cx="1568" cy="1544.8" r="2.9"/><circle cx="1590.7" cy="1545.7" r="2.9"/><circle cx="1613.3" cy="1551.7" r="2.9"/><circle cx="1635" cy="1553" r="2.9"/><circle cx="1654.9" cy="1555.7" r="2.9"/><circle cx="1674.8" cy="1557.1" r="2.9"/><circle cx="1692.9" cy="1560.2" r="2.9"/><circle cx="1710" cy="1565.6" r="2.9"/><circle cx="1726.7" cy="1566.5" r="2.9"/><circle cx="1742" cy="1569.2" r="2.9"/><circle cx="1756.9" cy="1575.6" r="2.9"/><circle cx="1769.5" cy="1583.7" r="2.9"/><circle cx="1784" cy="1590" r="2.9"/></g>
<path d="M1564.4,1566.5 L1599.7,1571.0 L1630.4,1570.5 L1659.4,1574.7 L1686.5,1577.0 L1712.2,1580.1 L1734.3,1588.2 L1757.4,1590.9 L1777.7,1595.1 L1796.7,1600.4 L1813.5,1610.3 L1829.8,1613.6 L1844.6,1621.2 L1859.1,1627.7 L1872.7,1636.7 L1886.2,1645.2 L1899.8,1653.7 L1913.4,1661.9" stroke="#f4584e" stroke-width="2.0" fill="none" stroke-linejoin="round"/>
<g fill="#ee1c22"><circle cx="1564.4" cy="1566.5" r="2.9"/><circle cx="1599.7" cy="1571" r="2.9"/><circle cx="1630.4" cy="1570.5" r="2.9"/><circle cx="1659.4" cy="1574.7" r="2.9"/><circle cx="1686.5" cy="1577" r="2.9"/><circle cx="1712.2" cy="1580.1" r="2.9"/><circle cx="1734.3" cy="1588.2" r="2.9"/><circle cx="1757.4" cy="1590.9" r="2.9"/><circle cx="1777.7" cy="1595.1" r="2.9"/><circle cx="1796.7" cy="1600.4" r="2.9"/><circle cx="1813.5" cy="1610.3" r="2.9"/><circle cx="1829.8" cy="1613.6" r="2.9"/><circle cx="1844.6" cy="1621.2" r="2.9"/><circle cx="1859.1" cy="1627.7" r="2.9"/><circle cx="1872.7" cy="1636.7" r="2.9"/><circle cx="1886.2" cy="1645.2" r="2.9"/><circle cx="1899.8" cy="1653.7" r="2.9"/><circle cx="1913.4" cy="1661.9" r="2.9"/></g>
<path d="M1526.4,1515.9 L1554.5,1523.5 L1578.9,1534.0 L1596.1,1535.8 L1613.3,1544.8 L1621.4,1548.4 L1635.9,1568.3 L1660.0,1571.5 L1690.0,1574.5 L1720.0,1577.5 L1753.3,1580.1 L1775.0,1582.0 L1787.6,1578.3 L1797.6,1580.1" stroke="#f58a4a" stroke-width="2.0" fill="none" stroke-linejoin="round"/>
<g fill="#f0701c"><circle cx="1526.4" cy="1515.9" r="2.9"/><circle cx="1554.5" cy="1523.5" r="2.9"/><circle cx="1578.9" cy="1534" r="2.9"/><circle cx="1596.1" cy="1535.8" r="2.9"/><circle cx="1613.3" cy="1544.8" r="2.9"/><circle cx="1621.4" cy="1548.4" r="2.9"/><circle cx="1635.9" cy="1568.3" r="2.9"/><circle cx="1660" cy="1571.5" r="2.9"/><circle cx="1690" cy="1574.5" r="2.9"/><circle cx="1720" cy="1577.5" r="2.9"/><circle cx="1753.3" cy="1580.1" r="2.9"/><circle cx="1775" cy="1582" r="2.9"/><circle cx="1787.6" cy="1578.3" r="2.9"/><circle cx="1797.6" cy="1580.1" r="2.9"/></g>
<path d="M1518.8,1510.4 L1543.6,1512.3 L1569.8,1515.0 L1592.5,1526.7 L1613.3,1527.6 L1634.1,1528.5 L1654.0,1529.4 L1673.0,1540.3 L1692.9,1546.6 L1711.3,1544.5 L1728.8,1554.8 L1746.0,1557.1 L1760.5,1568.3 L1773.2,1582.8" stroke="#b4623c" stroke-width="2.0" fill="none" stroke-linejoin="round"/>
<g fill="#a8502a"><circle cx="1518.8" cy="1510.4" r="2.9"/><circle cx="1543.6" cy="1512.3" r="2.9"/><circle cx="1569.8" cy="1515" r="2.9"/><circle cx="1592.5" cy="1526.7" r="2.9"/><circle cx="1613.3" cy="1527.6" r="2.9"/><circle cx="1634.1" cy="1528.5" r="2.9"/><circle cx="1654" cy="1529.4" r="2.9"/><circle cx="1673" cy="1540.3" r="2.9"/><circle cx="1692.9" cy="1546.6" r="2.9"/><circle cx="1711.3" cy="1544.5" r="2.9"/><circle cx="1728.8" cy="1554.8" r="2.9"/><circle cx="1746" cy="1557.1" r="2.9"/><circle cx="1760.5" cy="1568.3" r="2.9"/><circle cx="1773.2" cy="1582.8" r="2.9"/></g>
<path d="M1527.3,1503.6 L1548.1,1502.9 L1569.8,1515.9 L1591.5,1525.8 L1608.7,1526.7 L1626.8,1531.3 L1645.8,1537.6 L1664.8,1543.9 L1683.8,1553.0 L1701.9,1559.3 L1717.3,1570.1 L1729.7,1580.1 L1740.6,1592.8 L1750.5,1604.5" stroke="#e0aa3a" stroke-width="2.0" fill="none" stroke-linejoin="round"/>
<g fill="#dba21c"><circle cx="1527.3" cy="1503.6" r="2.9"/><circle cx="1548.1" cy="1502.9" r="2.9"/><circle cx="1569.8" cy="1515.9" r="2.9"/><circle cx="1591.5" cy="1525.8" r="2.9"/><circle cx="1608.7" cy="1526.7" r="2.9"/><circle cx="1626.8" cy="1531.3" r="2.9"/><circle cx="1645.8" cy="1537.6" r="2.9"/><circle cx="1664.8" cy="1543.9" r="2.9"/><circle cx="1683.8" cy="1553" r="2.9"/><circle cx="1701.9" cy="1559.3" r="2.9"/><circle cx="1717.3" cy="1570.1" r="2.9"/><circle cx="1729.7" cy="1580.1" r="2.9"/><circle cx="1740.6" cy="1592.8" r="2.9"/><circle cx="1750.5" cy="1604.5" r="2.9"/></g>
<path d="M1567.1,1603.1 L1602.4,1603.6 L1635.9,1606.3 L1667.5,1609.9 L1696.2,1612.3 L1720.0,1618.1 L1745.1,1620.8 L1766.8,1627.5 L1787.6,1632.9 L1806.6,1640.7 L1823.8,1647.9 L1839.2,1656.1 L1854.6,1664.6 L1869.0,1674.2 L1884.2,1684.0 L1899.6,1693.8 L1915.1,1703.2 L1934.4,1712.3" stroke="#3a3a3a" stroke-width="2.0" fill="none" stroke-linejoin="round"/>
<g fill="#111"><circle cx="1567.1" cy="1603.1" r="2.7"/><circle cx="1602.4" cy="1603.6" r="2.7"/><circle cx="1635.9" cy="1606.3" r="2.7"/><circle cx="1667.5" cy="1609.9" r="2.7"/><circle cx="1696.2" cy="1612.3" r="2.7"/><circle cx="1720" cy="1618.1" r="2.7"/><circle cx="1745.1" cy="1620.8" r="2.7"/><circle cx="1766.8" cy="1627.5" r="2.7"/><circle cx="1787.6" cy="1632.9" r="2.7"/><circle cx="1806.6" cy="1640.7" r="2.7"/><circle cx="1823.8" cy="1647.9" r="2.7"/><circle cx="1839.2" cy="1656.1" r="2.7"/><circle cx="1854.6" cy="1664.6" r="2.7"/><circle cx="1869" cy="1674.2" r="2.7"/><circle cx="1884.2" cy="1684" r="2.7"/><circle cx="1899.6" cy="1693.8" r="2.7"/><circle cx="1915.1" cy="1703.2" r="2.7"/><circle cx="1934.4" cy="1712.3" r="2.7"/></g>
<rect x="1798.5" y="1447.1" width="121.20000000000005" height="110.70000000000005" fill="url(#cPhoto)"/><polygon points="1806.8,1478.0 1839.5,1474.0 1839.5,1556.6 1805.5,1556.6" fill="url(#cStripe)" stroke="url(#cStripe)" stroke-width="0.7" stroke-linejoin="round"/><polygon points="1869.5,1478.0 1899.8,1480.0 1897.5,1556.6 1868.5,1556.6" fill="url(#cStripe)" stroke="url(#cStripe)" stroke-width="0.7" stroke-linejoin="round"/><rect x="1839.5" y="1478" width="30" height="78" fill="#4a3d22" opacity="0.85"/><rect x="1841" y="1486" width="27" height="14" fill="#5f7040" opacity="0.6"/><rect x="1836.5" y="1511.5" width="34.5" height="27" rx="5" fill="#ff1b52" filter="url(#fGlow)"/><text font-family='"Liberation Sans", sans-serif' fill="#f0301e" transform="scale(0.8800,1)"><tspan x="2059.77" y="1505.00" font-size="54.98">x</tspan><tspan x="2090.57" y="1506.50" font-size="55.00">=</tspan><tspan x="2130.96" y="1505.50" font-size="60.22">8</tspan></text>
<text transform="translate(1437.80,1524.60) scale(1.0289,1)" x="-3.42" y="0" font-family='"Liberation Serif", serif' font-size="39.10" fill="#151515" stroke="#151515" stroke-width="0.6" stroke-linejoin="round">10</text>
<text transform="translate(1458.60,1627.10) scale(0.7777,1)" x="-3.45" y="0" font-family='"Liberation Serif", serif' font-size="39.39" fill="#151515" stroke="#151515" stroke-width="0.6" stroke-linejoin="round">1</text>
<text transform="translate(1424.40,1728.90) scale(1.0155,1)" x="-1.41" y="0" font-family='"Liberation Serif", serif' font-size="37.59" fill="#151515" stroke="#151515" stroke-width="0.6" stroke-linejoin="round">0.1</text>
<text transform="translate(1537.00,1815.00) scale(0.9332,1)" x="-4.20" y="0" font-family='"Liberation Serif", serif' font-size="48.03" fill="#151515" stroke="#151515" stroke-width="0.6" stroke-linejoin="round">1</text>
<text transform="translate(1721.60,1815.00) scale(0.9710,1)" x="-4.17" y="0" font-family='"Liberation Serif", serif' font-size="47.67" fill="#151515" stroke="#151515" stroke-width="0.6" stroke-linejoin="round">10</text>
<text transform="translate(1904.50,1815.00) scale(0.9932,1)" x="-4.17" y="0" font-family='"Liberation Serif", serif' font-size="47.67" fill="#151515" stroke="#151515" stroke-width="0.6" stroke-linejoin="round">100</text>
<text transform="translate(1407.90,1688.40) rotate(-90.00) scale(0.8713,1)" x="-4.12" y="0" font-family='"Liberation Sans", sans-serif' font-size="49.89" fill="#111" stroke="#111" stroke-width="0.8" stroke-linejoin="round">EQE (%)</text>
<text font-family='"Liberation Sans", sans-serif' fill="#111" transform="scale(1.0679,1)" stroke="#111" stroke-width="0.7" stroke-linejoin="round"><tspan x="1381.24" y="1867.80" font-size="40.29">Current Density (mA/cm</tspan><tspan x="1809.82" y="1844.00" font-size="23.66">2</tspan><tspan x="1825.21" y="1867.80" font-size="40.29">)</tspan></text>
<text transform="translate(1515.60,1485.10) scale(0.9486,1)" x="-1.24" y="0" font-family='"Liberation Sans", sans-serif' font-size="45.16" fill="#00a651" font-style="italic" stroke="#00a651" stroke-width="0.7" stroke-linejoin="round">S-</text>
<line x1="1498.3" y1="1642.7" x2="1528.3" y2="1642.7" stroke="#444" stroke-width="2.2" />
<circle cx="1513.3" cy="1642.7" r="2.9" fill="#111"/>
<text transform="translate(1530.00,1649.50) scale(1.0261,1)" x="-0.35" y="0" font-family='"Liberation Sans", sans-serif' font-size="28.10" fill="#1b1b1b" stroke="#1b1b1b" stroke-width="0.6" stroke-linejoin="round">x=6</text>
<line x1="1498.3" y1="1680.3" x2="1528.3" y2="1680.3" stroke="#f4584e" stroke-width="2.2" />
<circle cx="1513.3" cy="1680.3" r="2.9" fill="#ee1c22"/>
<text transform="translate(1530.00,1687.10) scale(1.0309,1)" x="-0.35" y="0" font-family='"Liberation Sans", sans-serif' font-size="28.10" fill="#1b1b1b" stroke="#1b1b1b" stroke-width="0.6" stroke-linejoin="round">x=7</text>
<line x1="1498.3" y1="1716.6" x2="1528.3" y2="1716.6" stroke="#6cc3c0" stroke-width="2.2" />
<circle cx="1513.3" cy="1716.6" r="2.9" fill="#0fa15a"/>
<text transform="translate(1530.00,1723.40) scale(1.0588,1)" x="-0.35" y="0" font-family='"Liberation Sans", sans-serif' font-size="28.10" fill="#1b1b1b" stroke="#1b1b1b" stroke-width="0.6" stroke-linejoin="round">x=7.5</text>
<line x1="1498.3" y1="1752.8" x2="1528.3" y2="1752.8" stroke="#6fb0e2" stroke-width="2.2" />
<circle cx="1513.3" cy="1752.8" r="2.9" fill="#3f8fd2"/>
<text transform="translate(1530.00,1759.60) scale(1.0261,1)" x="-0.35" y="0" font-family='"Liberation Sans", sans-serif' font-size="28.10" fill="#1b1b1b" stroke="#1b1b1b" stroke-width="0.6" stroke-linejoin="round">x=8</text>
<line x1="1610.8" y1="1680.3" x2="1640.8" y2="1680.3" stroke="#f58a4a" stroke-width="2.2" />
<circle cx="1625.8" cy="1680.3" r="2.9" fill="#f0701c"/>
<text transform="translate(1642.50,1687.10) scale(1.0588,1)" x="-0.35" y="0" font-family='"Liberation Sans", sans-serif' font-size="28.10" fill="#1b1b1b" stroke="#1b1b1b" stroke-width="0.6" stroke-linejoin="round">x=8.5</text>
<line x1="1610.8" y1="1716.6" x2="1640.8" y2="1716.6" stroke="#b4623c" stroke-width="2.2" />
<circle cx="1625.8" cy="1716.6" r="2.9" fill="#a8502a"/>
<text transform="translate(1642.50,1723.40) scale(1.0277,1)" x="-0.35" y="0" font-family='"Liberation Sans", sans-serif' font-size="28.10" fill="#1b1b1b" stroke="#1b1b1b" stroke-width="0.6" stroke-linejoin="round">x=9</text>
<line x1="1610.8" y1="1752.8" x2="1640.8" y2="1752.8" stroke="#e0aa3a" stroke-width="2.2" />
<circle cx="1625.8" cy="1752.8" r="2.9" fill="#dba21c"/>
<text transform="translate(1642.50,1759.60) scale(1.0588,1)" x="-0.35" y="0" font-family='"Liberation Sans", sans-serif' font-size="28.10" fill="#1b1b1b" stroke="#1b1b1b" stroke-width="0.6" stroke-linejoin="round">x=9.5</text>
</svg>
</body></html>
